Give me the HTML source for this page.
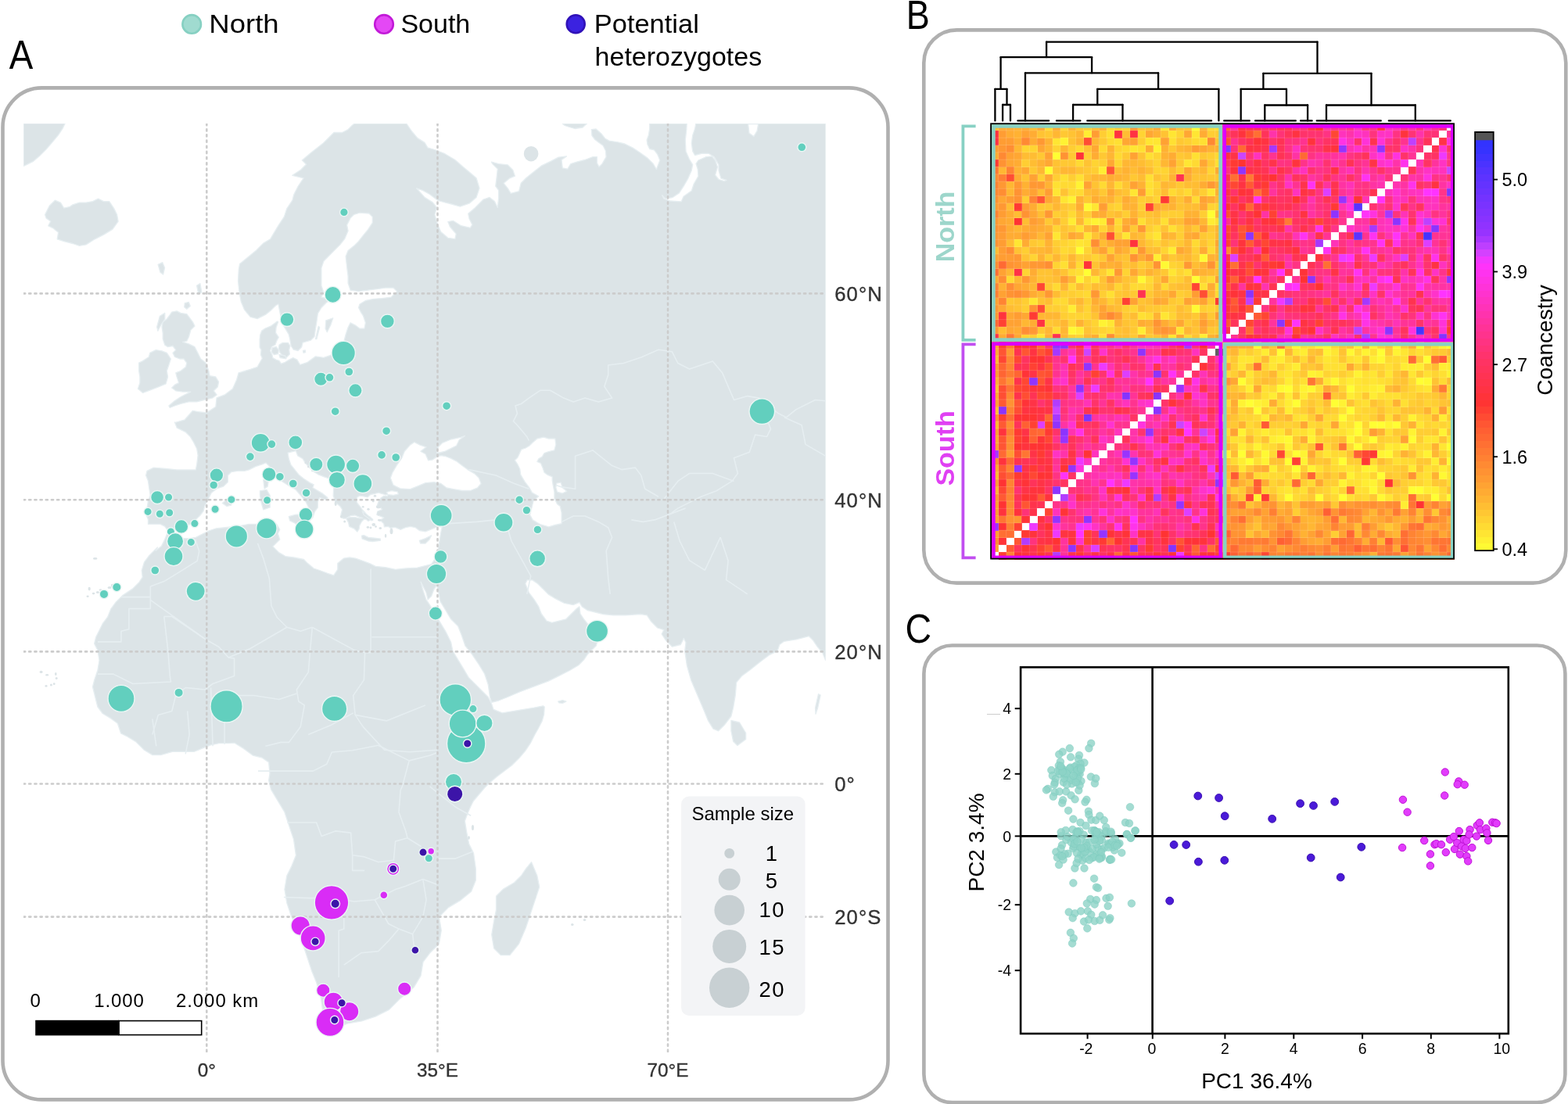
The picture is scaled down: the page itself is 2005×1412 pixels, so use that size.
<!DOCTYPE html>
<html><head><meta charset="utf-8"><title>Figure</title><style>html,body{margin:0;padding:0;background:#fff;}svg{display:block}</style></head><body>
<svg xmlns="http://www.w3.org/2000/svg" width="2005" height="1412" viewBox="0 0 2005 1412" style="display:block">
<rect width="2005" height="1412" fill="#fff"/>
<g fill="none" stroke="#b0b0b0" stroke-width="4.6">
<rect x="3.5" y="112.4" width="1132" height="1294" rx="50" ry="50"/>
<rect x="1181.3" y="38.4" width="821" height="707.2" rx="42" ry="42"/>
<rect x="1181.4" y="825.5" width="820" height="584.6" rx="36" ry="36"/>
</g>
<g font-family="'Liberation Sans', Arial, sans-serif" fill="#000">
<text transform="translate(11.8,88) scale(0.88,1)" font-size="52">A</text>
<text transform="translate(1158.7,36.9) scale(0.867,1)" font-size="52">B</text>
<text transform="translate(1157.4,821.5) scale(0.895,1)" font-size="52">C</text>
</g>
<g>
<circle cx="245.2" cy="30.9" r="11.8" fill="#a0dbd0" stroke="#86d0c2" stroke-width="2.6"/>
<circle cx="491" cy="30.9" r="11.8" fill="#e448f5" stroke="#c21ad8" stroke-width="2.6"/>
<circle cx="736.2" cy="30.7" r="11.5" fill="#3b22e0" stroke="#3012b8" stroke-width="2.6"/>
<g font-family="'Liberation Sans', Arial, sans-serif" font-size="34" fill="#000">
<text transform="translate(267.3,41.7) scale(1.075,1)">North</text>
<text x="512.4" y="41.7">South</text>
<text x="759.8" y="41.6" textLength="134" lengthAdjust="spacingAndGlyphs">Potential</text>
<text x="760.6" y="83.5">heterozygotes</text>
</g></g>
<defs><clipPath id="mapclip"><rect x="30" y="158" width="1025.7" height="1188"/></clipPath></defs>
<g clip-path="url(#mapclip)">
<g fill="#dce4e7" stroke="#e6eef1" stroke-width="1.3" stroke-linejoin="round">
<polygon points="453.5,158.0 519.7,158.0 526.6,168.0 533.9,176.6 543.0,182.4 546.9,188.9 555.9,191.5 568.9,196.7 581.9,204.5 592.2,213.5 600.0,220.0 609.1,227.8 613.0,240.8 609.1,252.4 600.0,260.2 588.4,264.1 579.3,261.5 568.9,258.9 559.8,256.3 549.5,248.5 540.4,243.4 532.6,240.8 543.0,252.4 553.3,258.9 558.5,265.4 555.9,274.5 559.8,287.4 563.7,296.5 572.8,304.3 581.9,305.6 583.2,299.1 575.4,290.0 572.8,283.6 579.3,282.3 589.6,288.7 601.3,291.3 603.9,287.4 600.0,279.7 598.7,273.2 607.8,265.4 618.2,255.0 626.0,252.4 632.4,257.6 636.3,265.4 637.6,253.7 637.6,243.4 633.7,238.2 635.0,227.8 636.3,216.1 629.8,209.6 628.5,207.1 637.6,209.6 649.3,210.9 655.8,217.4 658.4,225.2 651.9,227.8 644.1,234.3 649.3,240.8 653.2,247.3 663.6,244.7 666.2,234.3 672.6,227.8 679.1,222.6 692.1,212.2 705.1,205.8 714.1,201.2 724.5,199.9 718.0,204.5 719.3,214.8 725.8,216.1 729.7,209.6 737.5,207.1 747.8,204.5 758.2,200.6 763.4,200.6 763.4,208.4 766.0,213.5 769.9,209.6 775.1,200.6 774.4,192.8 771.2,186.3 766.0,182.4 760.8,178.5 756.9,173.3 756.3,165.6 762.1,164.9 768.6,170.7 773.8,177.2 779.0,180.1 790.0,181.8 798.9,184.0 809.1,189.1 817.7,194.8 827.9,202.1 835.1,209.3 839.4,216.5 843.8,205.0 840.9,197.7 836.5,191.9 830.7,190.5 827.9,184.7 827.1,178.9 829.3,173.1 830.7,164.5 830.7,158.0 878.2,158.0 877.8,165.9 876.3,178.9 877.0,193.4 881.4,203.5 885.7,210.7 884.3,218.0 879.9,228.1 874.1,238.2 868.4,246.9 859.7,252.7 851.0,254.1 846.7,249.8 848.8,254.1 856.8,257.0 871.2,257.8 874.1,251.2 884.3,244.0 887.2,235.3 892.9,225.2 892.2,216.5 890.0,209.3 892.9,205.0 903.1,200.6 910.3,199.9 914.6,205.0 917.5,213.6 914.6,223.8 919.0,229.5 926.2,231.7 929.1,230.3 921.9,228.1 919.0,218.0 919.0,210.7 913.2,200.6 906.0,196.3 897.3,196.3 888.6,198.5 885.7,193.4 884.3,183.3 885.7,173.1 888.6,164.5 889.8,158.0 1055.7,158.0 1055.7,844.7 1051.9,835.2 1045.2,827.2 1039.8,819.1 1034.4,813.7 1018.3,817.8 1002.2,820.4 996.8,824.5 994.1,832.6 983.3,837.9 972.6,846.0 959.1,856.8 948.3,864.8 941.6,872.9 940.3,889.1 937.6,905.2 934.9,916.0 926.8,926.7 918.7,934.8 912.0,932.1 905.3,921.3 899.9,907.9 891.8,889.1 883.8,870.2 878.4,851.4 875.7,832.6 877.0,821.8 874.3,816.4 870.3,824.5 859.6,827.2 851.5,819.1 846.1,811.0 848.8,805.6 840.7,803.0 832.6,794.9 827.3,786.8 819.2,785.5 800.4,786.8 784.2,786.8 770.8,785.5 769.2,785.0 751.1,780.5 744.3,775.9 740.9,770.3 733.0,773.7 721.6,771.4 710.3,765.7 701.2,760.1 694.4,753.3 687.6,746.5 680.9,741.9 674.1,741.9 671.8,746.5 676.3,757.8 683.1,766.9 688.8,775.9 692.2,785.0 699.0,794.1 705.8,796.3 714.8,794.1 723.9,791.8 730.7,785.0 737.5,778.2 740.9,775.9 742.0,785.0 746.6,791.8 755.6,803.1 764.7,816.7 762.4,825.8 755.6,832.6 751.1,837.1 746.6,843.9 739.8,850.7 728.4,857.5 714.8,864.3 701.2,871.1 683.1,877.9 665.0,884.7 649.1,891.5 637.8,896.0 628.7,898.3 626.5,891.5 624.2,875.6 619.7,862.0 612.9,850.7 603.8,837.1 594.8,825.8 590.2,812.2 585.7,800.9 576.6,791.8 569.8,780.5 563.0,769.1 560.8,757.8 558.5,748.7 555.1,753.3 551.7,762.3 547.2,766.9 544.9,757.8 541.5,751.0 538.1,744.2 540.4,753.3 544.9,766.9 549.5,773.7 556.2,785.0 563.0,796.3 569.8,807.6 576.6,821.2 578.9,832.6 585.7,843.9 592.5,855.2 599.3,866.6 608.4,875.6 617.4,884.7 624.2,891.5 628.7,900.5 631.0,907.3 642.3,911.9 655.9,909.6 669.5,907.3 683.1,905.1 694.4,902.8 696.2,904.1 695.6,913.7 693.2,922.1 688.3,931.8 683.5,940.2 678.7,949.8 671.5,960.7 664.3,969.1 654.6,978.7 645.0,985.9 635.4,993.2 626.9,1000.4 619.7,1007.6 612.5,1016.0 605.3,1024.5 601.7,1031.7 598.1,1040.1 594.4,1050.0 596.8,1064.8 599.7,1079.4 605.5,1091.0 608.4,1111.3 608.4,1125.8 602.6,1140.3 588.1,1151.9 573.5,1160.6 564.8,1169.4 561.4,1172.3 564.3,1189.8 561.4,1207.2 549.8,1218.8 541.0,1230.4 538.1,1247.8 529.4,1262.4 512.0,1276.9 497.5,1291.4 480.1,1300.1 462.6,1305.9 445.2,1308.8 427.8,1314.6 419.1,1308.8 413.3,1297.2 410.4,1276.9 404.6,1256.6 398.7,1242.0 392.9,1224.6 387.1,1207.2 381.3,1189.8 372.6,1172.3 366.8,1154.9 363.9,1137.5 366.8,1120.1 372.6,1108.4 378.4,1093.9 375.5,1073.6 369.7,1056.2 363.9,1038.7 355.2,1024.2 346.5,1009.7 343.6,998.1 345.0,989.4 343.6,974.9 334.9,969.0 323.2,966.1 311.6,957.4 300.0,950.2 292.7,950.7 280.0,950.7 269.4,952.9 258.7,957.1 248.1,961.4 237.5,961.4 220.5,961.4 205.6,965.6 195.0,965.6 184.4,959.2 173.7,948.6 163.1,942.2 154.6,938.0 150.4,925.2 141.9,918.9 131.2,912.5 124.9,904.0 122.7,895.5 120.6,887.0 118.5,878.5 120.6,870.0 124.9,857.2 127.0,844.5 124.9,831.7 120.6,823.2 122.7,814.7 127.0,806.2 131.2,797.7 137.6,789.2 141.9,778.6 148.2,770.1 156.7,761.6 169.5,753.1 178.0,744.6 182.2,738.2 181.2,729.7 184.4,719.1 190.7,710.6 201.4,700.0 199.3,704.3 206.4,698.6 210.6,690.1 213.5,683.0 217.7,681.6 224.8,685.9 233.3,688.7 241.8,688.7 250.3,687.3 258.8,683.0 267.3,678.8 275.8,676.0 289.9,674.5 304.1,673.1 318.3,670.3 329.6,670.3 340.9,667.5 350.0,666.0 354.0,670.9 357.8,677.3 355.3,682.4 357.8,690.0 352.7,695.1 348.9,698.9 356.6,706.6 365.5,711.7 375.7,713.0 388.4,715.5 393.5,720.6 401.2,727.0 408.8,729.5 419.0,733.4 426.7,735.9 431.8,728.3 431.8,720.6 439.4,714.2 447.1,713.0 454.7,714.2 462.4,716.8 472.6,720.6 480.2,724.4 493.0,725.7 505.7,728.3 518.5,727.0 533.6,726.1 542.7,723.8 551.7,721.6 556.2,714.8 559.6,705.7 561.9,692.1 564.2,678.5 565.3,674.0 560.0,673.4 550.3,677.3 544.0,679.8 536.3,678.5 531.2,674.7 524.8,673.4 518.5,674.7 512.1,677.3 505.7,674.7 503.9,674.4 499.3,675.5 496.5,673.3 491.4,673.8 490.8,669.9 488.0,667.0 484.0,665.3 488.0,664.2 490.8,661.9 488.0,660.8 481.8,658.5 482.9,654.0 488.6,651.7 486.9,649.5 481.8,647.8 484.0,641.5 486.9,637.0 490.8,634.2 495.4,634.7 496.5,631.3 493.7,633.0 488.0,631.3 484.0,630.2 479.5,631.3 473.8,632.5 469.9,635.9 464.2,634.7 459.7,634.2 456.8,635.9 456.3,638.7 456.3,642.7 458.5,645.5 460.8,648.3 463.1,651.7 466.5,655.1 468.7,659.7 472.7,660.8 476.7,665.3 473.8,664.8 471.0,666.5 468.2,664.2 465.5,664.0 462.5,667.0 459.7,672.1 459.1,676.7 456.8,680.1 454.0,677.2 452.9,676.1 446.6,673.3 445.5,668.2 442.7,663.1 438.7,663.1 435.9,658.5 437.6,651.7 434.7,647.2 429.1,642.7 426.2,634.2 426.8,620.0 421.6,612.3 413.9,609.7 407.6,607.2 401.2,603.3 396.1,598.2 391.0,593.1 387.2,586.8 380.8,582.9 378.2,576.6 368.0,579.1 369.3,586.8 371.9,594.4 377.0,600.8 382.1,607.2 388.4,612.3 396.1,617.4 401.2,619.9 399.9,623.7 406.3,627.6 412.7,631.4 419.0,636.5 416.5,639.0 408.8,636.5 406.3,641.6 406.3,649.2 402.5,654.3 399.9,662.0 396.1,665.8 393.5,660.7 396.1,651.8 393.5,646.7 391.0,641.6 384.6,633.9 378.2,626.3 369.3,621.2 359.1,614.8 352.7,608.4 347.6,600.8 343.8,595.7 340.0,591.9 335.3,593.8 326.8,596.6 318.3,600.9 312.6,602.3 304.1,602.3 295.6,603.7 291.4,608.0 291.4,616.5 285.7,622.1 277.2,625.0 270.1,630.6 265.9,639.1 261.6,647.6 260.2,653.3 256.0,659.0 250.3,664.6 243.2,670.3 233.3,676.0 222.0,678.8 214.9,678.8 210.6,673.1 205.0,670.3 196.5,670.3 189.4,670.3 189.4,664.6 186.6,657.5 188.0,650.5 189.4,640.6 192.2,633.5 190.8,625.0 189.4,615.1 186.6,608.0 188.0,602.3 196.5,598.1 212.1,599.5 226.2,600.9 240.4,600.9 250.3,600.9 251.7,593.8 253.1,582.5 251.7,574.0 247.5,565.5 243.2,558.4 237.5,552.7 226.2,547.1 223.4,540.0 223.5,540.6 236.3,536.8 246.5,525.3 252.9,526.6 264.3,527.9 275.8,520.2 277.1,508.8 287.3,504.9 297.5,497.3 302.6,485.8 305.1,476.9 314.1,474.3 309.7,475.3 320.2,472.3 329.1,469.3 335.3,458.2 333.4,453.7 334.0,447.4 332.1,444.2 332.1,434.6 332.7,428.2 334.7,423.1 339.1,420.0 346.8,416.8 351.9,412.9 354.4,411.0 355.7,411.7 353.1,418.7 352.5,425.7 356.3,431.4 353.8,435.9 351.9,441.0 347.4,443.5 345.5,448.6 348.0,453.7 348.7,457.6 353.1,460.1 357.0,461.4 359.5,465.2 364.6,463.3 369.7,460.1 374.8,457.6 379.9,460.1 383.7,466.5 393.3,463.3 403.5,455.9 403.5,455.9 413.9,457.4 422.8,454.4 431.7,447.0 439.2,441.1 440.6,433.6 442.1,427.7 445.1,418.7 448.1,412.8 454.0,415.8 460.0,420.2 465.9,420.2 467.4,412.8 464.4,403.9 461.5,399.4 458.5,393.5 460.0,389.0 467.4,384.5 477.8,382.3 488.2,381.6 500.1,380.1 507.6,372.6 503.1,368.2 492.7,368.2 482.3,369.7 470.4,371.1 458.5,372.6 448.1,371.1 445.1,362.2 445.1,353.3 443.6,341.4 442.1,328.0 445.1,320.6 452.5,314.6 458.5,308.7 464.4,301.2 470.4,293.8 476.3,284.9 476.3,277.4 471.9,273.0 460.0,272.2 452.5,274.5 448.1,278.9 443.6,287.8 445.1,295.3 440.6,305.7 434.7,313.1 428.7,319.1 421.3,326.5 413.9,334.0 410.9,342.9 410.9,353.3 410.9,365.2 413.9,374.1 410.9,380.1 422.8,383.0 416.8,387.5 410.9,393.5 406.4,400.9 404.9,411.3 403.5,420.2 402.0,430.6 397.5,435.1 387.1,438.1 385.6,444.0 381.1,448.5 375.2,447.0 372.2,442.5 370.7,433.6 369.2,427.7 364.8,420.2 360.3,412.8 358.8,403.9 357.3,396.4 355.9,389.0 352.9,390.5 346.9,396.4 339.5,402.4 329.1,407.6 320.2,405.4 312.7,396.4 308.3,386.0 306.0,374.1 304.5,359.2 305.3,344.4 306.6,337.6 317.3,328.8 327.9,319.9 336.7,311.1 345.6,305.8 350.9,296.9 356.2,288.1 363.3,277.4 366.8,266.8 373.9,256.2 375.7,249.1 381.0,238.5 388.1,227.9 373.9,224.3 384.5,217.3 391.6,210.2 386.3,204.9 396.9,196.0 405.8,188.9 412.8,183.6 421.7,174.8 427.0,169.5 437.6,169.5 444.7,165.9 450.0,160.6"/>
<polygon points="30.1,157.9 83.1,157.9 80.2,164.2 74.6,172.7 67.5,181.2 59.0,191.1 50.5,199.6 42.0,206.7 33.5,210.9 30.1,212.3"/>
<polygon points="57.6,274.6 63.2,263.3 70.3,256.2 77.4,259.1 81.7,266.1 88.7,264.7 93.0,261.9 101.5,259.1 110.0,259.1 118.5,257.6 125.6,254.2 132.6,257.6 139.7,257.6 145.4,266.1 149.6,274.6 151.1,283.1 144.0,293.1 132.6,300.1 121.3,305.8 110.0,312.9 101.5,314.3 93.0,311.5 81.7,308.6 73.2,305.8 74.6,297.3 67.5,291.6 61.8,288.8 64.7,283.1 59.0,278.9"/>
<polygon points="202.1,338.4 207.7,335.6 210.6,342.6 208.6,351.1 204.9,348.3"/>
<polygon points="177.6,464.1 182.7,461.6 190.4,456.5 191.7,451.4 199.3,447.6 207.0,448.8 213.3,451.4 218.4,459.0 215.9,466.7 213.3,474.3 214.6,482.0 212.1,490.9 203.1,494.7 192.9,498.6 182.7,502.4 176.4,497.3 178.9,489.6 178.9,482.0 177.6,474.3"/>
<polygon points="219.7,399.1 226.1,397.8 231.2,400.4 238.8,401.7 246.5,411.9 249.0,417.0 243.9,422.1 241.4,431.0 238.8,436.1 233.7,437.4 241.4,439.9 249.0,443.7 252.9,451.4 256.7,459.0 263.1,464.1 266.9,474.3 268.2,480.7 275.8,482.0 279.6,488.4 278.4,494.7 273.3,499.8 277.1,504.9 272.0,508.8 261.8,511.3 251.6,513.9 241.4,513.9 231.2,516.4 223.5,519.0 217.2,521.5 215.9,519.0 223.5,512.6 231.2,507.5 238.8,503.7 243.9,501.1 233.7,501.1 224.8,499.8 219.7,496.0 223.5,492.2 228.6,489.6 226.1,482.0 224.8,476.9 231.2,474.3 237.6,469.2 238.8,464.1 235.0,459.0 229.9,459.0 223.5,456.5 221.0,451.4 224.8,447.6 221.0,442.5 214.6,443.7 210.8,441.2 208.2,433.5 208.2,425.9 207.0,418.2 208.2,411.9 213.3,408.0 217.2,402.9"/>
<polygon points="204.4,404.2 210.8,400.4 210.8,408.0 205.7,415.7 201.9,423.3 200.6,418.2"/>
<polygon points="236.3,387.6 241.4,386.4 243.3,391.5 238.8,395.3 235.7,392.7"/>
<polygon points="251.6,365.3 255.9,362.5 257.9,373.8 253.9,376.6"/>
<polygon points="369.3,660.7 378.2,658.2 387.2,658.2 394.8,656.9 396.1,662.0 393.5,668.3 394.8,674.7 391.0,677.3 383.3,673.4 375.7,668.3 370.6,665.8"/>
<polygon points="336.7,613.6 340.9,610.8 343.1,616.5 342.3,622.1 338.1,625.0"/>
<polygon points="332.4,627.8 340.9,626.4 345.2,633.5 345.2,649.0 336.7,651.9 333.9,642.0 332.4,633.5"/>
<polygon points="284.3,643.4 289.9,639.1 297.0,640.6 295.6,646.2 289.9,647.6"/>
<polygon points="462.5,685.2 465.3,684.6 471.0,687.4 476.7,688.0 486.3,689.1 486.3,691.4 476.7,692.5 471.0,692.0 463.1,689.1"/>
<polygon points="536.3,691.3 544.0,688.7 551.6,684.9 549.1,690.0 544.0,695.1 537.6,695.1"/>
<polygon points="357.0,441.0 361.4,438.4 368.4,438.4 371.0,442.3 369.7,447.4 370.4,453.1 365.9,457.6 361.4,455.0 358.2,451.2 356.3,446.1"/>
<polygon points="348.0,444.8 353.1,443.5 356.3,447.4 355.7,452.5 350.6,453.7 347.4,450.5"/>
<polygon points="357.0,453.7 364.6,455.0 365.9,458.8 358.2,457.6"/>
<polygon points="387.5,448.5 390.3,447.9 390.6,450.6 388.0,451.3"/>
<polygon points="416.8,409.8 425.8,406.8 422.8,415.8 418.3,424.7 416.1,420.2"/>
<polygon points="407.2,417.3 408.7,418.7 404.9,433.6 403.5,433.6"/>
<polygon points="679.5,1102.6 686.8,1120.0 689.7,1134.5 683.9,1151.9 678.1,1169.4 672.3,1186.8 663.6,1207.1 651.9,1221.6 640.3,1221.6 631.6,1212.9 628.7,1195.5 631.6,1178.1 634.5,1163.6 634.5,1146.1 643.2,1137.4 657.7,1128.7 666.5,1120.0 672.3,1111.3"/>
<polygon points="934.9,921.3 945.6,924.0 953.7,937.5 953.7,945.6 943.0,953.6 937.6,948.2 934.9,934.8"/>
<polygon points="1046.5,887.7 1049.2,889.1 1045.7,905.2 1043.0,913.3 1042.5,905.2"/>
<polygon points="719.3,158.0 750.4,158.0 745.0,163.0 735.0,164.5 728.0,162.5 722.0,160.5"/>
<polygon points="713.7,897.1 719.4,895.6 723.9,897.1 719.4,899.4 714.8,898.9"/>
<polygon points="463.1,654.0 467.0,656.3 471.0,659.7 476.7,664.2 475.5,665.9 469.9,661.9 465.3,658.5"/>
</g>
<g fill="#dce4e7">
<ellipse cx="679.1" cy="196.7" rx="9.3" ry="9.7"/>
<ellipse cx="114.2" cy="753.1" rx="1.6" ry="2.4"/>
<ellipse cx="119.6" cy="759.1" rx="1.8" ry="1.4"/>
<ellipse cx="124.9" cy="757.4" rx="2.0" ry="1.5"/>
<ellipse cx="112.1" cy="762.7" rx="1.6" ry="1.3"/>
<ellipse cx="128.5" cy="754.5" rx="1.8" ry="1.3"/>
<ellipse cx="140.0" cy="751.5" rx="2.5" ry="1.5"/>
<ellipse cx="143.5" cy="749.0" rx="1.6" ry="2.2"/>
<ellipse cx="121.7" cy="714.4" rx="2.8" ry="1.4"/>
<ellipse cx="52.6" cy="859.4" rx="2.0" ry="1.6"/>
<ellipse cx="60.1" cy="863.2" rx="2.0" ry="1.2"/>
<ellipse cx="71.3" cy="861.9" rx="1.3" ry="2.0"/>
<ellipse cx="72.2" cy="867.4" rx="1.5" ry="1.5"/>
<ellipse cx="59.0" cy="877.4" rx="1.6" ry="1.4"/>
<ellipse cx="65.4" cy="875.9" rx="1.5" ry="1.5"/>
<ellipse cx="69.2" cy="874.7" rx="1.4" ry="1.4"/>
<ellipse cx="683.5" cy="1148.5" rx="1.2" ry="1.2"/>
<ellipse cx="731.8" cy="1182.5" rx="1.8" ry="1.5"/>
<ellipse cx="747.5" cy="1176.5" rx="1.8" ry="1.6"/>
<ellipse cx="604.5" cy="1058.5" rx="1.6" ry="3.5"/>
<ellipse cx="599.5" cy="1071.5" rx="1.4" ry="2.2"/>
<ellipse cx="471.0" cy="651.2" rx="1.7" ry="1.5"/>
<ellipse cx="464.2" cy="648.3" rx="1.4" ry="1.2"/>
<ellipse cx="479.5" cy="634.2" rx="1.7" ry="1.5"/>
<ellipse cx="477.2" cy="641.0" rx="1.6" ry="1.4"/>
<ellipse cx="484.0" cy="648.3" rx="3.0" ry="2.0"/>
<ellipse cx="484.0" cy="656.8" rx="1.8" ry="2.8"/>
<ellipse cx="485.2" cy="665.3" rx="2.4" ry="1.4"/>
<ellipse cx="477.8" cy="671.0" rx="2.4" ry="2.0"/>
<ellipse cx="470.4" cy="674.4" rx="1.8" ry="1.3"/>
<ellipse cx="486.3" cy="675.5" rx="1.8" ry="1.6"/>
<ellipse cx="500.5" cy="679.5" rx="2.0" ry="3.8"/>
<ellipse cx="493.1" cy="685.2" rx="1.2" ry="2.5"/>
<ellipse cx="474.0" cy="675.0" rx="1.4" ry="1.4"/>
<ellipse cx="480.5" cy="673.5" rx="1.5" ry="1.3"/>
<ellipse cx="429.2" cy="644.1" rx="1.5" ry="3.0"/>
<ellipse cx="436.9" cy="660.7" rx="2.0" ry="2.0"/>
<ellipse cx="440.7" cy="667.1" rx="1.5" ry="1.5"/>
<ellipse cx="391.0" cy="591.9" rx="1.5" ry="1.2"/>
<ellipse cx="394.8" cy="597.0" rx="2.0" ry="1.2"/>
<ellipse cx="399.9" cy="602.1" rx="2.0" ry="1.2"/>
</g>
<g fill="#fff" stroke="#e6eef1" stroke-width="1.3" stroke-linejoin="round">
<polygon points="499.3,611.3 502.0,604.1 507.3,595.2 513.6,586.2 517.2,577.2 524.4,569.1 529.8,565.5 537.0,569.1 545.0,571.8 537.9,577.2 544.1,580.8 547.7,588.9 553.1,588.0 558.5,584.4 563.9,582.6 569.3,583.5 576.5,586.2 583.7,589.8 590.8,595.2 598.0,600.6 607.0,605.9 612.4,611.3 615.1,618.5 610.6,623.9 601.6,627.5 590.8,627.5 580.1,625.7 571.1,623.9 563.9,618.5 554.9,616.7 544.1,617.6 533.4,622.1 524.4,625.7 511.8,624.8 502.8,620.3"/>
<polygon points="558.5,579.0 560.3,571.8 565.7,566.4 576.5,562.0 589.0,559.3 594.4,557.5 587.2,562.8 583.7,570.0 576.5,573.6 569.3,577.2 562.1,579.0"/>
<polygon points="695.1,559.2 701.6,561.0 709.8,561.0 710.8,568.4 708.9,575.8 701.6,577.6 696.0,579.5 693.3,584.1 688.7,586.8 686.8,590.5 691.4,592.3 694.2,598.8 696.0,604.3 699.7,607.1 706.2,609.8 706.2,614.4 707.1,620.0 708.9,629.2 708.9,637.5 712.6,644.8 716.3,647.6 718.1,655.9 718.1,669.7 709.8,671.5 701.6,673.8 690.5,670.6 681.3,665.1 677.6,658.6 680.4,647.6 682.2,640.2 688.7,634.7 680.4,630.1 676.7,623.6 671.2,616.3 665.7,607.1 664.7,599.7 662.0,594.2 658.3,588.7 662.0,585.0 666.6,574.9 672.1,573.0 676.7,570.3 681.3,565.7 686.8,561.0"/>
<polygon points="711.7,618.1 717.2,617.2 719.0,623.6 724.6,628.3 719.0,631.0 712.6,629.2 710.8,623.6"/>
<polygon points="443.0,662.5 448.3,659.6 454.0,659.0 459.7,661.4 464.0,662.6 459.7,662.9 454.0,661.6 448.0,661.7"/>
<polygon points="494.2,629.5 500.6,627.6 508.3,628.8 509.5,632.0 503.2,633.3 496.2,632.7"/>
<polygon points="956.6,158.7 969.6,158.7 968.1,167.4 963.8,174.6 958.0,170.2"/>
</g>
<g fill="none" stroke="#e6eef1" stroke-width="1.6" stroke-linejoin="round">
<polyline points="154.9,763.6 192.3,763.6"/>
<polyline points="192.3,749.9 192.3,778.5 164.9,778.5 164.9,804.7 154.9,807.2 154.9,820.9 125.0,820.9"/>
<polyline points="192.3,749.9 209.8,743.6 232.2,729.9 252.2,717.4 254.7,705.0 249.7,690.0"/>
<polyline points="192.3,767.3 262.1,817.2 279.6,827.2 292.1,840.9"/>
<polyline points="209.8,788.5 219.8,788.5 262.1,817.2"/>
<polyline points="209.8,788.5 214.8,832.1 217.3,864.6 218.5,872.0 194.8,873.3 169.9,874.5 144.9,862.1 125.0,862.1"/>
<polyline points="292.1,840.9 319.5,829.7 366.9,802.2 384.3,807.2 399.3,802.2"/>
<polyline points="366.9,802.2 354.4,789.8 346.9,774.8 344.4,739.9 337.0,714.9 329.5,695.0"/>
<polyline points="292.1,840.9 299.6,842.1 299.6,864.6 272.1,874.5 262.1,882.0 237.2,879.5 224.7,889.5 219.8,909.5 202.3,914.4 194.8,939.4"/>
<polyline points="399.3,802.2 454.2,832.1 466.6,834.6 474.1,834.6 474.1,814.7 474.1,727.4"/>
<polyline points="475.4,814.7 558.9,814.7"/>
<polyline points="466.6,834.6 465.4,869.6 451.7,889.5 454.2,914.4 464.1,929.4"/>
<polyline points="399.3,802.2 396.8,829.7 394.3,859.6 379.4,882.0 381.8,897.0 389.3,902.0 384.3,929.4 369.4,949.4 359.4,949.4 339.5,954.3"/>
<polyline points="279.6,889.5 324.5,889.5 356.9,894.5 379.4,887.0"/>
<polyline points="454.2,914.4 494.1,921.9 543.9,902.0"/>
<polyline points="269.6,879.5 272.1,954.3"/>
<polyline points="287.1,921.9 287.1,951.8"/>
<polyline points="239.7,909.5 242.2,939.4 237.2,964.3"/>
<polyline points="194.8,919.4 199.8,954.3"/>
<polyline points="394.3,939.4 424.2,926.9 451.7,911.9"/>
<polyline points="464.1,929.4 491.6,959.3 524.0,961.8 558.9,959.3"/>
<polyline points="676.3,563.5 673.8,558.5 661.4,543.7 656.5,538.7 661.4,528.8 659.0,519.0 666.4,516.5 676.3,509.1 691.1,499.2 703.5,499.2 720.8,509.1 733.2,514.0 748.0,509.1 765.3,514.0 782.6,509.1 772.8,494.2 777.7,479.4 777.7,467.0 797.5,464.5 819.8,457.1 842.0,447.2 859.3,449.7 866.8,464.5 881.6,472.0 911.3,462.1 923.7,476.9 938.5,511.5 955.8,506.6 970.7,509.1 995.4,528.8 1005.3,533.8 1017.7,523.9 1042.4,511.5 1056.0,512.8"/>
<polyline points="980.6,536.3 985.5,548.6 980.6,558.5 965.7,556.1 958.3,578.3 938.5,585.7 943.4,605.5 936.0,615.4 916.2,627.8 896.4,635.2 881.6,642.6 866.8,650.1 856.9,657.5"/>
<polyline points="710.9,620.4 718.3,622.9 735.6,625.3 735.6,583.3 757.9,575.9 782.6,595.6 795.0,600.6 812.3,598.1 819.8,608.0 824.7,625.3 842.0,635.2"/>
<polyline points="849.4,637.7 866.8,615.4 881.6,605.5 911.3,605.5 938.5,615.4"/>
<polyline points="718.3,667.4 733.2,660.0 748.0,660.0 765.3,667.4 777.7,674.8 782.6,687.2 775.2,704.5 777.7,739.1 780.2,759.9"/>
<polyline points="807.4,664.9 822.2,667.4 837.1,664.9 856.9,657.5 876.7,650.1"/>
<polyline points="646.6,667.4 654.0,692.1 666.4,714.4 678.7,736.7 673.8,759.9"/>
<polyline points="569.9,669.9 609.5,667.4 634.2,664.9 646.6,667.4"/>
<polyline points="921.2,687.2 931.1,716.9 928.6,741.6 955.8,759.9"/>
<polyline points="1002.8,533.8 1025.1,543.7 1030.0,568.4 1056.0,583.3"/>
<polyline points="599.6,600.6 634.2,608.0 656.5,617.9 676.3,625.3"/>
<polyline points="861.8,667.4 869.2,692.1 881.6,716.9 901.4,729.2 921.2,687.2"/>
<polyline points="367.3,1052.0 404.6,1052.0 411.2,1069.5 428.8,1062.9 448.6,1065.1 450.7,1093.7 466.1,1095.9 483.7,1102.5 503.4,1100.3 505.6,1076.1 521.0,1071.7 538.6,1082.7"/>
<polyline points="362.9,1147.5 395.9,1148.6 426.6,1148.6 452.9,1153.0 479.3,1150.8"/>
<polyline points="450.7,1093.7 450.7,1113.4 466.1,1113.4"/>
<polyline points="439.8,1155.1 439.8,1188.1 433.2,1190.3 433.2,1250.0"/>
<polyline points="479.3,1150.8 496.8,1181.5 510.0,1188.1 527.6,1194.7 529.8,1214.4"/>
<polyline points="439.8,1234.2 461.7,1218.8 483.7,1216.6 496.8,1203.4 510.0,1188.1"/>
<polyline points="479.3,1150.8 505.6,1137.6 518.8,1133.2 540.8,1124.4 558.3,1131.0"/>
<polyline points="558.3,1098.1 582.5,1098.1 604.4,1089.3"/>
<polyline points="512.2,1010.3 510.0,1038.8 518.8,1062.9 521.0,1071.7"/>
<polyline points="549.5,1005.9 582.5,1032.2 602.2,1043.2"/>
<polyline points="330.0,986.1 358.5,986.1 400.3,986.1 417.8,977.3 424.4,962.0 450.7,959.8 483.7,953.2 523.2,972.9 549.5,966.3 560.5,962.0"/>
<polyline points="540.8,1124.4 545.1,1150.8 540.8,1172.7 527.6,1194.7"/>
<polyline points="523.2,972.9 514.4,1005.9 512.2,1010.3"/>
</g>
<g stroke="#cccccc" stroke-width="2.6" stroke-dasharray="2.2 4.98" stroke-linecap="round" fill="none">
<line x1="30" y1="375.4" x2="1055.7" y2="375.4"/>
<line x1="30" y1="639.3" x2="1055.7" y2="639.3"/>
<line x1="30" y1="833.4" x2="1055.7" y2="833.4"/>
<line x1="30" y1="1002.5" x2="1055.7" y2="1002.5"/>
<line x1="30" y1="1172.6" x2="1055.7" y2="1172.6"/>
<line x1="264.3" y1="158" x2="264.3" y2="1346"/>
<line x1="559.5" y1="158" x2="559.5" y2="1346"/>
<line x1="854.0" y1="158" x2="854.0" y2="1346"/>
</g>
</g>
<g font-family="'Liberation Sans', Arial, sans-serif" font-size="25.7" fill="#333" stroke="#333" stroke-width="0.35">
<text x="1067.2" y="384.9" letter-spacing="1.1">60°N</text>
<text x="1067.2" y="648.9" letter-spacing="1.1">40°N</text>
<text x="1067.2" y="843.1" letter-spacing="1.1">20°N</text>
<text x="1067.2" y="1012.2" letter-spacing="1.1">0°</text>
<text x="1067.2" y="1182.3" letter-spacing="1.1">20°S</text>
</g>
<g font-family="'Liberation Sans', Arial, sans-serif" font-size="24.3" fill="#333" stroke="#333" stroke-width="0.35">
<text x="264.3" y="1377" text-anchor="middle">0°</text>
<text x="559.5" y="1377" text-anchor="middle">35°E</text>
<text x="854.0" y="1377" text-anchor="middle">70°E</text>
</g>
<g fill="#62cfbe" stroke="#eaf6f4" stroke-width="1.4">
<circle cx="1025.3" cy="188.3" r="5.5"/>
<circle cx="439.9" cy="271.4" r="5.3"/>
<circle cx="425.6" cy="376.9" r="10.5"/>
<circle cx="367" cy="408.6" r="8.9"/>
<circle cx="495.4" cy="410.9" r="8.9"/>
<circle cx="439.2" cy="451.5" r="15.2"/>
<circle cx="446.3" cy="475.5" r="5.5"/>
<circle cx="410.3" cy="484.8" r="8.7"/>
<circle cx="421.5" cy="482.8" r="5.5"/>
<circle cx="454.4" cy="499.3" r="8.7"/>
<circle cx="428.7" cy="526.2" r="5.5"/>
<circle cx="571.1" cy="519.2" r="5.5"/>
<circle cx="494.1" cy="551.2" r="5.5"/>
<circle cx="333.2" cy="566.2" r="12"/>
<circle cx="347.4" cy="568.1" r="5.5"/>
<circle cx="377.8" cy="565.9" r="9"/>
<circle cx="319.9" cy="584.1" r="5.5"/>
<circle cx="488.1" cy="581.9" r="5.5"/>
<circle cx="506.2" cy="585" r="5.5"/>
<circle cx="404.3" cy="594" r="8.7"/>
<circle cx="429.6" cy="594" r="12"/>
<circle cx="451.1" cy="595.8" r="8.7"/>
<circle cx="344.1" cy="606.7" r="9"/>
<circle cx="357.9" cy="609.7" r="5.5"/>
<circle cx="430.9" cy="613.8" r="10.6"/>
<circle cx="463.9" cy="618.5" r="12"/>
<circle cx="374.8" cy="618.5" r="5.5"/>
<circle cx="391.6" cy="630.4" r="5.4"/>
<circle cx="276.9" cy="607.7" r="8.8"/>
<circle cx="273.2" cy="620.4" r="5.4"/>
<circle cx="295.9" cy="638.9" r="5.2"/>
<circle cx="341.6" cy="639.8" r="5.2"/>
<circle cx="275.1" cy="651.2" r="5.2"/>
<circle cx="201.1" cy="636" r="8.5"/>
<circle cx="215.6" cy="636" r="5.2"/>
<circle cx="189.1" cy="654.4" r="5.2"/>
<circle cx="204.3" cy="657.3" r="5.2"/>
<circle cx="216.7" cy="655.8" r="5.2"/>
<circle cx="231.9" cy="673.4" r="8.8"/>
<circle cx="248.9" cy="669.6" r="5.2"/>
<circle cx="218.4" cy="679.9" r="5.2"/>
<circle cx="224.1" cy="692.2" r="10.6"/>
<circle cx="244.3" cy="693.4" r="5.2"/>
<circle cx="222" cy="711.6" r="12"/>
<circle cx="198.3" cy="729.5" r="5.5"/>
<circle cx="250.2" cy="756.3" r="12.1"/>
<circle cx="302.4" cy="685.9" r="14.2"/>
<circle cx="340.9" cy="675.7" r="13.2"/>
<circle cx="391" cy="658.2" r="8.9"/>
<circle cx="389.1" cy="677" r="11.9"/>
<circle cx="133" cy="759.9" r="5.7"/>
<circle cx="149.3" cy="751" r="5.7"/>
<circle cx="564.2" cy="659.3" r="14"/>
<circle cx="644" cy="668.3" r="12"/>
<circle cx="664.1" cy="639.2" r="5.4"/>
<circle cx="673.4" cy="652.6" r="5.4"/>
<circle cx="687.4" cy="677.4" r="5.4"/>
<circle cx="563.5" cy="712" r="8.4"/>
<circle cx="558.1" cy="734" r="12.7"/>
<circle cx="556.9" cy="784.5" r="8.6"/>
<circle cx="687.2" cy="714.3" r="10.4"/>
<circle cx="763.5" cy="807.2" r="14"/>
<circle cx="155" cy="893.4" r="17"/>
<circle cx="228.6" cy="885.9" r="5.7"/>
<circle cx="289.6" cy="903.4" r="20.6"/>
<circle cx="427.6" cy="906.4" r="16.1"/>
<circle cx="582.3" cy="895" r="20.3"/>
<circle cx="604.9" cy="906.6" r="5.2"/>
<circle cx="596.2" cy="951" r="24.7"/>
<circle cx="591.6" cy="925.5" r="17.4"/>
<circle cx="619.4" cy="924.9" r="10.7"/>
<circle cx="580" cy="1000.1" r="10.7"/>
<circle cx="548.3" cy="1097.7" r="5.2"/>
<circle cx="974.3" cy="526.2" r="16.3"/>
</g>
<g fill="#d92cf6" stroke="#eaf6f4" stroke-width="1.4">
<circle cx="424" cy="1154.3" r="21.8"/>
<circle cx="384.2" cy="1184" r="12.2"/>
<circle cx="400.2" cy="1199.9" r="16"/>
<circle cx="502.7" cy="1111.3" r="8.1"/>
<circle cx="490.8" cy="1144.7" r="5"/>
<circle cx="551.2" cy="1088.7" r="4.4"/>
<circle cx="517.2" cy="1264.7" r="8.7"/>
<circle cx="413.3" cy="1266.7" r="8.7"/>
<circle cx="426.3" cy="1281.2" r="12.2"/>
<circle cx="446.7" cy="1293.7" r="12.2"/>
<circle cx="422" cy="1307.4" r="18"/>
</g>
<g fill="#3c14a8" stroke="#eaf6f4" stroke-width="1.4">
<circle cx="428.7" cy="1155.8" r="5.8"/>
<circle cx="403.1" cy="1204.3" r="5.2"/>
<circle cx="502.7" cy="1111.3" r="5.2"/>
<circle cx="541" cy="1090.1" r="5.2"/>
<circle cx="530.9" cy="1215.3" r="5"/>
<circle cx="437.1" cy="1282.7" r="5.2"/>
<circle cx="427.8" cy="1304.5" r="5.2"/>
<circle cx="581.7" cy="1015.5" r="10.2"/>
<circle cx="597.7" cy="951" r="5.2"/>
</g>
<rect x="45.2" y="1304.8" width="106.9" height="19.6" fill="#000"/>
<rect x="152.1" y="1305.6" width="105.6" height="18" fill="#fff" stroke="#000" stroke-width="1.6"/>
<g font-family="'Liberation Sans', Arial, sans-serif" font-size="24" fill="#000">
<text x="38.6" y="1287.7">0</text><text x="120.2" y="1287.7" letter-spacing="0.9">1.000</text><text x="224.9" y="1287.7" letter-spacing="0.95">2.000 km</text>
</g>
<rect x="871.1" y="1018.5" width="158.5" height="280.5" rx="10" fill="#f3f4f6"/>
<text x="949.8" y="1048.7" font-family="'Liberation Sans', Arial, sans-serif" font-size="24" text-anchor="middle">Sample size</text>
<g fill="#c8d0d3">
<circle cx="932.7" cy="1091.4" r="6.4"/>
<circle cx="932.7" cy="1124.8" r="14"/>
<circle cx="932.7" cy="1164.1" r="19.3"/>
<circle cx="932.7" cy="1210.4" r="21.5"/>
<circle cx="932.7" cy="1263.3" r="25.7"/>
</g>
<g font-family="'Liberation Sans', Arial, sans-serif" font-size="27.5" text-anchor="middle" letter-spacing="1.6">
<text x="987.3" y="1101.4">1</text>
<text x="987.3" y="1136">5</text>
<text x="987.3" y="1173.2">10</text>
<text x="987.3" y="1221">15</text>
<text x="987.3" y="1274.6">20</text>
</g>
<g shape-rendering="crispEdges">
<path fill="#ffbd33" d="M1266.9 157.6h10.2v9.6h-10.2zM1316.3 157.6h10.2v9.6h-10.2zM1395.4 157.6h10.2v9.6h-10.2zM1464.6 157.6h10.2v9.6h-10.2zM1434.9 166.9h10.2v9.6h-10.2zM1306.4 194.8h10.2v9.6h-10.2zM1316.3 194.8h10.2v9.6h-10.2zM1316.3 204.1h10.2v9.6h-10.2zM1454.7 204.1h10.2v9.6h-10.2zM1425.0 213.4h10.2v9.6h-10.2zM1444.8 213.4h10.2v9.6h-10.2zM1464.6 213.4h10.2v9.6h-10.2zM1494.2 213.4h10.2v9.6h-10.2zM1523.9 213.4h10.2v9.6h-10.2zM1454.7 222.7h10.2v9.6h-10.2zM1494.2 232.0h10.2v9.6h-10.2zM1514.0 232.0h10.2v9.6h-10.2zM1523.9 232.0h10.2v9.6h-10.2zM1326.2 241.3h10.2v9.6h-10.2zM1385.5 241.3h10.2v9.6h-10.2zM1425.0 241.3h10.2v9.6h-10.2zM1484.3 241.3h10.2v9.6h-10.2zM1523.9 241.3h10.2v9.6h-10.2zM1553.5 250.6h10.2v9.6h-10.2zM1286.7 259.9h10.2v9.6h-10.2zM1514.0 259.9h10.2v9.6h-10.2zM1523.9 259.9h10.2v9.6h-10.2zM1296.6 269.2h10.2v9.6h-10.2zM1326.2 269.2h10.2v9.6h-10.2zM1375.6 269.2h10.2v9.6h-10.2zM1425.0 269.2h10.2v9.6h-10.2zM1474.5 269.2h10.2v9.6h-10.2zM1306.4 278.5h10.2v9.6h-10.2zM1504.1 278.5h10.2v9.6h-10.2zM1454.7 297.0h10.2v9.6h-10.2zM1286.7 306.3h10.2v9.6h-10.2zM1405.3 306.3h10.2v9.6h-10.2zM1266.9 315.6h10.2v9.6h-10.2zM1464.6 315.6h10.2v9.6h-10.2zM1474.5 315.6h10.2v9.6h-10.2zM1425.0 324.9h10.2v9.6h-10.2zM1504.1 324.9h10.2v9.6h-10.2zM1444.8 334.2h10.2v9.6h-10.2zM1523.9 334.2h10.2v9.6h-10.2zM1474.5 343.5h10.2v9.6h-10.2zM1553.5 343.5h10.2v9.6h-10.2zM1346.0 352.8h10.2v9.6h-10.2zM1514.0 352.8h10.2v9.6h-10.2zM1375.6 362.1h10.2v9.6h-10.2zM1395.4 362.1h10.2v9.6h-10.2zM1504.1 362.1h10.2v9.6h-10.2zM1514.0 362.1h10.2v9.6h-10.2zM1346.0 371.4h10.2v9.6h-10.2zM1336.1 380.7h10.2v9.6h-10.2zM1425.0 380.7h10.2v9.6h-10.2zM1464.6 380.7h10.2v9.6h-10.2zM1286.7 390.0h10.2v9.6h-10.2zM1425.0 390.0h10.2v9.6h-10.2zM1454.7 390.0h10.2v9.6h-10.2zM1504.1 390.0h10.2v9.6h-10.2zM1444.8 399.3h10.2v9.6h-10.2zM1504.1 399.3h10.2v9.6h-10.2zM1514.0 399.3h10.2v9.6h-10.2zM1494.2 408.6h10.2v9.6h-10.2zM1523.9 408.6h10.2v9.6h-10.2zM1553.5 408.6h10.2v9.6h-10.2zM1276.8 417.9h10.2v9.6h-10.2zM1434.9 417.9h10.2v9.6h-10.2zM1464.6 417.9h10.2v9.6h-10.2zM1425.0 427.2h10.2v9.6h-10.2zM1434.9 427.2h10.2v9.6h-10.2zM1682.0 445.8h10.2v9.6h-10.2zM1850.0 445.8h10.2v9.6h-10.2zM1612.8 455.1h10.2v9.6h-10.2zM1652.4 455.1h10.2v9.6h-10.2zM1682.0 464.4h10.2v9.6h-10.2zM1830.2 464.4h10.2v9.6h-10.2zM1612.8 483.0h10.2v9.6h-10.2zM1850.0 483.0h10.2v9.6h-10.2zM1266.9 492.3h10.2v9.6h-10.2zM1563.4 492.3h10.2v9.6h-10.2zM1771.0 492.3h10.2v9.6h-10.2zM1691.9 510.9h10.2v9.6h-10.2zM1266.9 520.2h10.2v9.6h-10.2zM1632.6 520.2h10.2v9.6h-10.2zM1672.1 520.2h10.2v9.6h-10.2zM1682.0 548.1h10.2v9.6h-10.2zM1711.7 557.4h10.2v9.6h-10.2zM1573.3 575.9h10.2v9.6h-10.2zM1672.1 585.2h10.2v9.6h-10.2zM1761.1 585.2h10.2v9.6h-10.2zM1583.2 603.8h10.2v9.6h-10.2zM1691.9 603.8h10.2v9.6h-10.2zM1672.1 622.4h10.2v9.6h-10.2zM1731.4 668.9h10.2v9.6h-10.2z"/>
<path fill="#ffac33" d="M1276.8 157.6h10.2v9.6h-10.2zM1286.7 157.6h10.2v9.6h-10.2zM1306.4 157.6h10.2v9.6h-10.2zM1346.0 157.6h10.2v9.6h-10.2zM1474.5 157.6h10.2v9.6h-10.2zM1286.7 166.9h10.2v9.6h-10.2zM1316.3 166.9h10.2v9.6h-10.2zM1533.8 166.9h10.2v9.6h-10.2zM1296.6 176.2h10.2v9.6h-10.2zM1316.3 176.2h10.2v9.6h-10.2zM1464.6 185.5h10.2v9.6h-10.2zM1266.9 194.8h10.2v9.6h-10.2zM1395.4 194.8h10.2v9.6h-10.2zM1494.2 194.8h10.2v9.6h-10.2zM1296.6 204.1h10.2v9.6h-10.2zM1553.5 213.4h10.2v9.6h-10.2zM1296.6 222.7h10.2v9.6h-10.2zM1415.2 222.7h10.2v9.6h-10.2zM1514.0 222.7h10.2v9.6h-10.2zM1533.8 232.0h10.2v9.6h-10.2zM1553.5 232.0h10.2v9.6h-10.2zM1306.4 241.3h10.2v9.6h-10.2zM1395.4 250.6h10.2v9.6h-10.2zM1434.9 250.6h10.2v9.6h-10.2zM1514.0 250.6h10.2v9.6h-10.2zM1543.6 250.6h10.2v9.6h-10.2zM1316.3 259.9h10.2v9.6h-10.2zM1375.6 259.9h10.2v9.6h-10.2zM1474.5 259.9h10.2v9.6h-10.2zM1286.7 269.2h10.2v9.6h-10.2zM1395.4 269.2h10.2v9.6h-10.2zM1405.3 269.2h10.2v9.6h-10.2zM1286.7 278.5h10.2v9.6h-10.2zM1434.9 278.5h10.2v9.6h-10.2zM1286.7 287.8h10.2v9.6h-10.2zM1306.4 287.8h10.2v9.6h-10.2zM1326.2 287.8h10.2v9.6h-10.2zM1286.7 297.0h10.2v9.6h-10.2zM1296.6 297.0h10.2v9.6h-10.2zM1405.3 297.0h10.2v9.6h-10.2zM1514.0 297.0h10.2v9.6h-10.2zM1306.4 306.3h10.2v9.6h-10.2zM1415.2 306.3h10.2v9.6h-10.2zM1533.8 315.6h10.2v9.6h-10.2zM1454.7 324.9h10.2v9.6h-10.2zM1405.3 334.2h10.2v9.6h-10.2zM1425.0 334.2h10.2v9.6h-10.2zM1316.3 343.5h10.2v9.6h-10.2zM1523.9 343.5h10.2v9.6h-10.2zM1266.9 352.8h10.2v9.6h-10.2zM1306.4 362.1h10.2v9.6h-10.2zM1543.6 362.1h10.2v9.6h-10.2zM1316.3 371.4h10.2v9.6h-10.2zM1395.4 380.7h10.2v9.6h-10.2zM1484.3 380.7h10.2v9.6h-10.2zM1523.9 380.7h10.2v9.6h-10.2zM1533.8 399.3h10.2v9.6h-10.2zM1316.3 408.6h10.2v9.6h-10.2zM1454.7 408.6h10.2v9.6h-10.2zM1484.3 408.6h10.2v9.6h-10.2zM1296.6 417.9h10.2v9.6h-10.2zM1276.8 427.2h10.2v9.6h-10.2zM1395.4 427.2h10.2v9.6h-10.2zM1573.3 436.5h10.2v9.6h-10.2zM1612.8 436.5h10.2v9.6h-10.2zM1266.9 483.0h10.2v9.6h-10.2zM1682.0 483.0h10.2v9.6h-10.2zM1830.2 492.3h10.2v9.6h-10.2zM1563.4 501.6h10.2v9.6h-10.2zM1573.3 510.9h10.2v9.6h-10.2zM1622.7 510.9h10.2v9.6h-10.2zM1662.2 557.4h10.2v9.6h-10.2zM1612.8 594.5h10.2v9.6h-10.2zM1612.8 613.1h10.2v9.6h-10.2zM1632.6 650.3h10.2v9.6h-10.2zM1642.5 659.6h10.2v9.6h-10.2zM1751.2 659.6h10.2v9.6h-10.2zM1780.8 659.6h10.2v9.6h-10.2zM1850.0 659.6h10.2v9.6h-10.2zM1662.2 668.9h10.2v9.6h-10.2zM1820.4 668.9h10.2v9.6h-10.2zM1751.2 678.2h10.2v9.6h-10.2zM1771.0 678.2h10.2v9.6h-10.2zM1682.0 687.5h10.2v9.6h-10.2zM1741.3 687.5h10.2v9.6h-10.2z"/>
<path fill="#ffb233" d="M1296.6 157.6h10.2v9.6h-10.2zM1365.7 157.6h10.2v9.6h-10.2zM1405.3 157.6h10.2v9.6h-10.2zM1533.8 157.6h10.2v9.6h-10.2zM1296.6 166.9h10.2v9.6h-10.2zM1474.5 166.9h10.2v9.6h-10.2zM1336.1 176.2h10.2v9.6h-10.2zM1375.6 176.2h10.2v9.6h-10.2zM1415.2 185.5h10.2v9.6h-10.2zM1484.3 185.5h10.2v9.6h-10.2zM1514.0 185.5h10.2v9.6h-10.2zM1543.6 185.5h10.2v9.6h-10.2zM1553.5 185.5h10.2v9.6h-10.2zM1484.3 194.8h10.2v9.6h-10.2zM1326.2 204.1h10.2v9.6h-10.2zM1296.6 213.4h10.2v9.6h-10.2zM1434.9 213.4h10.2v9.6h-10.2zM1454.7 213.4h10.2v9.6h-10.2zM1425.0 222.7h10.2v9.6h-10.2zM1494.2 222.7h10.2v9.6h-10.2zM1306.4 232.0h10.2v9.6h-10.2zM1336.1 232.0h10.2v9.6h-10.2zM1454.7 232.0h10.2v9.6h-10.2zM1553.5 241.3h10.2v9.6h-10.2zM1375.6 250.6h10.2v9.6h-10.2zM1415.2 250.6h10.2v9.6h-10.2zM1494.2 250.6h10.2v9.6h-10.2zM1434.9 259.9h10.2v9.6h-10.2zM1444.8 259.9h10.2v9.6h-10.2zM1494.2 259.9h10.2v9.6h-10.2zM1444.8 269.2h10.2v9.6h-10.2zM1514.0 269.2h10.2v9.6h-10.2zM1523.9 269.2h10.2v9.6h-10.2zM1346.0 278.5h10.2v9.6h-10.2zM1336.1 287.8h10.2v9.6h-10.2zM1415.2 287.8h10.2v9.6h-10.2zM1375.6 297.0h10.2v9.6h-10.2zM1484.3 297.0h10.2v9.6h-10.2zM1336.1 306.3h10.2v9.6h-10.2zM1336.1 315.6h10.2v9.6h-10.2zM1395.4 315.6h10.2v9.6h-10.2zM1434.9 315.6h10.2v9.6h-10.2zM1514.0 315.6h10.2v9.6h-10.2zM1553.5 315.6h10.2v9.6h-10.2zM1326.2 324.9h10.2v9.6h-10.2zM1543.6 324.9h10.2v9.6h-10.2zM1553.5 324.9h10.2v9.6h-10.2zM1365.7 334.2h10.2v9.6h-10.2zM1415.2 334.2h10.2v9.6h-10.2zM1533.8 334.2h10.2v9.6h-10.2zM1464.6 343.5h10.2v9.6h-10.2zM1533.8 343.5h10.2v9.6h-10.2zM1316.3 352.8h10.2v9.6h-10.2zM1425.0 352.8h10.2v9.6h-10.2zM1276.8 362.1h10.2v9.6h-10.2zM1543.6 371.4h10.2v9.6h-10.2zM1474.5 399.3h10.2v9.6h-10.2zM1375.6 408.6h10.2v9.6h-10.2zM1425.0 408.6h10.2v9.6h-10.2zM1464.6 408.6h10.2v9.6h-10.2zM1336.1 427.2h10.2v9.6h-10.2zM1484.3 427.2h10.2v9.6h-10.2zM1543.6 427.2h10.2v9.6h-10.2zM1583.2 436.5h10.2v9.6h-10.2zM1593.1 436.5h10.2v9.6h-10.2zM1741.3 436.5h10.2v9.6h-10.2zM1800.6 436.5h10.2v9.6h-10.2zM1741.3 464.4h10.2v9.6h-10.2zM1780.8 492.3h10.2v9.6h-10.2zM1583.2 501.6h10.2v9.6h-10.2zM1780.8 510.9h10.2v9.6h-10.2zM1573.3 520.2h10.2v9.6h-10.2zM1820.4 520.2h10.2v9.6h-10.2zM1830.2 529.5h10.2v9.6h-10.2zM1583.2 538.8h10.2v9.6h-10.2zM1800.6 538.8h10.2v9.6h-10.2zM1761.1 548.1h10.2v9.6h-10.2zM1563.4 566.7h10.2v9.6h-10.2zM1830.2 566.7h10.2v9.6h-10.2zM1790.7 575.9h10.2v9.6h-10.2zM1840.1 585.2h10.2v9.6h-10.2zM1563.4 594.5h10.2v9.6h-10.2zM1602.9 594.5h10.2v9.6h-10.2zM1662.2 603.8h10.2v9.6h-10.2zM1830.2 603.8h10.2v9.6h-10.2zM1583.2 613.1h10.2v9.6h-10.2zM1266.9 622.4h10.2v9.6h-10.2zM1573.3 631.7h10.2v9.6h-10.2zM1602.9 641.0h10.2v9.6h-10.2zM1662.2 659.6h10.2v9.6h-10.2zM1682.0 659.6h10.2v9.6h-10.2zM1790.7 659.6h10.2v9.6h-10.2zM1810.5 659.6h10.2v9.6h-10.2zM1593.1 668.9h10.2v9.6h-10.2zM1662.2 678.2h10.2v9.6h-10.2zM1751.2 706.1h10.2v9.6h-10.2z"/>
<path fill="#ffa733" d="M1326.2 157.6h10.2v9.6h-10.2zM1494.2 157.6h10.2v9.6h-10.2zM1464.6 166.9h10.2v9.6h-10.2zM1514.0 166.9h10.2v9.6h-10.2zM1434.9 176.2h10.2v9.6h-10.2zM1326.2 185.5h10.2v9.6h-10.2zM1395.4 185.5h10.2v9.6h-10.2zM1533.8 185.5h10.2v9.6h-10.2zM1296.6 194.8h10.2v9.6h-10.2zM1286.7 204.1h10.2v9.6h-10.2zM1336.1 204.1h10.2v9.6h-10.2zM1415.2 204.1h10.2v9.6h-10.2zM1533.8 204.1h10.2v9.6h-10.2zM1306.4 213.4h10.2v9.6h-10.2zM1514.0 213.4h10.2v9.6h-10.2zM1336.1 222.7h10.2v9.6h-10.2zM1415.2 241.3h10.2v9.6h-10.2zM1276.8 250.6h10.2v9.6h-10.2zM1336.1 250.6h10.2v9.6h-10.2zM1533.8 259.9h10.2v9.6h-10.2zM1316.3 269.2h10.2v9.6h-10.2zM1276.8 278.5h10.2v9.6h-10.2zM1326.2 278.5h10.2v9.6h-10.2zM1316.3 287.8h10.2v9.6h-10.2zM1395.4 287.8h10.2v9.6h-10.2zM1316.3 297.0h10.2v9.6h-10.2zM1365.7 297.0h10.2v9.6h-10.2zM1523.9 297.0h10.2v9.6h-10.2zM1553.5 306.3h10.2v9.6h-10.2zM1425.0 315.6h10.2v9.6h-10.2zM1504.1 315.6h10.2v9.6h-10.2zM1444.8 343.5h10.2v9.6h-10.2zM1484.3 352.8h10.2v9.6h-10.2zM1296.6 362.1h10.2v9.6h-10.2zM1494.2 371.4h10.2v9.6h-10.2zM1474.5 380.7h10.2v9.6h-10.2zM1276.8 390.0h10.2v9.6h-10.2zM1286.7 399.3h10.2v9.6h-10.2zM1306.4 399.3h10.2v9.6h-10.2zM1504.1 408.6h10.2v9.6h-10.2zM1286.7 417.9h10.2v9.6h-10.2zM1533.8 417.9h10.2v9.6h-10.2zM1296.6 427.2h10.2v9.6h-10.2zM1454.7 427.2h10.2v9.6h-10.2zM1504.1 427.2h10.2v9.6h-10.2zM1553.5 427.2h10.2v9.6h-10.2zM1266.9 445.8h10.2v9.6h-10.2zM1721.5 464.4h10.2v9.6h-10.2zM1573.3 483.0h10.2v9.6h-10.2zM1602.9 492.3h10.2v9.6h-10.2zM1691.9 492.3h10.2v9.6h-10.2zM1266.9 501.6h10.2v9.6h-10.2zM1682.0 529.5h10.2v9.6h-10.2zM1662.2 538.8h10.2v9.6h-10.2zM1701.8 538.8h10.2v9.6h-10.2zM1266.9 557.4h10.2v9.6h-10.2zM1672.1 575.9h10.2v9.6h-10.2zM1266.9 594.5h10.2v9.6h-10.2zM1682.0 613.1h10.2v9.6h-10.2zM1642.5 641.0h10.2v9.6h-10.2zM1682.0 641.0h10.2v9.6h-10.2zM1672.1 650.3h10.2v9.6h-10.2zM1771.0 650.3h10.2v9.6h-10.2zM1761.1 659.6h10.2v9.6h-10.2zM1622.7 668.9h10.2v9.6h-10.2zM1682.0 668.9h10.2v9.6h-10.2zM1830.2 668.9h10.2v9.6h-10.2zM1602.9 678.2h10.2v9.6h-10.2zM1691.9 678.2h10.2v9.6h-10.2zM1840.1 678.2h10.2v9.6h-10.2zM1672.1 687.5h10.2v9.6h-10.2zM1780.8 696.8h10.2v9.6h-10.2z"/>
<path fill="#ffda33" d="M1336.1 157.6h10.2v9.6h-10.2zM1415.2 157.6h10.2v9.6h-10.2zM1543.6 157.6h10.2v9.6h-10.2zM1415.2 176.2h10.2v9.6h-10.2zM1523.9 176.2h10.2v9.6h-10.2zM1375.6 185.5h10.2v9.6h-10.2zM1405.3 185.5h10.2v9.6h-10.2zM1434.9 185.5h10.2v9.6h-10.2zM1425.0 194.8h10.2v9.6h-10.2zM1553.5 194.8h10.2v9.6h-10.2zM1375.6 204.1h10.2v9.6h-10.2zM1523.9 204.1h10.2v9.6h-10.2zM1355.9 232.0h10.2v9.6h-10.2zM1365.7 232.0h10.2v9.6h-10.2zM1405.3 232.0h10.2v9.6h-10.2zM1425.0 232.0h10.2v9.6h-10.2zM1365.7 241.3h10.2v9.6h-10.2zM1375.6 241.3h10.2v9.6h-10.2zM1494.2 241.3h10.2v9.6h-10.2zM1514.0 241.3h10.2v9.6h-10.2zM1523.9 250.6h10.2v9.6h-10.2zM1365.7 269.2h10.2v9.6h-10.2zM1425.0 278.5h10.2v9.6h-10.2zM1474.5 287.8h10.2v9.6h-10.2zM1464.6 297.0h10.2v9.6h-10.2zM1365.7 306.3h10.2v9.6h-10.2zM1523.9 306.3h10.2v9.6h-10.2zM1355.9 315.6h10.2v9.6h-10.2zM1543.6 315.6h10.2v9.6h-10.2zM1375.6 334.2h10.2v9.6h-10.2zM1365.7 343.5h10.2v9.6h-10.2zM1286.7 352.8h10.2v9.6h-10.2zM1464.6 352.8h10.2v9.6h-10.2zM1543.6 352.8h10.2v9.6h-10.2zM1346.0 362.1h10.2v9.6h-10.2zM1365.7 362.1h10.2v9.6h-10.2zM1444.8 362.1h10.2v9.6h-10.2zM1454.7 362.1h10.2v9.6h-10.2zM1484.3 362.1h10.2v9.6h-10.2zM1385.5 371.4h10.2v9.6h-10.2zM1553.5 371.4h10.2v9.6h-10.2zM1346.0 380.7h10.2v9.6h-10.2zM1355.9 380.7h10.2v9.6h-10.2zM1464.6 399.3h10.2v9.6h-10.2zM1346.0 417.9h10.2v9.6h-10.2zM1415.2 417.9h10.2v9.6h-10.2zM1514.0 427.2h10.2v9.6h-10.2zM1701.8 436.5h10.2v9.6h-10.2zM1583.2 445.8h10.2v9.6h-10.2zM1602.9 445.8h10.2v9.6h-10.2zM1731.4 445.8h10.2v9.6h-10.2zM1563.4 455.1h10.2v9.6h-10.2zM1602.9 455.1h10.2v9.6h-10.2zM1662.2 455.1h10.2v9.6h-10.2zM1771.0 455.1h10.2v9.6h-10.2zM1780.8 455.1h10.2v9.6h-10.2zM1563.4 473.7h10.2v9.6h-10.2zM1701.8 473.7h10.2v9.6h-10.2zM1721.5 473.7h10.2v9.6h-10.2zM1771.0 483.0h10.2v9.6h-10.2zM1800.6 483.0h10.2v9.6h-10.2zM1840.1 483.0h10.2v9.6h-10.2zM1622.7 492.3h10.2v9.6h-10.2zM1652.4 492.3h10.2v9.6h-10.2zM1563.4 510.9h10.2v9.6h-10.2zM1632.6 510.9h10.2v9.6h-10.2zM1731.4 510.9h10.2v9.6h-10.2zM1771.0 510.9h10.2v9.6h-10.2zM1622.7 520.2h10.2v9.6h-10.2zM1682.0 520.2h10.2v9.6h-10.2zM1731.4 520.2h10.2v9.6h-10.2zM1830.2 520.2h10.2v9.6h-10.2zM1602.9 529.5h10.2v9.6h-10.2zM1691.9 529.5h10.2v9.6h-10.2zM1701.8 529.5h10.2v9.6h-10.2zM1741.3 529.5h10.2v9.6h-10.2zM1810.5 529.5h10.2v9.6h-10.2zM1593.1 538.8h10.2v9.6h-10.2zM1672.1 538.8h10.2v9.6h-10.2zM1691.9 538.8h10.2v9.6h-10.2zM1830.2 538.8h10.2v9.6h-10.2zM1850.0 538.8h10.2v9.6h-10.2zM1563.4 548.1h10.2v9.6h-10.2zM1741.3 548.1h10.2v9.6h-10.2zM1602.9 557.4h10.2v9.6h-10.2zM1731.4 557.4h10.2v9.6h-10.2zM1593.1 566.7h10.2v9.6h-10.2zM1622.7 566.7h10.2v9.6h-10.2zM1662.2 566.7h10.2v9.6h-10.2zM1691.9 566.7h10.2v9.6h-10.2zM1721.5 566.7h10.2v9.6h-10.2zM1810.5 566.7h10.2v9.6h-10.2zM1820.4 566.7h10.2v9.6h-10.2zM1622.7 575.9h10.2v9.6h-10.2zM1701.8 575.9h10.2v9.6h-10.2zM1711.7 575.9h10.2v9.6h-10.2zM1573.3 585.2h10.2v9.6h-10.2zM1751.2 585.2h10.2v9.6h-10.2zM1790.7 585.2h10.2v9.6h-10.2zM1800.6 585.2h10.2v9.6h-10.2zM1642.5 594.5h10.2v9.6h-10.2zM1701.8 594.5h10.2v9.6h-10.2zM1731.4 594.5h10.2v9.6h-10.2zM1830.2 594.5h10.2v9.6h-10.2zM1602.9 603.8h10.2v9.6h-10.2zM1622.7 603.8h10.2v9.6h-10.2zM1632.6 603.8h10.2v9.6h-10.2zM1810.5 603.8h10.2v9.6h-10.2zM1642.5 613.1h10.2v9.6h-10.2zM1672.1 613.1h10.2v9.6h-10.2zM1761.1 613.1h10.2v9.6h-10.2zM1850.0 613.1h10.2v9.6h-10.2zM1761.1 622.4h10.2v9.6h-10.2zM1840.1 622.4h10.2v9.6h-10.2zM1632.6 631.7h10.2v9.6h-10.2zM1652.4 631.7h10.2v9.6h-10.2zM1701.8 631.7h10.2v9.6h-10.2zM1741.3 631.7h10.2v9.6h-10.2zM1790.7 631.7h10.2v9.6h-10.2zM1840.1 631.7h10.2v9.6h-10.2z"/>
<path fill="#ffd433" d="M1355.9 157.6h10.2v9.6h-10.2zM1434.9 157.6h10.2v9.6h-10.2zM1454.7 166.9h10.2v9.6h-10.2zM1504.1 166.9h10.2v9.6h-10.2zM1306.4 185.5h10.2v9.6h-10.2zM1316.3 185.5h10.2v9.6h-10.2zM1346.0 185.5h10.2v9.6h-10.2zM1425.0 185.5h10.2v9.6h-10.2zM1474.5 194.8h10.2v9.6h-10.2zM1395.4 204.1h10.2v9.6h-10.2zM1425.0 204.1h10.2v9.6h-10.2zM1474.5 204.1h10.2v9.6h-10.2zM1474.5 213.4h10.2v9.6h-10.2zM1484.3 213.4h10.2v9.6h-10.2zM1543.6 213.4h10.2v9.6h-10.2zM1474.5 232.0h10.2v9.6h-10.2zM1474.5 250.6h10.2v9.6h-10.2zM1425.0 259.9h10.2v9.6h-10.2zM1543.6 259.9h10.2v9.6h-10.2zM1553.5 259.9h10.2v9.6h-10.2zM1346.0 287.8h10.2v9.6h-10.2zM1405.3 287.8h10.2v9.6h-10.2zM1425.0 287.8h10.2v9.6h-10.2zM1355.9 306.3h10.2v9.6h-10.2zM1474.5 306.3h10.2v9.6h-10.2zM1543.6 306.3h10.2v9.6h-10.2zM1365.7 315.6h10.2v9.6h-10.2zM1385.5 315.6h10.2v9.6h-10.2zM1444.8 315.6h10.2v9.6h-10.2zM1484.3 315.6h10.2v9.6h-10.2zM1316.3 324.9h10.2v9.6h-10.2zM1395.4 324.9h10.2v9.6h-10.2zM1346.0 334.2h10.2v9.6h-10.2zM1494.2 334.2h10.2v9.6h-10.2zM1306.4 343.5h10.2v9.6h-10.2zM1434.9 343.5h10.2v9.6h-10.2zM1504.1 343.5h10.2v9.6h-10.2zM1385.5 352.8h10.2v9.6h-10.2zM1494.2 352.8h10.2v9.6h-10.2zM1425.0 362.1h10.2v9.6h-10.2zM1464.6 362.1h10.2v9.6h-10.2zM1375.6 371.4h10.2v9.6h-10.2zM1355.9 390.0h10.2v9.6h-10.2zM1385.5 390.0h10.2v9.6h-10.2zM1444.8 390.0h10.2v9.6h-10.2zM1543.6 390.0h10.2v9.6h-10.2zM1365.7 399.3h10.2v9.6h-10.2zM1375.6 399.3h10.2v9.6h-10.2zM1385.5 399.3h10.2v9.6h-10.2zM1494.2 399.3h10.2v9.6h-10.2zM1365.7 408.6h10.2v9.6h-10.2zM1395.4 408.6h10.2v9.6h-10.2zM1405.3 417.9h10.2v9.6h-10.2zM1306.4 427.2h10.2v9.6h-10.2zM1375.6 427.2h10.2v9.6h-10.2zM1761.1 436.5h10.2v9.6h-10.2zM1800.6 445.8h10.2v9.6h-10.2zM1820.4 445.8h10.2v9.6h-10.2zM1642.5 455.1h10.2v9.6h-10.2zM1682.0 455.1h10.2v9.6h-10.2zM1612.8 464.4h10.2v9.6h-10.2zM1751.2 464.4h10.2v9.6h-10.2zM1761.1 464.4h10.2v9.6h-10.2zM1780.8 464.4h10.2v9.6h-10.2zM1652.4 473.7h10.2v9.6h-10.2zM1691.9 473.7h10.2v9.6h-10.2zM1830.2 473.7h10.2v9.6h-10.2zM1632.6 483.0h10.2v9.6h-10.2zM1652.4 483.0h10.2v9.6h-10.2zM1583.2 492.3h10.2v9.6h-10.2zM1711.7 492.3h10.2v9.6h-10.2zM1800.6 492.3h10.2v9.6h-10.2zM1850.0 492.3h10.2v9.6h-10.2zM1790.7 501.6h10.2v9.6h-10.2zM1800.6 501.6h10.2v9.6h-10.2zM1850.0 501.6h10.2v9.6h-10.2zM1662.2 510.9h10.2v9.6h-10.2zM1682.0 510.9h10.2v9.6h-10.2zM1820.4 510.9h10.2v9.6h-10.2zM1583.2 520.2h10.2v9.6h-10.2zM1652.4 520.2h10.2v9.6h-10.2zM1741.3 520.2h10.2v9.6h-10.2zM1751.2 520.2h10.2v9.6h-10.2zM1771.0 520.2h10.2v9.6h-10.2zM1780.8 520.2h10.2v9.6h-10.2zM1583.2 529.5h10.2v9.6h-10.2zM1593.1 529.5h10.2v9.6h-10.2zM1731.4 529.5h10.2v9.6h-10.2zM1820.4 529.5h10.2v9.6h-10.2zM1642.5 538.8h10.2v9.6h-10.2zM1682.0 538.8h10.2v9.6h-10.2zM1741.3 538.8h10.2v9.6h-10.2zM1820.4 538.8h10.2v9.6h-10.2zM1840.1 538.8h10.2v9.6h-10.2zM1593.1 548.1h10.2v9.6h-10.2zM1682.0 557.4h10.2v9.6h-10.2zM1771.0 557.4h10.2v9.6h-10.2zM1780.8 557.4h10.2v9.6h-10.2zM1761.1 566.7h10.2v9.6h-10.2zM1800.6 566.7h10.2v9.6h-10.2zM1602.9 575.9h10.2v9.6h-10.2zM1682.0 575.9h10.2v9.6h-10.2zM1780.8 575.9h10.2v9.6h-10.2zM1761.1 594.5h10.2v9.6h-10.2zM1771.0 594.5h10.2v9.6h-10.2zM1751.2 603.8h10.2v9.6h-10.2zM1622.7 613.1h10.2v9.6h-10.2zM1800.6 613.1h10.2v9.6h-10.2zM1810.5 613.1h10.2v9.6h-10.2zM1573.3 622.4h10.2v9.6h-10.2zM1612.8 622.4h10.2v9.6h-10.2zM1652.4 622.4h10.2v9.6h-10.2zM1691.9 622.4h10.2v9.6h-10.2zM1711.7 622.4h10.2v9.6h-10.2zM1662.2 631.7h10.2v9.6h-10.2zM1731.4 631.7h10.2v9.6h-10.2z"/>
<path fill="#ffc833" d="M1375.6 157.6h10.2v9.6h-10.2zM1336.1 166.9h10.2v9.6h-10.2zM1355.9 166.9h10.2v9.6h-10.2zM1405.3 176.2h10.2v9.6h-10.2zM1504.1 176.2h10.2v9.6h-10.2zM1553.5 176.2h10.2v9.6h-10.2zM1494.2 185.5h10.2v9.6h-10.2zM1326.2 194.8h10.2v9.6h-10.2zM1365.7 194.8h10.2v9.6h-10.2zM1405.3 194.8h10.2v9.6h-10.2zM1434.9 194.8h10.2v9.6h-10.2zM1504.1 194.8h10.2v9.6h-10.2zM1533.8 194.8h10.2v9.6h-10.2zM1355.9 204.1h10.2v9.6h-10.2zM1365.7 204.1h10.2v9.6h-10.2zM1464.6 204.1h10.2v9.6h-10.2zM1504.1 204.1h10.2v9.6h-10.2zM1543.6 204.1h10.2v9.6h-10.2zM1316.3 213.4h10.2v9.6h-10.2zM1385.5 213.4h10.2v9.6h-10.2zM1444.8 222.7h10.2v9.6h-10.2zM1543.6 222.7h10.2v9.6h-10.2zM1553.5 222.7h10.2v9.6h-10.2zM1504.1 232.0h10.2v9.6h-10.2zM1405.3 241.3h10.2v9.6h-10.2zM1385.5 250.6h10.2v9.6h-10.2zM1425.0 250.6h10.2v9.6h-10.2zM1464.6 250.6h10.2v9.6h-10.2zM1326.2 259.9h10.2v9.6h-10.2zM1336.1 259.9h10.2v9.6h-10.2zM1355.9 259.9h10.2v9.6h-10.2zM1355.9 269.2h10.2v9.6h-10.2zM1454.7 269.2h10.2v9.6h-10.2zM1336.1 278.5h10.2v9.6h-10.2zM1464.6 278.5h10.2v9.6h-10.2zM1444.8 287.8h10.2v9.6h-10.2zM1523.9 287.8h10.2v9.6h-10.2zM1543.6 287.8h10.2v9.6h-10.2zM1533.8 297.0h10.2v9.6h-10.2zM1316.3 306.3h10.2v9.6h-10.2zM1464.6 306.3h10.2v9.6h-10.2zM1504.1 306.3h10.2v9.6h-10.2zM1346.0 315.6h10.2v9.6h-10.2zM1385.5 324.9h10.2v9.6h-10.2zM1405.3 324.9h10.2v9.6h-10.2zM1494.2 324.9h10.2v9.6h-10.2zM1523.9 324.9h10.2v9.6h-10.2zM1553.5 334.2h10.2v9.6h-10.2zM1484.3 343.5h10.2v9.6h-10.2zM1444.8 352.8h10.2v9.6h-10.2zM1336.1 362.1h10.2v9.6h-10.2zM1425.0 371.4h10.2v9.6h-10.2zM1444.8 371.4h10.2v9.6h-10.2zM1464.6 371.4h10.2v9.6h-10.2zM1514.0 371.4h10.2v9.6h-10.2zM1286.7 380.7h10.2v9.6h-10.2zM1494.2 380.7h10.2v9.6h-10.2zM1543.6 380.7h10.2v9.6h-10.2zM1464.6 390.0h10.2v9.6h-10.2zM1474.5 390.0h10.2v9.6h-10.2zM1514.0 390.0h10.2v9.6h-10.2zM1553.5 390.0h10.2v9.6h-10.2zM1434.9 399.3h10.2v9.6h-10.2zM1523.9 399.3h10.2v9.6h-10.2zM1543.6 399.3h10.2v9.6h-10.2zM1336.1 408.6h10.2v9.6h-10.2zM1385.5 408.6h10.2v9.6h-10.2zM1444.8 408.6h10.2v9.6h-10.2zM1514.0 408.6h10.2v9.6h-10.2zM1326.2 417.9h10.2v9.6h-10.2zM1444.8 417.9h10.2v9.6h-10.2zM1543.6 417.9h10.2v9.6h-10.2zM1553.5 417.9h10.2v9.6h-10.2zM1444.8 427.2h10.2v9.6h-10.2zM1464.6 427.2h10.2v9.6h-10.2zM1622.7 436.5h10.2v9.6h-10.2zM1711.7 436.5h10.2v9.6h-10.2zM1820.4 436.5h10.2v9.6h-10.2zM1771.0 445.8h10.2v9.6h-10.2zM1830.2 445.8h10.2v9.6h-10.2zM1840.1 445.8h10.2v9.6h-10.2zM1573.3 455.1h10.2v9.6h-10.2zM1711.7 455.1h10.2v9.6h-10.2zM1741.3 455.1h10.2v9.6h-10.2zM1810.5 455.1h10.2v9.6h-10.2zM1672.1 464.4h10.2v9.6h-10.2zM1612.8 473.7h10.2v9.6h-10.2zM1662.2 473.7h10.2v9.6h-10.2zM1780.8 473.7h10.2v9.6h-10.2zM1810.5 473.7h10.2v9.6h-10.2zM1602.9 483.0h10.2v9.6h-10.2zM1780.8 483.0h10.2v9.6h-10.2zM1790.7 492.3h10.2v9.6h-10.2zM1602.9 501.6h10.2v9.6h-10.2zM1632.6 501.6h10.2v9.6h-10.2zM1701.8 501.6h10.2v9.6h-10.2zM1741.3 501.6h10.2v9.6h-10.2zM1810.5 501.6h10.2v9.6h-10.2zM1830.2 501.6h10.2v9.6h-10.2zM1672.1 510.9h10.2v9.6h-10.2zM1810.5 510.9h10.2v9.6h-10.2zM1563.4 520.2h10.2v9.6h-10.2zM1593.1 520.2h10.2v9.6h-10.2zM1612.8 520.2h10.2v9.6h-10.2zM1691.9 520.2h10.2v9.6h-10.2zM1810.5 520.2h10.2v9.6h-10.2zM1573.3 538.8h10.2v9.6h-10.2zM1790.7 538.8h10.2v9.6h-10.2zM1780.8 548.1h10.2v9.6h-10.2zM1790.7 548.1h10.2v9.6h-10.2zM1830.2 548.1h10.2v9.6h-10.2zM1850.0 548.1h10.2v9.6h-10.2zM1563.4 557.4h10.2v9.6h-10.2zM1652.4 557.4h10.2v9.6h-10.2zM1701.8 557.4h10.2v9.6h-10.2zM1573.3 566.7h10.2v9.6h-10.2zM1632.6 566.7h10.2v9.6h-10.2zM1652.4 566.7h10.2v9.6h-10.2zM1751.2 566.7h10.2v9.6h-10.2zM1563.4 585.2h10.2v9.6h-10.2zM1682.0 585.2h10.2v9.6h-10.2zM1810.5 585.2h10.2v9.6h-10.2zM1820.4 585.2h10.2v9.6h-10.2zM1593.1 594.5h10.2v9.6h-10.2zM1790.7 594.5h10.2v9.6h-10.2zM1771.0 603.8h10.2v9.6h-10.2zM1563.4 613.1h10.2v9.6h-10.2zM1632.6 613.1h10.2v9.6h-10.2zM1830.2 613.1h10.2v9.6h-10.2zM1840.1 613.1h10.2v9.6h-10.2zM1583.2 622.4h10.2v9.6h-10.2zM1771.0 622.4h10.2v9.6h-10.2zM1583.2 631.7h10.2v9.6h-10.2zM1672.1 631.7h10.2v9.6h-10.2zM1751.2 631.7h10.2v9.6h-10.2zM1820.4 631.7h10.2v9.6h-10.2zM1701.8 641.0h10.2v9.6h-10.2zM1830.2 650.3h10.2v9.6h-10.2zM1771.0 668.9h10.2v9.6h-10.2z"/>
<path fill="#ffce33" d="M1385.5 157.6h10.2v9.6h-10.2zM1425.0 157.6h10.2v9.6h-10.2zM1405.3 166.9h10.2v9.6h-10.2zM1543.6 166.9h10.2v9.6h-10.2zM1553.5 166.9h10.2v9.6h-10.2zM1454.7 176.2h10.2v9.6h-10.2zM1514.0 176.2h10.2v9.6h-10.2zM1365.7 185.5h10.2v9.6h-10.2zM1385.5 194.8h10.2v9.6h-10.2zM1543.6 194.8h10.2v9.6h-10.2zM1306.4 204.1h10.2v9.6h-10.2zM1405.3 204.1h10.2v9.6h-10.2zM1395.4 213.4h10.2v9.6h-10.2zM1504.1 213.4h10.2v9.6h-10.2zM1326.2 222.7h10.2v9.6h-10.2zM1346.0 222.7h10.2v9.6h-10.2zM1365.7 222.7h10.2v9.6h-10.2zM1484.3 222.7h10.2v9.6h-10.2zM1474.5 241.3h10.2v9.6h-10.2zM1504.1 241.3h10.2v9.6h-10.2zM1533.8 241.3h10.2v9.6h-10.2zM1306.4 250.6h10.2v9.6h-10.2zM1454.7 250.6h10.2v9.6h-10.2zM1365.7 259.9h10.2v9.6h-10.2zM1415.2 259.9h10.2v9.6h-10.2zM1454.7 259.9h10.2v9.6h-10.2zM1346.0 269.2h10.2v9.6h-10.2zM1385.5 269.2h10.2v9.6h-10.2zM1434.9 269.2h10.2v9.6h-10.2zM1484.3 269.2h10.2v9.6h-10.2zM1494.2 269.2h10.2v9.6h-10.2zM1504.1 269.2h10.2v9.6h-10.2zM1533.8 269.2h10.2v9.6h-10.2zM1355.9 278.5h10.2v9.6h-10.2zM1365.7 287.8h10.2v9.6h-10.2zM1464.6 287.8h10.2v9.6h-10.2zM1504.1 287.8h10.2v9.6h-10.2zM1504.1 297.0h10.2v9.6h-10.2zM1543.6 297.0h10.2v9.6h-10.2zM1326.2 306.3h10.2v9.6h-10.2zM1346.0 306.3h10.2v9.6h-10.2zM1494.2 306.3h10.2v9.6h-10.2zM1306.4 315.6h10.2v9.6h-10.2zM1415.2 315.6h10.2v9.6h-10.2zM1523.9 315.6h10.2v9.6h-10.2zM1336.1 324.9h10.2v9.6h-10.2zM1355.9 324.9h10.2v9.6h-10.2zM1375.6 324.9h10.2v9.6h-10.2zM1454.7 334.2h10.2v9.6h-10.2zM1504.1 334.2h10.2v9.6h-10.2zM1405.3 343.5h10.2v9.6h-10.2zM1504.1 352.8h10.2v9.6h-10.2zM1533.8 352.8h10.2v9.6h-10.2zM1385.5 362.1h10.2v9.6h-10.2zM1355.9 371.4h10.2v9.6h-10.2zM1365.7 371.4h10.2v9.6h-10.2zM1405.3 371.4h10.2v9.6h-10.2zM1504.1 371.4h10.2v9.6h-10.2zM1306.4 380.7h10.2v9.6h-10.2zM1385.5 380.7h10.2v9.6h-10.2zM1415.2 380.7h10.2v9.6h-10.2zM1504.1 380.7h10.2v9.6h-10.2zM1306.4 390.0h10.2v9.6h-10.2zM1336.1 390.0h10.2v9.6h-10.2zM1346.0 390.0h10.2v9.6h-10.2zM1434.9 390.0h10.2v9.6h-10.2zM1484.3 390.0h10.2v9.6h-10.2zM1494.2 390.0h10.2v9.6h-10.2zM1533.8 390.0h10.2v9.6h-10.2zM1355.9 399.3h10.2v9.6h-10.2zM1395.4 417.9h10.2v9.6h-10.2zM1316.3 427.2h10.2v9.6h-10.2zM1365.7 427.2h10.2v9.6h-10.2zM1642.5 436.5h10.2v9.6h-10.2zM1790.7 436.5h10.2v9.6h-10.2zM1593.1 445.8h10.2v9.6h-10.2zM1850.0 455.1h10.2v9.6h-10.2zM1573.3 464.4h10.2v9.6h-10.2zM1632.6 464.4h10.2v9.6h-10.2zM1731.4 464.4h10.2v9.6h-10.2zM1820.4 464.4h10.2v9.6h-10.2zM1573.3 473.7h10.2v9.6h-10.2zM1602.9 473.7h10.2v9.6h-10.2zM1711.7 473.7h10.2v9.6h-10.2zM1761.1 473.7h10.2v9.6h-10.2zM1593.1 501.6h10.2v9.6h-10.2zM1672.1 501.6h10.2v9.6h-10.2zM1682.0 501.6h10.2v9.6h-10.2zM1820.4 501.6h10.2v9.6h-10.2zM1761.1 510.9h10.2v9.6h-10.2zM1800.6 510.9h10.2v9.6h-10.2zM1830.2 510.9h10.2v9.6h-10.2zM1662.2 520.2h10.2v9.6h-10.2zM1701.8 520.2h10.2v9.6h-10.2zM1672.1 529.5h10.2v9.6h-10.2zM1751.2 529.5h10.2v9.6h-10.2zM1790.7 529.5h10.2v9.6h-10.2zM1850.0 529.5h10.2v9.6h-10.2zM1602.9 538.8h10.2v9.6h-10.2zM1622.7 538.8h10.2v9.6h-10.2zM1632.6 538.8h10.2v9.6h-10.2zM1652.4 538.8h10.2v9.6h-10.2zM1810.5 548.1h10.2v9.6h-10.2zM1820.4 548.1h10.2v9.6h-10.2zM1691.9 557.4h10.2v9.6h-10.2zM1761.1 557.4h10.2v9.6h-10.2zM1810.5 557.4h10.2v9.6h-10.2zM1741.3 566.7h10.2v9.6h-10.2zM1840.1 575.9h10.2v9.6h-10.2zM1721.5 585.2h10.2v9.6h-10.2zM1731.4 585.2h10.2v9.6h-10.2zM1771.0 585.2h10.2v9.6h-10.2zM1632.6 594.5h10.2v9.6h-10.2zM1662.2 594.5h10.2v9.6h-10.2zM1691.9 594.5h10.2v9.6h-10.2zM1780.8 594.5h10.2v9.6h-10.2zM1642.5 603.8h10.2v9.6h-10.2zM1682.0 603.8h10.2v9.6h-10.2zM1701.8 603.8h10.2v9.6h-10.2zM1780.8 603.8h10.2v9.6h-10.2zM1662.2 613.1h10.2v9.6h-10.2zM1691.9 613.1h10.2v9.6h-10.2zM1701.8 613.1h10.2v9.6h-10.2zM1790.7 613.1h10.2v9.6h-10.2zM1622.7 622.4h10.2v9.6h-10.2zM1682.0 622.4h10.2v9.6h-10.2zM1780.8 622.4h10.2v9.6h-10.2zM1790.7 622.4h10.2v9.6h-10.2zM1691.9 631.7h10.2v9.6h-10.2zM1780.8 631.7h10.2v9.6h-10.2zM1810.5 631.7h10.2v9.6h-10.2zM1652.4 650.3h10.2v9.6h-10.2zM1701.8 678.2h10.2v9.6h-10.2z"/>
<path fill="#ff9833" d="M1444.8 157.6h10.2v9.6h-10.2zM1326.2 176.2h10.2v9.6h-10.2zM1276.8 185.5h10.2v9.6h-10.2zM1276.8 232.0h10.2v9.6h-10.2zM1296.6 232.0h10.2v9.6h-10.2zM1316.3 232.0h10.2v9.6h-10.2zM1326.2 232.0h10.2v9.6h-10.2zM1543.6 232.0h10.2v9.6h-10.2zM1276.8 259.9h10.2v9.6h-10.2zM1336.1 269.2h10.2v9.6h-10.2zM1266.9 278.5h10.2v9.6h-10.2zM1276.8 287.8h10.2v9.6h-10.2zM1454.7 287.8h10.2v9.6h-10.2zM1266.9 297.0h10.2v9.6h-10.2zM1454.7 315.6h10.2v9.6h-10.2zM1296.6 324.9h10.2v9.6h-10.2zM1464.6 324.9h10.2v9.6h-10.2zM1296.6 334.2h10.2v9.6h-10.2zM1316.3 334.2h10.2v9.6h-10.2zM1326.2 334.2h10.2v9.6h-10.2zM1514.0 334.2h10.2v9.6h-10.2zM1425.0 343.5h10.2v9.6h-10.2zM1306.4 352.8h10.2v9.6h-10.2zM1306.4 371.4h10.2v9.6h-10.2zM1336.1 371.4h10.2v9.6h-10.2zM1395.4 371.4h10.2v9.6h-10.2zM1266.9 390.0h10.2v9.6h-10.2zM1266.9 399.3h10.2v9.6h-10.2zM1266.9 417.9h10.2v9.6h-10.2zM1316.3 417.9h10.2v9.6h-10.2zM1286.7 445.8h10.2v9.6h-10.2zM1266.9 464.4h10.2v9.6h-10.2zM1266.9 473.7h10.2v9.6h-10.2zM1266.9 613.1h10.2v9.6h-10.2zM1573.3 613.1h10.2v9.6h-10.2zM1612.8 641.0h10.2v9.6h-10.2zM1761.1 641.0h10.2v9.6h-10.2zM1820.4 641.0h10.2v9.6h-10.2zM1850.0 641.0h10.2v9.6h-10.2zM1266.9 650.3h10.2v9.6h-10.2zM1296.6 659.6h10.2v9.6h-10.2zM1632.6 659.6h10.2v9.6h-10.2zM1771.0 659.6h10.2v9.6h-10.2zM1583.2 668.9h10.2v9.6h-10.2zM1642.5 668.9h10.2v9.6h-10.2zM1790.7 668.9h10.2v9.6h-10.2zM1840.1 668.9h10.2v9.6h-10.2zM1820.4 678.2h10.2v9.6h-10.2zM1850.0 678.2h10.2v9.6h-10.2z"/>
<path fill="#ffc333" d="M1454.7 157.6h10.2v9.6h-10.2zM1504.1 157.6h10.2v9.6h-10.2zM1514.0 157.6h10.2v9.6h-10.2zM1326.2 166.9h10.2v9.6h-10.2zM1365.7 166.9h10.2v9.6h-10.2zM1484.3 166.9h10.2v9.6h-10.2zM1365.7 176.2h10.2v9.6h-10.2zM1385.5 185.5h10.2v9.6h-10.2zM1454.7 194.8h10.2v9.6h-10.2zM1514.0 194.8h10.2v9.6h-10.2zM1346.0 204.1h10.2v9.6h-10.2zM1385.5 204.1h10.2v9.6h-10.2zM1346.0 213.4h10.2v9.6h-10.2zM1375.6 213.4h10.2v9.6h-10.2zM1306.4 222.7h10.2v9.6h-10.2zM1385.5 222.7h10.2v9.6h-10.2zM1474.5 222.7h10.2v9.6h-10.2zM1523.9 222.7h10.2v9.6h-10.2zM1533.8 222.7h10.2v9.6h-10.2zM1395.4 232.0h10.2v9.6h-10.2zM1434.9 232.0h10.2v9.6h-10.2zM1355.9 241.3h10.2v9.6h-10.2zM1434.9 241.3h10.2v9.6h-10.2zM1504.1 250.6h10.2v9.6h-10.2zM1504.1 259.9h10.2v9.6h-10.2zM1415.2 269.2h10.2v9.6h-10.2zM1464.6 269.2h10.2v9.6h-10.2zM1474.5 278.5h10.2v9.6h-10.2zM1355.9 287.8h10.2v9.6h-10.2zM1484.3 287.8h10.2v9.6h-10.2zM1355.9 297.0h10.2v9.6h-10.2zM1395.4 297.0h10.2v9.6h-10.2zM1425.0 297.0h10.2v9.6h-10.2zM1484.3 306.3h10.2v9.6h-10.2zM1533.8 306.3h10.2v9.6h-10.2zM1296.6 315.6h10.2v9.6h-10.2zM1306.4 324.9h10.2v9.6h-10.2zM1434.9 324.9h10.2v9.6h-10.2zM1395.4 334.2h10.2v9.6h-10.2zM1434.9 334.2h10.2v9.6h-10.2zM1464.6 334.2h10.2v9.6h-10.2zM1326.2 343.5h10.2v9.6h-10.2zM1336.1 343.5h10.2v9.6h-10.2zM1355.9 343.5h10.2v9.6h-10.2zM1454.7 343.5h10.2v9.6h-10.2zM1326.2 352.8h10.2v9.6h-10.2zM1336.1 352.8h10.2v9.6h-10.2zM1405.3 352.8h10.2v9.6h-10.2zM1434.9 352.8h10.2v9.6h-10.2zM1474.5 352.8h10.2v9.6h-10.2zM1405.3 362.1h10.2v9.6h-10.2zM1434.9 362.1h10.2v9.6h-10.2zM1494.2 362.1h10.2v9.6h-10.2zM1434.9 371.4h10.2v9.6h-10.2zM1296.6 380.7h10.2v9.6h-10.2zM1326.2 380.7h10.2v9.6h-10.2zM1365.7 380.7h10.2v9.6h-10.2zM1454.7 380.7h10.2v9.6h-10.2zM1296.6 390.0h10.2v9.6h-10.2zM1375.6 390.0h10.2v9.6h-10.2zM1395.4 399.3h10.2v9.6h-10.2zM1346.0 408.6h10.2v9.6h-10.2zM1434.9 408.6h10.2v9.6h-10.2zM1385.5 417.9h10.2v9.6h-10.2zM1425.0 417.9h10.2v9.6h-10.2zM1523.9 417.9h10.2v9.6h-10.2zM1474.5 427.2h10.2v9.6h-10.2zM1523.9 427.2h10.2v9.6h-10.2zM1721.5 436.5h10.2v9.6h-10.2zM1771.0 436.5h10.2v9.6h-10.2zM1563.4 445.8h10.2v9.6h-10.2zM1622.7 445.8h10.2v9.6h-10.2zM1672.1 445.8h10.2v9.6h-10.2zM1711.7 445.8h10.2v9.6h-10.2zM1593.1 464.4h10.2v9.6h-10.2zM1662.2 464.4h10.2v9.6h-10.2zM1622.7 483.0h10.2v9.6h-10.2zM1790.7 483.0h10.2v9.6h-10.2zM1830.2 483.0h10.2v9.6h-10.2zM1573.3 492.3h10.2v9.6h-10.2zM1652.4 501.6h10.2v9.6h-10.2zM1711.7 501.6h10.2v9.6h-10.2zM1721.5 510.9h10.2v9.6h-10.2zM1751.2 510.9h10.2v9.6h-10.2zM1840.1 510.9h10.2v9.6h-10.2zM1850.0 510.9h10.2v9.6h-10.2zM1761.1 520.2h10.2v9.6h-10.2zM1790.7 520.2h10.2v9.6h-10.2zM1800.6 520.2h10.2v9.6h-10.2zM1573.3 529.5h10.2v9.6h-10.2zM1632.6 529.5h10.2v9.6h-10.2zM1563.4 538.8h10.2v9.6h-10.2zM1642.5 548.1h10.2v9.6h-10.2zM1612.8 557.4h10.2v9.6h-10.2zM1840.1 557.4h10.2v9.6h-10.2zM1672.1 566.7h10.2v9.6h-10.2zM1701.8 566.7h10.2v9.6h-10.2zM1721.5 575.9h10.2v9.6h-10.2zM1800.6 575.9h10.2v9.6h-10.2zM1622.7 585.2h10.2v9.6h-10.2zM1632.6 585.2h10.2v9.6h-10.2zM1691.9 585.2h10.2v9.6h-10.2zM1810.5 594.5h10.2v9.6h-10.2zM1790.7 603.8h10.2v9.6h-10.2zM1593.1 613.1h10.2v9.6h-10.2zM1850.0 622.4h10.2v9.6h-10.2zM1593.1 641.0h10.2v9.6h-10.2zM1652.4 641.0h10.2v9.6h-10.2zM1602.9 668.9h10.2v9.6h-10.2zM1593.1 678.2h10.2v9.6h-10.2z"/>
<path fill="#ffe633" d="M1484.3 157.6h10.2v9.6h-10.2zM1494.2 166.9h10.2v9.6h-10.2zM1523.9 166.9h10.2v9.6h-10.2zM1346.0 176.2h10.2v9.6h-10.2zM1464.6 176.2h10.2v9.6h-10.2zM1474.5 176.2h10.2v9.6h-10.2zM1444.8 185.5h10.2v9.6h-10.2zM1514.0 204.1h10.2v9.6h-10.2zM1346.0 241.3h10.2v9.6h-10.2zM1444.8 241.3h10.2v9.6h-10.2zM1543.6 241.3h10.2v9.6h-10.2zM1355.9 250.6h10.2v9.6h-10.2zM1395.4 259.9h10.2v9.6h-10.2zM1385.5 278.5h10.2v9.6h-10.2zM1346.0 297.0h10.2v9.6h-10.2zM1385.5 297.0h10.2v9.6h-10.2zM1434.9 297.0h10.2v9.6h-10.2zM1474.5 297.0h10.2v9.6h-10.2zM1296.6 306.3h10.2v9.6h-10.2zM1375.6 306.3h10.2v9.6h-10.2zM1415.2 343.5h10.2v9.6h-10.2zM1494.2 343.5h10.2v9.6h-10.2zM1395.4 352.8h10.2v9.6h-10.2zM1316.3 380.7h10.2v9.6h-10.2zM1484.3 399.3h10.2v9.6h-10.2zM1415.2 408.6h10.2v9.6h-10.2zM1504.1 417.9h10.2v9.6h-10.2zM1326.2 427.2h10.2v9.6h-10.2zM1494.2 427.2h10.2v9.6h-10.2zM1652.4 445.8h10.2v9.6h-10.2zM1701.8 445.8h10.2v9.6h-10.2zM1790.7 445.8h10.2v9.6h-10.2zM1583.2 455.1h10.2v9.6h-10.2zM1593.1 455.1h10.2v9.6h-10.2zM1622.7 455.1h10.2v9.6h-10.2zM1691.9 455.1h10.2v9.6h-10.2zM1731.4 455.1h10.2v9.6h-10.2zM1583.2 464.4h10.2v9.6h-10.2zM1622.7 464.4h10.2v9.6h-10.2zM1593.1 473.7h10.2v9.6h-10.2zM1642.5 473.7h10.2v9.6h-10.2zM1751.2 473.7h10.2v9.6h-10.2zM1771.0 473.7h10.2v9.6h-10.2zM1800.6 473.7h10.2v9.6h-10.2zM1691.9 483.0h10.2v9.6h-10.2zM1731.4 483.0h10.2v9.6h-10.2zM1751.2 483.0h10.2v9.6h-10.2zM1731.4 492.3h10.2v9.6h-10.2zM1741.3 492.3h10.2v9.6h-10.2zM1820.4 492.3h10.2v9.6h-10.2zM1662.2 529.5h10.2v9.6h-10.2zM1711.7 538.8h10.2v9.6h-10.2zM1810.5 538.8h10.2v9.6h-10.2zM1632.6 548.1h10.2v9.6h-10.2zM1741.3 557.4h10.2v9.6h-10.2zM1820.4 557.4h10.2v9.6h-10.2zM1830.2 557.4h10.2v9.6h-10.2zM1850.0 557.4h10.2v9.6h-10.2zM1780.8 566.7h10.2v9.6h-10.2zM1840.1 566.7h10.2v9.6h-10.2zM1691.9 575.9h10.2v9.6h-10.2zM1850.0 575.9h10.2v9.6h-10.2zM1583.2 594.5h10.2v9.6h-10.2zM1721.5 594.5h10.2v9.6h-10.2zM1652.4 603.8h10.2v9.6h-10.2zM1741.3 603.8h10.2v9.6h-10.2zM1850.0 603.8h10.2v9.6h-10.2zM1642.5 622.4h10.2v9.6h-10.2zM1701.8 622.4h10.2v9.6h-10.2zM1771.0 631.7h10.2v9.6h-10.2z"/>
<path fill="#ffff33" d="M1523.9 157.6h10.2v9.6h-10.2zM1346.0 194.8h10.2v9.6h-10.2zM1336.1 213.4h10.2v9.6h-10.2zM1543.6 269.2h10.2v9.6h-10.2zM1375.6 315.6h10.2v9.6h-10.2zM1385.5 343.5h10.2v9.6h-10.2zM1523.9 352.8h10.2v9.6h-10.2zM1602.9 436.5h10.2v9.6h-10.2zM1780.8 436.5h10.2v9.6h-10.2zM1810.5 436.5h10.2v9.6h-10.2zM1850.0 436.5h10.2v9.6h-10.2zM1632.6 445.8h10.2v9.6h-10.2zM1761.1 445.8h10.2v9.6h-10.2zM1820.4 455.1h10.2v9.6h-10.2zM1583.2 483.0h10.2v9.6h-10.2zM1810.5 483.0h10.2v9.6h-10.2zM1642.5 492.3h10.2v9.6h-10.2zM1721.5 492.3h10.2v9.6h-10.2zM1593.1 510.9h10.2v9.6h-10.2zM1652.4 510.9h10.2v9.6h-10.2zM1701.8 510.9h10.2v9.6h-10.2zM1602.9 520.2h10.2v9.6h-10.2zM1721.5 520.2h10.2v9.6h-10.2zM1711.7 529.5h10.2v9.6h-10.2zM1731.4 538.8h10.2v9.6h-10.2zM1751.2 538.8h10.2v9.6h-10.2zM1761.1 538.8h10.2v9.6h-10.2zM1780.8 538.8h10.2v9.6h-10.2zM1731.4 548.1h10.2v9.6h-10.2zM1751.2 557.4h10.2v9.6h-10.2zM1800.6 557.4h10.2v9.6h-10.2zM1731.4 566.7h10.2v9.6h-10.2zM1850.0 566.7h10.2v9.6h-10.2zM1583.2 575.9h10.2v9.6h-10.2zM1652.4 575.9h10.2v9.6h-10.2zM1593.1 585.2h10.2v9.6h-10.2zM1642.5 585.2h10.2v9.6h-10.2zM1711.7 585.2h10.2v9.6h-10.2zM1652.4 594.5h10.2v9.6h-10.2zM1761.1 603.8h10.2v9.6h-10.2zM1800.6 622.4h10.2v9.6h-10.2zM1810.5 622.4h10.2v9.6h-10.2zM1642.5 631.7h10.2v9.6h-10.2zM1682.0 631.7h10.2v9.6h-10.2zM1711.7 631.7h10.2v9.6h-10.2zM1830.2 631.7h10.2v9.6h-10.2z"/>
<path fill="#ffe033" d="M1553.5 157.6h10.2v9.6h-10.2zM1415.2 166.9h10.2v9.6h-10.2zM1425.0 176.2h10.2v9.6h-10.2zM1494.2 176.2h10.2v9.6h-10.2zM1533.8 176.2h10.2v9.6h-10.2zM1454.7 185.5h10.2v9.6h-10.2zM1464.6 194.8h10.2v9.6h-10.2zM1523.9 194.8h10.2v9.6h-10.2zM1553.5 204.1h10.2v9.6h-10.2zM1355.9 222.7h10.2v9.6h-10.2zM1375.6 222.7h10.2v9.6h-10.2zM1464.6 222.7h10.2v9.6h-10.2zM1346.0 232.0h10.2v9.6h-10.2zM1464.6 232.0h10.2v9.6h-10.2zM1464.6 241.3h10.2v9.6h-10.2zM1454.7 278.5h10.2v9.6h-10.2zM1484.3 278.5h10.2v9.6h-10.2zM1553.5 278.5h10.2v9.6h-10.2zM1375.6 287.8h10.2v9.6h-10.2zM1494.2 287.8h10.2v9.6h-10.2zM1385.5 306.3h10.2v9.6h-10.2zM1355.9 334.2h10.2v9.6h-10.2zM1375.6 343.5h10.2v9.6h-10.2zM1514.0 343.5h10.2v9.6h-10.2zM1533.8 362.1h10.2v9.6h-10.2zM1553.5 362.1h10.2v9.6h-10.2zM1415.2 371.4h10.2v9.6h-10.2zM1454.7 399.3h10.2v9.6h-10.2zM1405.3 427.2h10.2v9.6h-10.2zM1662.2 436.5h10.2v9.6h-10.2zM1672.1 436.5h10.2v9.6h-10.2zM1830.2 436.5h10.2v9.6h-10.2zM1751.2 445.8h10.2v9.6h-10.2zM1810.5 445.8h10.2v9.6h-10.2zM1701.8 455.1h10.2v9.6h-10.2zM1721.5 455.1h10.2v9.6h-10.2zM1790.7 455.1h10.2v9.6h-10.2zM1642.5 464.4h10.2v9.6h-10.2zM1691.9 464.4h10.2v9.6h-10.2zM1701.8 464.4h10.2v9.6h-10.2zM1711.7 464.4h10.2v9.6h-10.2zM1771.0 464.4h10.2v9.6h-10.2zM1632.6 473.7h10.2v9.6h-10.2zM1741.3 473.7h10.2v9.6h-10.2zM1820.4 473.7h10.2v9.6h-10.2zM1840.1 473.7h10.2v9.6h-10.2zM1593.1 483.0h10.2v9.6h-10.2zM1662.2 483.0h10.2v9.6h-10.2zM1711.7 483.0h10.2v9.6h-10.2zM1741.3 483.0h10.2v9.6h-10.2zM1761.1 483.0h10.2v9.6h-10.2zM1612.8 492.3h10.2v9.6h-10.2zM1682.0 492.3h10.2v9.6h-10.2zM1810.5 492.3h10.2v9.6h-10.2zM1612.8 501.6h10.2v9.6h-10.2zM1731.4 501.6h10.2v9.6h-10.2zM1761.1 501.6h10.2v9.6h-10.2zM1771.0 501.6h10.2v9.6h-10.2zM1780.8 501.6h10.2v9.6h-10.2zM1741.3 510.9h10.2v9.6h-10.2zM1790.7 510.9h10.2v9.6h-10.2zM1711.7 520.2h10.2v9.6h-10.2zM1850.0 520.2h10.2v9.6h-10.2zM1652.4 529.5h10.2v9.6h-10.2zM1721.5 529.5h10.2v9.6h-10.2zM1771.0 529.5h10.2v9.6h-10.2zM1721.5 538.8h10.2v9.6h-10.2zM1602.9 548.1h10.2v9.6h-10.2zM1622.7 548.1h10.2v9.6h-10.2zM1652.4 548.1h10.2v9.6h-10.2zM1662.2 548.1h10.2v9.6h-10.2zM1691.9 548.1h10.2v9.6h-10.2zM1701.8 548.1h10.2v9.6h-10.2zM1711.7 548.1h10.2v9.6h-10.2zM1771.0 548.1h10.2v9.6h-10.2zM1573.3 557.4h10.2v9.6h-10.2zM1583.2 557.4h10.2v9.6h-10.2zM1612.8 566.7h10.2v9.6h-10.2zM1642.5 575.9h10.2v9.6h-10.2zM1810.5 575.9h10.2v9.6h-10.2zM1602.9 585.2h10.2v9.6h-10.2zM1701.8 585.2h10.2v9.6h-10.2zM1780.8 585.2h10.2v9.6h-10.2zM1682.0 594.5h10.2v9.6h-10.2zM1711.7 594.5h10.2v9.6h-10.2zM1820.4 594.5h10.2v9.6h-10.2zM1850.0 594.5h10.2v9.6h-10.2zM1612.8 603.8h10.2v9.6h-10.2zM1731.4 603.8h10.2v9.6h-10.2zM1820.4 603.8h10.2v9.6h-10.2zM1721.5 613.1h10.2v9.6h-10.2zM1731.4 613.1h10.2v9.6h-10.2zM1820.4 613.1h10.2v9.6h-10.2zM1632.6 622.4h10.2v9.6h-10.2zM1662.2 622.4h10.2v9.6h-10.2zM1731.4 622.4h10.2v9.6h-10.2zM1741.3 622.4h10.2v9.6h-10.2zM1721.5 631.7h10.2v9.6h-10.2z"/>
<path fill="#ff5a33" d="M1563.4 157.6h10.2v9.6h-10.2zM1593.1 232.0h10.2v9.6h-10.2zM1602.9 297.0h10.2v9.6h-10.2zM1593.1 306.3h10.2v9.6h-10.2zM1612.8 324.9h10.2v9.6h-10.2zM1573.3 380.7h10.2v9.6h-10.2zM1602.9 399.3h10.2v9.6h-10.2zM1840.1 455.1h10.2v9.6h-10.2zM1691.9 501.6h10.2v9.6h-10.2zM1276.8 510.9h10.2v9.6h-10.2zM1276.8 538.8h10.2v9.6h-10.2zM1612.8 538.8h10.2v9.6h-10.2zM1276.8 594.5h10.2v9.6h-10.2zM1573.3 603.8h10.2v9.6h-10.2zM1602.9 613.1h10.2v9.6h-10.2zM1276.8 631.7h10.2v9.6h-10.2zM1326.2 631.7h10.2v9.6h-10.2zM1553.5 687.5h10.2v9.6h-10.2zM1771.0 687.5h10.2v9.6h-10.2zM1286.7 696.8h10.2v9.6h-10.2zM1336.1 696.8h10.2v9.6h-10.2zM1523.9 706.1h10.2v9.6h-10.2z"/>
<path fill="#ff339d" d="M1573.3 157.6h10.2v9.6h-10.2zM1711.7 157.6h10.2v9.6h-10.2zM1682.0 194.8h10.2v9.6h-10.2zM1701.8 194.8h10.2v9.6h-10.2zM1830.2 204.1h10.2v9.6h-10.2zM1691.9 232.0h10.2v9.6h-10.2zM1622.7 241.3h10.2v9.6h-10.2zM1672.1 259.9h10.2v9.6h-10.2zM1840.1 259.9h10.2v9.6h-10.2zM1761.1 269.2h10.2v9.6h-10.2zM1840.1 269.2h10.2v9.6h-10.2zM1731.4 278.5h10.2v9.6h-10.2zM1800.6 287.8h10.2v9.6h-10.2zM1721.5 315.6h10.2v9.6h-10.2zM1731.4 315.6h10.2v9.6h-10.2zM1642.5 324.9h10.2v9.6h-10.2zM1741.3 324.9h10.2v9.6h-10.2zM1771.0 324.9h10.2v9.6h-10.2zM1622.7 343.5h10.2v9.6h-10.2zM1711.7 343.5h10.2v9.6h-10.2zM1751.2 352.8h10.2v9.6h-10.2zM1583.2 362.1h10.2v9.6h-10.2zM1691.9 371.4h10.2v9.6h-10.2zM1711.7 371.4h10.2v9.6h-10.2zM1800.6 371.4h10.2v9.6h-10.2zM1622.7 380.7h10.2v9.6h-10.2zM1810.5 380.7h10.2v9.6h-10.2zM1850.0 380.7h10.2v9.6h-10.2zM1820.4 390.0h10.2v9.6h-10.2zM1632.6 399.3h10.2v9.6h-10.2zM1622.7 408.6h10.2v9.6h-10.2zM1800.6 408.6h10.2v9.6h-10.2zM1662.2 427.2h10.2v9.6h-10.2zM1711.7 427.2h10.2v9.6h-10.2zM1405.3 436.5h10.2v9.6h-10.2zM1444.8 436.5h10.2v9.6h-10.2zM1484.3 436.5h10.2v9.6h-10.2zM1385.5 455.1h10.2v9.6h-10.2zM1494.2 464.4h10.2v9.6h-10.2zM1375.6 473.7h10.2v9.6h-10.2zM1504.1 473.7h10.2v9.6h-10.2zM1375.6 483.0h10.2v9.6h-10.2zM1425.0 483.0h10.2v9.6h-10.2zM1444.8 483.0h10.2v9.6h-10.2zM1494.2 483.0h10.2v9.6h-10.2zM1533.8 483.0h10.2v9.6h-10.2zM1365.7 501.6h10.2v9.6h-10.2zM1395.4 529.5h10.2v9.6h-10.2zM1415.2 529.5h10.2v9.6h-10.2zM1415.2 575.9h10.2v9.6h-10.2zM1484.3 575.9h10.2v9.6h-10.2zM1346.0 594.5h10.2v9.6h-10.2zM1523.9 631.7h10.2v9.6h-10.2zM1553.5 641.0h10.2v9.6h-10.2zM1375.6 650.3h10.2v9.6h-10.2zM1415.2 650.3h10.2v9.6h-10.2zM1454.7 650.3h10.2v9.6h-10.2zM1464.6 650.3h10.2v9.6h-10.2zM1355.9 668.9h10.2v9.6h-10.2zM1405.3 668.9h10.2v9.6h-10.2zM1464.6 668.9h10.2v9.6h-10.2zM1355.9 687.5h10.2v9.6h-10.2z"/>
<path fill="#ff3342" d="M1583.2 157.6h10.2v9.6h-10.2zM1444.8 166.9h10.2v9.6h-10.2zM1652.4 166.9h10.2v9.6h-10.2zM1266.9 176.2h10.2v9.6h-10.2zM1612.8 176.2h10.2v9.6h-10.2zM1593.1 185.5h10.2v9.6h-10.2zM1563.4 194.8h10.2v9.6h-10.2zM1602.9 204.1h10.2v9.6h-10.2zM1701.8 213.4h10.2v9.6h-10.2zM1612.8 222.7h10.2v9.6h-10.2zM1583.2 232.0h10.2v9.6h-10.2zM1830.2 232.0h10.2v9.6h-10.2zM1593.1 241.3h10.2v9.6h-10.2zM1662.2 241.3h10.2v9.6h-10.2zM1662.2 269.2h10.2v9.6h-10.2zM1593.1 278.5h10.2v9.6h-10.2zM1642.5 306.3h10.2v9.6h-10.2zM1830.2 334.2h10.2v9.6h-10.2zM1583.2 343.5h10.2v9.6h-10.2zM1602.9 362.1h10.2v9.6h-10.2zM1563.4 371.4h10.2v9.6h-10.2zM1563.4 390.0h10.2v9.6h-10.2zM1672.1 390.0h10.2v9.6h-10.2zM1563.4 399.3h10.2v9.6h-10.2zM1573.3 399.3h10.2v9.6h-10.2zM1326.2 408.6h10.2v9.6h-10.2zM1642.5 408.6h10.2v9.6h-10.2zM1662.2 408.6h10.2v9.6h-10.2zM1602.9 427.2h10.2v9.6h-10.2zM1316.3 445.8h10.2v9.6h-10.2zM1326.2 464.4h10.2v9.6h-10.2zM1316.3 492.3h10.2v9.6h-10.2zM1306.4 520.2h10.2v9.6h-10.2zM1326.2 520.2h10.2v9.6h-10.2zM1395.4 520.2h10.2v9.6h-10.2zM1484.3 557.4h10.2v9.6h-10.2zM1484.3 585.2h10.2v9.6h-10.2zM1326.2 659.6h10.2v9.6h-10.2zM1355.9 678.2h10.2v9.6h-10.2zM1365.7 678.2h10.2v9.6h-10.2zM1336.1 687.5h10.2v9.6h-10.2z"/>
<path fill="#ff3350" d="M1593.1 157.6h10.2v9.6h-10.2zM1751.2 176.2h10.2v9.6h-10.2zM1612.8 185.5h10.2v9.6h-10.2zM1830.2 185.5h10.2v9.6h-10.2zM1504.1 222.7h10.2v9.6h-10.2zM1563.4 222.7h10.2v9.6h-10.2zM1701.8 232.0h10.2v9.6h-10.2zM1751.2 241.3h10.2v9.6h-10.2zM1642.5 259.9h10.2v9.6h-10.2zM1593.1 269.2h10.2v9.6h-10.2zM1672.1 278.5h10.2v9.6h-10.2zM1573.3 287.8h10.2v9.6h-10.2zM1602.9 306.3h10.2v9.6h-10.2zM1563.4 324.9h10.2v9.6h-10.2zM1662.2 324.9h10.2v9.6h-10.2zM1622.7 362.1h10.2v9.6h-10.2zM1454.7 371.4h10.2v9.6h-10.2zM1810.5 371.4h10.2v9.6h-10.2zM1583.2 380.7h10.2v9.6h-10.2zM1800.6 380.7h10.2v9.6h-10.2zM1622.7 390.0h10.2v9.6h-10.2zM1563.4 417.9h10.2v9.6h-10.2zM1701.8 417.9h10.2v9.6h-10.2zM1346.0 427.2h10.2v9.6h-10.2zM1622.7 427.2h10.2v9.6h-10.2zM1296.6 445.8h10.2v9.6h-10.2zM1474.5 464.4h10.2v9.6h-10.2zM1385.5 520.2h10.2v9.6h-10.2zM1444.8 566.7h10.2v9.6h-10.2zM1336.1 575.9h10.2v9.6h-10.2zM1296.6 585.2h10.2v9.6h-10.2zM1365.7 585.2h10.2v9.6h-10.2zM1326.2 594.5h10.2v9.6h-10.2zM1464.6 622.4h10.2v9.6h-10.2zM1375.6 631.7h10.2v9.6h-10.2zM1464.6 631.7h10.2v9.6h-10.2zM1326.2 668.9h10.2v9.6h-10.2zM1523.9 668.9h10.2v9.6h-10.2zM1425.0 678.2h10.2v9.6h-10.2zM1316.3 696.8h10.2v9.6h-10.2zM1375.6 696.8h10.2v9.6h-10.2zM1434.9 696.8h10.2v9.6h-10.2zM1336.1 706.1h10.2v9.6h-10.2zM1464.6 706.1h10.2v9.6h-10.2zM1484.3 706.1h10.2v9.6h-10.2z"/>
<path fill="#ff3355" d="M1602.9 157.6h10.2v9.6h-10.2zM1632.6 157.6h10.2v9.6h-10.2zM1642.5 157.6h10.2v9.6h-10.2zM1593.1 176.2h10.2v9.6h-10.2zM1632.6 176.2h10.2v9.6h-10.2zM1632.6 194.8h10.2v9.6h-10.2zM1721.5 204.1h10.2v9.6h-10.2zM1612.8 213.4h10.2v9.6h-10.2zM1672.1 241.3h10.2v9.6h-10.2zM1622.7 250.6h10.2v9.6h-10.2zM1691.9 250.6h10.2v9.6h-10.2zM1612.8 287.8h10.2v9.6h-10.2zM1691.9 287.8h10.2v9.6h-10.2zM1721.5 297.0h10.2v9.6h-10.2zM1810.5 297.0h10.2v9.6h-10.2zM1642.5 315.6h10.2v9.6h-10.2zM1652.4 324.9h10.2v9.6h-10.2zM1672.1 334.2h10.2v9.6h-10.2zM1721.5 352.8h10.2v9.6h-10.2zM1780.8 352.8h10.2v9.6h-10.2zM1810.5 390.0h10.2v9.6h-10.2zM1504.1 436.5h10.2v9.6h-10.2zM1494.2 445.8h10.2v9.6h-10.2zM1336.1 455.1h10.2v9.6h-10.2zM1405.3 455.1h10.2v9.6h-10.2zM1434.9 455.1h10.2v9.6h-10.2zM1523.9 455.1h10.2v9.6h-10.2zM1296.6 464.4h10.2v9.6h-10.2zM1306.4 464.4h10.2v9.6h-10.2zM1365.7 464.4h10.2v9.6h-10.2zM1385.5 483.0h10.2v9.6h-10.2zM1474.5 492.3h10.2v9.6h-10.2zM1316.3 501.6h10.2v9.6h-10.2zM1346.0 501.6h10.2v9.6h-10.2zM1464.6 501.6h10.2v9.6h-10.2zM1336.1 510.9h10.2v9.6h-10.2zM1434.9 520.2h10.2v9.6h-10.2zM1543.6 520.2h10.2v9.6h-10.2zM1375.6 538.8h10.2v9.6h-10.2zM1494.2 538.8h10.2v9.6h-10.2zM1523.9 557.4h10.2v9.6h-10.2zM1306.4 585.2h10.2v9.6h-10.2zM1316.3 585.2h10.2v9.6h-10.2zM1336.1 613.1h10.2v9.6h-10.2zM1514.0 622.4h10.2v9.6h-10.2zM1296.6 631.7h10.2v9.6h-10.2zM1543.6 631.7h10.2v9.6h-10.2zM1326.2 641.0h10.2v9.6h-10.2zM1543.6 641.0h10.2v9.6h-10.2zM1543.6 650.3h10.2v9.6h-10.2zM1543.6 668.9h10.2v9.6h-10.2zM1434.9 687.5h10.2v9.6h-10.2zM1444.8 687.5h10.2v9.6h-10.2zM1405.3 696.8h10.2v9.6h-10.2zM1514.0 696.8h10.2v9.6h-10.2zM1454.7 706.1h10.2v9.6h-10.2z"/>
<path fill="#ff336a" d="M1612.8 157.6h10.2v9.6h-10.2zM1622.7 157.6h10.2v9.6h-10.2zM1662.2 166.9h10.2v9.6h-10.2zM1731.4 176.2h10.2v9.6h-10.2zM1780.8 176.2h10.2v9.6h-10.2zM1771.0 185.5h10.2v9.6h-10.2zM1780.8 185.5h10.2v9.6h-10.2zM1850.0 185.5h10.2v9.6h-10.2zM1642.5 194.8h10.2v9.6h-10.2zM1790.7 194.8h10.2v9.6h-10.2zM1820.4 194.8h10.2v9.6h-10.2zM1672.1 213.4h10.2v9.6h-10.2zM1761.1 213.4h10.2v9.6h-10.2zM1662.2 222.7h10.2v9.6h-10.2zM1632.6 232.0h10.2v9.6h-10.2zM1573.3 241.3h10.2v9.6h-10.2zM1612.8 250.6h10.2v9.6h-10.2zM1701.8 250.6h10.2v9.6h-10.2zM1691.9 269.2h10.2v9.6h-10.2zM1602.9 278.5h10.2v9.6h-10.2zM1850.0 278.5h10.2v9.6h-10.2zM1711.7 315.6h10.2v9.6h-10.2zM1780.8 315.6h10.2v9.6h-10.2zM1622.7 324.9h10.2v9.6h-10.2zM1840.1 324.9h10.2v9.6h-10.2zM1701.8 334.2h10.2v9.6h-10.2zM1780.8 343.5h10.2v9.6h-10.2zM1761.1 371.4h10.2v9.6h-10.2zM1711.7 380.7h10.2v9.6h-10.2zM1721.5 390.0h10.2v9.6h-10.2zM1662.2 399.3h10.2v9.6h-10.2zM1672.1 399.3h10.2v9.6h-10.2zM1790.7 399.3h10.2v9.6h-10.2zM1691.9 408.6h10.2v9.6h-10.2zM1721.5 408.6h10.2v9.6h-10.2zM1810.5 408.6h10.2v9.6h-10.2zM1583.2 417.9h10.2v9.6h-10.2zM1731.4 427.2h10.2v9.6h-10.2zM1375.6 464.4h10.2v9.6h-10.2zM1444.8 464.4h10.2v9.6h-10.2zM1523.9 473.7h10.2v9.6h-10.2zM1415.2 492.3h10.2v9.6h-10.2zM1395.4 501.6h10.2v9.6h-10.2zM1543.6 501.6h10.2v9.6h-10.2zM1395.4 510.9h10.2v9.6h-10.2zM1484.3 510.9h10.2v9.6h-10.2zM1375.6 529.5h10.2v9.6h-10.2zM1385.5 538.8h10.2v9.6h-10.2zM1533.8 538.8h10.2v9.6h-10.2zM1346.0 548.1h10.2v9.6h-10.2zM1484.3 548.1h10.2v9.6h-10.2zM1514.0 557.4h10.2v9.6h-10.2zM1504.1 622.4h10.2v9.6h-10.2zM1553.5 650.3h10.2v9.6h-10.2zM1336.1 659.6h10.2v9.6h-10.2zM1543.6 659.6h10.2v9.6h-10.2zM1494.2 678.2h10.2v9.6h-10.2zM1425.0 696.8h10.2v9.6h-10.2zM1474.5 696.8h10.2v9.6h-10.2z"/>
<path fill="#ff3377" d="M1652.4 157.6h10.2v9.6h-10.2zM1662.2 157.6h10.2v9.6h-10.2zM1840.1 157.6h10.2v9.6h-10.2zM1632.6 166.9h10.2v9.6h-10.2zM1800.6 166.9h10.2v9.6h-10.2zM1820.4 166.9h10.2v9.6h-10.2zM1830.2 166.9h10.2v9.6h-10.2zM1573.3 185.5h10.2v9.6h-10.2zM1662.2 185.5h10.2v9.6h-10.2zM1593.1 194.8h10.2v9.6h-10.2zM1790.7 222.7h10.2v9.6h-10.2zM1820.4 232.0h10.2v9.6h-10.2zM1771.0 259.9h10.2v9.6h-10.2zM1711.7 297.0h10.2v9.6h-10.2zM1573.3 306.3h10.2v9.6h-10.2zM1652.4 306.3h10.2v9.6h-10.2zM1810.5 306.3h10.2v9.6h-10.2zM1840.1 306.3h10.2v9.6h-10.2zM1691.9 324.9h10.2v9.6h-10.2zM1800.6 324.9h10.2v9.6h-10.2zM1751.2 334.2h10.2v9.6h-10.2zM1662.2 371.4h10.2v9.6h-10.2zM1652.4 380.7h10.2v9.6h-10.2zM1751.2 390.0h10.2v9.6h-10.2zM1622.7 399.3h10.2v9.6h-10.2zM1652.4 399.3h10.2v9.6h-10.2zM1602.9 417.9h10.2v9.6h-10.2zM1622.7 417.9h10.2v9.6h-10.2zM1523.9 436.5h10.2v9.6h-10.2zM1514.0 445.8h10.2v9.6h-10.2zM1444.8 455.1h10.2v9.6h-10.2zM1425.0 464.4h10.2v9.6h-10.2zM1355.9 492.3h10.2v9.6h-10.2zM1385.5 501.6h10.2v9.6h-10.2zM1355.9 520.2h10.2v9.6h-10.2zM1514.0 520.2h10.2v9.6h-10.2zM1543.6 538.8h10.2v9.6h-10.2zM1494.2 548.1h10.2v9.6h-10.2zM1543.6 566.7h10.2v9.6h-10.2zM1454.7 575.9h10.2v9.6h-10.2zM1514.0 585.2h10.2v9.6h-10.2zM1454.7 594.5h10.2v9.6h-10.2zM1474.5 594.5h10.2v9.6h-10.2zM1514.0 594.5h10.2v9.6h-10.2zM1533.8 603.8h10.2v9.6h-10.2zM1365.7 622.4h10.2v9.6h-10.2zM1375.6 622.4h10.2v9.6h-10.2zM1454.7 622.4h10.2v9.6h-10.2zM1444.8 631.7h10.2v9.6h-10.2zM1474.5 641.0h10.2v9.6h-10.2zM1306.4 650.3h10.2v9.6h-10.2zM1405.3 659.6h10.2v9.6h-10.2zM1415.2 668.9h10.2v9.6h-10.2zM1474.5 668.9h10.2v9.6h-10.2zM1474.5 678.2h10.2v9.6h-10.2zM1514.0 678.2h10.2v9.6h-10.2z"/>
<path fill="#ff334c" d="M1672.1 157.6h10.2v9.6h-10.2zM1691.9 185.5h10.2v9.6h-10.2zM1622.7 204.1h10.2v9.6h-10.2zM1602.9 213.4h10.2v9.6h-10.2zM1632.6 213.4h10.2v9.6h-10.2zM1583.2 222.7h10.2v9.6h-10.2zM1662.2 232.0h10.2v9.6h-10.2zM1701.8 241.3h10.2v9.6h-10.2zM1593.1 250.6h10.2v9.6h-10.2zM1602.9 259.9h10.2v9.6h-10.2zM1622.7 259.9h10.2v9.6h-10.2zM1632.6 287.8h10.2v9.6h-10.2zM1662.2 287.8h10.2v9.6h-10.2zM1682.0 297.0h10.2v9.6h-10.2zM1632.6 306.3h10.2v9.6h-10.2zM1583.2 334.2h10.2v9.6h-10.2zM1731.4 334.2h10.2v9.6h-10.2zM1573.3 362.1h10.2v9.6h-10.2zM1602.9 371.4h10.2v9.6h-10.2zM1672.1 380.7h10.2v9.6h-10.2zM1701.8 390.0h10.2v9.6h-10.2zM1583.2 399.3h10.2v9.6h-10.2zM1612.8 408.6h10.2v9.6h-10.2zM1662.2 417.9h10.2v9.6h-10.2zM1484.3 445.8h10.2v9.6h-10.2zM1296.6 483.0h10.2v9.6h-10.2zM1533.8 492.3h10.2v9.6h-10.2zM1296.6 501.6h10.2v9.6h-10.2zM1425.0 520.2h10.2v9.6h-10.2zM1553.5 548.1h10.2v9.6h-10.2zM1355.9 585.2h10.2v9.6h-10.2zM1553.5 594.5h10.2v9.6h-10.2zM1296.6 613.1h10.2v9.6h-10.2zM1425.0 622.4h10.2v9.6h-10.2zM1484.3 622.4h10.2v9.6h-10.2zM1316.3 641.0h10.2v9.6h-10.2zM1316.3 650.3h10.2v9.6h-10.2zM1316.3 706.1h10.2v9.6h-10.2zM1365.7 706.1h10.2v9.6h-10.2z"/>
<path fill="#ff3333" d="M1682.0 157.6h10.2v9.6h-10.2zM1583.2 204.1h10.2v9.6h-10.2zM1622.7 222.7h10.2v9.6h-10.2zM1652.4 250.6h10.2v9.6h-10.2zM1563.4 259.9h10.2v9.6h-10.2zM1602.9 269.2h10.2v9.6h-10.2zM1296.6 278.5h10.2v9.6h-10.2zM1612.8 315.6h10.2v9.6h-10.2zM1563.4 334.2h10.2v9.6h-10.2zM1563.4 343.5h10.2v9.6h-10.2zM1662.2 352.8h10.2v9.6h-10.2zM1682.0 362.1h10.2v9.6h-10.2zM1296.6 436.5h10.2v9.6h-10.2zM1533.8 436.5h10.2v9.6h-10.2zM1316.3 455.1h10.2v9.6h-10.2zM1326.2 455.1h10.2v9.6h-10.2zM1514.0 501.6h10.2v9.6h-10.2zM1306.4 529.5h10.2v9.6h-10.2zM1316.3 529.5h10.2v9.6h-10.2zM1296.6 566.7h10.2v9.6h-10.2zM1316.3 566.7h10.2v9.6h-10.2zM1326.2 566.7h10.2v9.6h-10.2zM1355.9 594.5h10.2v9.6h-10.2zM1326.2 603.8h10.2v9.6h-10.2zM1276.8 613.1h10.2v9.6h-10.2zM1771.0 613.1h10.2v9.6h-10.2zM1306.4 631.7h10.2v9.6h-10.2zM1276.8 641.0h10.2v9.6h-10.2zM1810.5 641.0h10.2v9.6h-10.2zM1276.8 668.9h10.2v9.6h-10.2zM1336.1 668.9h10.2v9.6h-10.2zM1484.3 678.2h10.2v9.6h-10.2zM1543.6 678.2h10.2v9.6h-10.2zM1346.0 687.5h10.2v9.6h-10.2zM1425.0 687.5h10.2v9.6h-10.2z"/>
<path fill="#ff33a3" d="M1691.9 157.6h10.2v9.6h-10.2zM1741.3 185.5h10.2v9.6h-10.2zM1652.4 194.8h10.2v9.6h-10.2zM1682.0 204.1h10.2v9.6h-10.2zM1652.4 213.4h10.2v9.6h-10.2zM1711.7 213.4h10.2v9.6h-10.2zM1672.1 222.7h10.2v9.6h-10.2zM1810.5 222.7h10.2v9.6h-10.2zM1711.7 232.0h10.2v9.6h-10.2zM1751.2 232.0h10.2v9.6h-10.2zM1790.7 232.0h10.2v9.6h-10.2zM1840.1 232.0h10.2v9.6h-10.2zM1850.0 259.9h10.2v9.6h-10.2zM1612.8 269.2h10.2v9.6h-10.2zM1672.1 269.2h10.2v9.6h-10.2zM1741.3 278.5h10.2v9.6h-10.2zM1840.1 287.8h10.2v9.6h-10.2zM1721.5 306.3h10.2v9.6h-10.2zM1850.0 306.3h10.2v9.6h-10.2zM1602.9 315.6h10.2v9.6h-10.2zM1771.0 315.6h10.2v9.6h-10.2zM1810.5 315.6h10.2v9.6h-10.2zM1771.0 334.2h10.2v9.6h-10.2zM1761.1 362.1h10.2v9.6h-10.2zM1830.2 362.1h10.2v9.6h-10.2zM1840.1 362.1h10.2v9.6h-10.2zM1731.4 371.4h10.2v9.6h-10.2zM1751.2 380.7h10.2v9.6h-10.2zM1771.0 380.7h10.2v9.6h-10.2zM1830.2 380.7h10.2v9.6h-10.2zM1850.0 390.0h10.2v9.6h-10.2zM1721.5 399.3h10.2v9.6h-10.2zM1780.8 399.3h10.2v9.6h-10.2zM1820.4 408.6h10.2v9.6h-10.2zM1711.7 417.9h10.2v9.6h-10.2zM1741.3 417.9h10.2v9.6h-10.2zM1780.8 427.2h10.2v9.6h-10.2zM1820.4 427.2h10.2v9.6h-10.2zM1543.6 436.5h10.2v9.6h-10.2zM1484.3 464.4h10.2v9.6h-10.2zM1484.3 483.0h10.2v9.6h-10.2zM1365.7 492.3h10.2v9.6h-10.2zM1434.9 492.3h10.2v9.6h-10.2zM1464.6 492.3h10.2v9.6h-10.2zM1425.0 510.9h10.2v9.6h-10.2zM1523.9 510.9h10.2v9.6h-10.2zM1375.6 520.2h10.2v9.6h-10.2zM1504.1 529.5h10.2v9.6h-10.2zM1355.9 538.8h10.2v9.6h-10.2zM1464.6 538.8h10.2v9.6h-10.2zM1405.3 548.1h10.2v9.6h-10.2zM1385.5 566.7h10.2v9.6h-10.2zM1405.3 566.7h10.2v9.6h-10.2zM1405.3 585.2h10.2v9.6h-10.2zM1543.6 585.2h10.2v9.6h-10.2zM1385.5 603.8h10.2v9.6h-10.2zM1454.7 603.8h10.2v9.6h-10.2zM1504.1 603.8h10.2v9.6h-10.2zM1514.0 603.8h10.2v9.6h-10.2zM1454.7 613.1h10.2v9.6h-10.2zM1553.5 622.4h10.2v9.6h-10.2zM1444.8 641.0h10.2v9.6h-10.2zM1454.7 687.5h10.2v9.6h-10.2z"/>
<path fill="#ff338a" d="M1701.8 157.6h10.2v9.6h-10.2zM1721.5 157.6h10.2v9.6h-10.2zM1751.2 157.6h10.2v9.6h-10.2zM1790.7 157.6h10.2v9.6h-10.2zM1771.0 194.8h10.2v9.6h-10.2zM1662.2 204.1h10.2v9.6h-10.2zM1682.0 213.4h10.2v9.6h-10.2zM1731.4 222.7h10.2v9.6h-10.2zM1622.7 232.0h10.2v9.6h-10.2zM1731.4 232.0h10.2v9.6h-10.2zM1840.1 241.3h10.2v9.6h-10.2zM1840.1 250.6h10.2v9.6h-10.2zM1800.6 259.9h10.2v9.6h-10.2zM1632.6 269.2h10.2v9.6h-10.2zM1682.0 269.2h10.2v9.6h-10.2zM1701.8 287.8h10.2v9.6h-10.2zM1662.2 306.3h10.2v9.6h-10.2zM1741.3 306.3h10.2v9.6h-10.2zM1790.7 306.3h10.2v9.6h-10.2zM1672.1 315.6h10.2v9.6h-10.2zM1840.1 315.6h10.2v9.6h-10.2zM1850.0 334.2h10.2v9.6h-10.2zM1840.1 343.5h10.2v9.6h-10.2zM1622.7 352.8h10.2v9.6h-10.2zM1711.7 352.8h10.2v9.6h-10.2zM1691.9 362.1h10.2v9.6h-10.2zM1632.6 390.0h10.2v9.6h-10.2zM1701.8 399.3h10.2v9.6h-10.2zM1761.1 399.3h10.2v9.6h-10.2zM1721.5 417.9h10.2v9.6h-10.2zM1672.1 427.2h10.2v9.6h-10.2zM1850.0 427.2h10.2v9.6h-10.2zM1415.2 436.5h10.2v9.6h-10.2zM1346.0 455.1h10.2v9.6h-10.2zM1514.0 455.1h10.2v9.6h-10.2zM1454.7 473.7h10.2v9.6h-10.2zM1405.3 483.0h10.2v9.6h-10.2zM1425.0 492.3h10.2v9.6h-10.2zM1553.5 492.3h10.2v9.6h-10.2zM1484.3 520.2h10.2v9.6h-10.2zM1504.1 520.2h10.2v9.6h-10.2zM1533.8 520.2h10.2v9.6h-10.2zM1484.3 538.8h10.2v9.6h-10.2zM1415.2 548.1h10.2v9.6h-10.2zM1474.5 548.1h10.2v9.6h-10.2zM1346.0 557.4h10.2v9.6h-10.2zM1355.9 566.7h10.2v9.6h-10.2zM1375.6 566.7h10.2v9.6h-10.2zM1395.4 566.7h10.2v9.6h-10.2zM1504.1 575.9h10.2v9.6h-10.2zM1523.9 575.9h10.2v9.6h-10.2zM1425.0 594.5h10.2v9.6h-10.2zM1434.9 603.8h10.2v9.6h-10.2zM1375.6 613.1h10.2v9.6h-10.2zM1385.5 613.1h10.2v9.6h-10.2zM1494.2 613.1h10.2v9.6h-10.2zM1523.9 613.1h10.2v9.6h-10.2zM1346.0 641.0h10.2v9.6h-10.2zM1355.9 641.0h10.2v9.6h-10.2zM1375.6 641.0h10.2v9.6h-10.2zM1385.5 641.0h10.2v9.6h-10.2zM1523.9 641.0h10.2v9.6h-10.2zM1523.9 650.3h10.2v9.6h-10.2zM1355.9 659.6h10.2v9.6h-10.2zM1425.0 659.6h10.2v9.6h-10.2zM1533.8 659.6h10.2v9.6h-10.2zM1533.8 668.9h10.2v9.6h-10.2zM1553.5 678.2h10.2v9.6h-10.2z"/>
<path fill="#ff33bd" d="M1731.4 157.6h10.2v9.6h-10.2zM1771.0 157.6h10.2v9.6h-10.2zM1711.7 166.9h10.2v9.6h-10.2zM1741.3 166.9h10.2v9.6h-10.2zM1721.5 176.2h10.2v9.6h-10.2zM1652.4 185.5h10.2v9.6h-10.2zM1602.9 194.8h10.2v9.6h-10.2zM1662.2 213.4h10.2v9.6h-10.2zM1840.1 213.4h10.2v9.6h-10.2zM1652.4 241.3h10.2v9.6h-10.2zM1800.6 241.3h10.2v9.6h-10.2zM1820.4 259.9h10.2v9.6h-10.2zM1830.2 259.9h10.2v9.6h-10.2zM1820.4 269.2h10.2v9.6h-10.2zM1780.8 287.8h10.2v9.6h-10.2zM1800.6 297.0h10.2v9.6h-10.2zM1850.0 315.6h10.2v9.6h-10.2zM1810.5 334.2h10.2v9.6h-10.2zM1840.1 334.2h10.2v9.6h-10.2zM1731.4 352.8h10.2v9.6h-10.2zM1741.3 352.8h10.2v9.6h-10.2zM1751.2 417.9h10.2v9.6h-10.2zM1701.8 427.2h10.2v9.6h-10.2zM1454.7 436.5h10.2v9.6h-10.2zM1464.6 436.5h10.2v9.6h-10.2zM1523.9 445.8h10.2v9.6h-10.2zM1464.6 464.4h10.2v9.6h-10.2zM1514.0 492.3h10.2v9.6h-10.2zM1523.9 492.3h10.2v9.6h-10.2zM1533.8 501.6h10.2v9.6h-10.2zM1434.9 510.9h10.2v9.6h-10.2zM1425.0 548.1h10.2v9.6h-10.2zM1454.7 557.4h10.2v9.6h-10.2zM1514.0 566.7h10.2v9.6h-10.2zM1395.4 575.9h10.2v9.6h-10.2zM1504.1 585.2h10.2v9.6h-10.2zM1464.6 594.5h10.2v9.6h-10.2zM1405.3 603.8h10.2v9.6h-10.2zM1464.6 603.8h10.2v9.6h-10.2zM1346.0 650.3h10.2v9.6h-10.2zM1434.9 650.3h10.2v9.6h-10.2zM1454.7 668.9h10.2v9.6h-10.2zM1553.5 668.9h10.2v9.6h-10.2z"/>
<path fill="#ff337d" d="M1741.3 157.6h10.2v9.6h-10.2zM1810.5 157.6h10.2v9.6h-10.2zM1751.2 166.9h10.2v9.6h-10.2zM1642.5 176.2h10.2v9.6h-10.2zM1652.4 176.2h10.2v9.6h-10.2zM1682.0 176.2h10.2v9.6h-10.2zM1810.5 185.5h10.2v9.6h-10.2zM1642.5 204.1h10.2v9.6h-10.2zM1563.4 213.4h10.2v9.6h-10.2zM1691.9 213.4h10.2v9.6h-10.2zM1731.4 213.4h10.2v9.6h-10.2zM1771.0 222.7h10.2v9.6h-10.2zM1741.3 241.3h10.2v9.6h-10.2zM1682.0 250.6h10.2v9.6h-10.2zM1800.6 250.6h10.2v9.6h-10.2zM1850.0 250.6h10.2v9.6h-10.2zM1682.0 259.9h10.2v9.6h-10.2zM1780.8 269.2h10.2v9.6h-10.2zM1850.0 269.2h10.2v9.6h-10.2zM1761.1 297.0h10.2v9.6h-10.2zM1731.4 306.3h10.2v9.6h-10.2zM1790.7 315.6h10.2v9.6h-10.2zM1800.6 315.6h10.2v9.6h-10.2zM1632.6 324.9h10.2v9.6h-10.2zM1741.3 334.2h10.2v9.6h-10.2zM1741.3 343.5h10.2v9.6h-10.2zM1761.1 343.5h10.2v9.6h-10.2zM1771.0 343.5h10.2v9.6h-10.2zM1682.0 352.8h10.2v9.6h-10.2zM1652.4 371.4h10.2v9.6h-10.2zM1662.2 380.7h10.2v9.6h-10.2zM1830.2 390.0h10.2v9.6h-10.2zM1840.1 390.0h10.2v9.6h-10.2zM1642.5 399.3h10.2v9.6h-10.2zM1691.9 399.3h10.2v9.6h-10.2zM1800.6 399.3h10.2v9.6h-10.2zM1820.4 417.9h10.2v9.6h-10.2zM1415.2 445.8h10.2v9.6h-10.2zM1434.9 445.8h10.2v9.6h-10.2zM1415.2 455.1h10.2v9.6h-10.2zM1385.5 473.7h10.2v9.6h-10.2zM1553.5 473.7h10.2v9.6h-10.2zM1346.0 492.3h10.2v9.6h-10.2zM1444.8 492.3h10.2v9.6h-10.2zM1405.3 501.6h10.2v9.6h-10.2zM1494.2 501.6h10.2v9.6h-10.2zM1514.0 510.9h10.2v9.6h-10.2zM1444.8 520.2h10.2v9.6h-10.2zM1523.9 520.2h10.2v9.6h-10.2zM1553.5 520.2h10.2v9.6h-10.2zM1514.0 529.5h10.2v9.6h-10.2zM1385.5 548.1h10.2v9.6h-10.2zM1395.4 548.1h10.2v9.6h-10.2zM1425.0 566.7h10.2v9.6h-10.2zM1454.7 566.7h10.2v9.6h-10.2zM1494.2 566.7h10.2v9.6h-10.2zM1464.6 575.9h10.2v9.6h-10.2zM1484.3 613.1h10.2v9.6h-10.2zM1543.6 613.1h10.2v9.6h-10.2zM1415.2 631.7h10.2v9.6h-10.2zM1405.3 641.0h10.2v9.6h-10.2zM1365.7 659.6h10.2v9.6h-10.2zM1375.6 659.6h10.2v9.6h-10.2zM1514.0 659.6h10.2v9.6h-10.2zM1316.3 687.5h10.2v9.6h-10.2z"/>
<path fill="#ff333d" d="M1761.1 157.6h10.2v9.6h-10.2zM1266.9 166.9h10.2v9.6h-10.2zM1425.0 166.9h10.2v9.6h-10.2zM1583.2 166.9h10.2v9.6h-10.2zM1790.7 166.9h10.2v9.6h-10.2zM1672.1 176.2h10.2v9.6h-10.2zM1701.8 185.5h10.2v9.6h-10.2zM1652.4 204.1h10.2v9.6h-10.2zM1573.3 213.4h10.2v9.6h-10.2zM1573.3 278.5h10.2v9.6h-10.2zM1612.8 278.5h10.2v9.6h-10.2zM1444.8 306.3h10.2v9.6h-10.2zM1583.2 306.3h10.2v9.6h-10.2zM1652.4 315.6h10.2v9.6h-10.2zM1682.0 324.9h10.2v9.6h-10.2zM1612.8 343.5h10.2v9.6h-10.2zM1850.0 343.5h10.2v9.6h-10.2zM1583.2 352.8h10.2v9.6h-10.2zM1593.1 362.1h10.2v9.6h-10.2zM1563.4 380.7h10.2v9.6h-10.2zM1583.2 390.0h10.2v9.6h-10.2zM1662.2 390.0h10.2v9.6h-10.2zM1276.8 399.3h10.2v9.6h-10.2zM1593.1 427.2h10.2v9.6h-10.2zM1306.4 436.5h10.2v9.6h-10.2zM1316.3 436.5h10.2v9.6h-10.2zM1494.2 510.9h10.2v9.6h-10.2zM1316.3 520.2h10.2v9.6h-10.2zM1276.8 548.1h10.2v9.6h-10.2zM1306.4 566.7h10.2v9.6h-10.2zM1336.1 566.7h10.2v9.6h-10.2zM1276.8 585.2h10.2v9.6h-10.2zM1326.2 585.2h10.2v9.6h-10.2zM1336.1 594.5h10.2v9.6h-10.2zM1306.4 603.8h10.2v9.6h-10.2zM1316.3 622.4h10.2v9.6h-10.2zM1326.2 622.4h10.2v9.6h-10.2zM1336.1 631.7h10.2v9.6h-10.2zM1276.8 650.3h10.2v9.6h-10.2zM1296.6 650.3h10.2v9.6h-10.2zM1316.3 678.2h10.2v9.6h-10.2zM1365.7 687.5h10.2v9.6h-10.2zM1484.3 687.5h10.2v9.6h-10.2zM1533.8 687.5h10.2v9.6h-10.2zM1306.4 706.1h10.2v9.6h-10.2zM1533.8 706.1h10.2v9.6h-10.2z"/>
<path fill="#ff33b0" d="M1780.8 157.6h10.2v9.6h-10.2zM1721.5 185.5h10.2v9.6h-10.2zM1711.7 194.8h10.2v9.6h-10.2zM1672.1 204.1h10.2v9.6h-10.2zM1741.3 213.4h10.2v9.6h-10.2zM1761.1 222.7h10.2v9.6h-10.2zM1761.1 232.0h10.2v9.6h-10.2zM1780.8 232.0h10.2v9.6h-10.2zM1672.1 250.6h10.2v9.6h-10.2zM1731.4 287.8h10.2v9.6h-10.2zM1771.0 297.0h10.2v9.6h-10.2zM1820.4 315.6h10.2v9.6h-10.2zM1721.5 334.2h10.2v9.6h-10.2zM1691.9 352.8h10.2v9.6h-10.2zM1800.6 352.8h10.2v9.6h-10.2zM1612.8 362.1h10.2v9.6h-10.2zM1771.0 362.1h10.2v9.6h-10.2zM1820.4 371.4h10.2v9.6h-10.2zM1771.0 390.0h10.2v9.6h-10.2zM1425.0 436.5h10.2v9.6h-10.2zM1474.5 436.5h10.2v9.6h-10.2zM1355.9 464.4h10.2v9.6h-10.2zM1415.2 464.4h10.2v9.6h-10.2zM1454.7 483.0h10.2v9.6h-10.2zM1553.5 483.0h10.2v9.6h-10.2zM1415.2 501.6h10.2v9.6h-10.2zM1365.7 520.2h10.2v9.6h-10.2zM1405.3 529.5h10.2v9.6h-10.2zM1365.7 548.1h10.2v9.6h-10.2zM1533.8 557.4h10.2v9.6h-10.2zM1474.5 566.7h10.2v9.6h-10.2zM1444.8 575.9h10.2v9.6h-10.2zM1415.2 594.5h10.2v9.6h-10.2zM1395.4 603.8h10.2v9.6h-10.2zM1494.2 603.8h10.2v9.6h-10.2zM1395.4 613.1h10.2v9.6h-10.2zM1365.7 631.7h10.2v9.6h-10.2zM1533.8 631.7h10.2v9.6h-10.2zM1385.5 650.3h10.2v9.6h-10.2z"/>
<path fill="#ff33aa" d="M1800.6 157.6h10.2v9.6h-10.2zM1622.7 166.9h10.2v9.6h-10.2zM1721.5 166.9h10.2v9.6h-10.2zM1810.5 166.9h10.2v9.6h-10.2zM1800.6 185.5h10.2v9.6h-10.2zM1701.8 204.1h10.2v9.6h-10.2zM1780.8 204.1h10.2v9.6h-10.2zM1810.5 213.4h10.2v9.6h-10.2zM1642.5 222.7h10.2v9.6h-10.2zM1800.6 222.7h10.2v9.6h-10.2zM1721.5 241.3h10.2v9.6h-10.2zM1790.7 241.3h10.2v9.6h-10.2zM1642.5 287.8h10.2v9.6h-10.2zM1672.1 297.0h10.2v9.6h-10.2zM1642.5 334.2h10.2v9.6h-10.2zM1790.7 343.5h10.2v9.6h-10.2zM1840.1 352.8h10.2v9.6h-10.2zM1721.5 362.1h10.2v9.6h-10.2zM1820.4 362.1h10.2v9.6h-10.2zM1850.0 362.1h10.2v9.6h-10.2zM1780.8 371.4h10.2v9.6h-10.2zM1721.5 380.7h10.2v9.6h-10.2zM1840.1 380.7h10.2v9.6h-10.2zM1761.1 408.6h10.2v9.6h-10.2zM1632.6 427.2h10.2v9.6h-10.2zM1484.3 455.1h10.2v9.6h-10.2zM1444.8 473.7h10.2v9.6h-10.2zM1425.0 501.6h10.2v9.6h-10.2zM1504.1 501.6h10.2v9.6h-10.2zM1365.7 529.5h10.2v9.6h-10.2zM1434.9 529.5h10.2v9.6h-10.2zM1553.5 529.5h10.2v9.6h-10.2zM1553.5 538.8h10.2v9.6h-10.2zM1444.8 548.1h10.2v9.6h-10.2zM1415.2 557.4h10.2v9.6h-10.2zM1444.8 557.4h10.2v9.6h-10.2zM1355.9 575.9h10.2v9.6h-10.2zM1395.4 594.5h10.2v9.6h-10.2zM1444.8 613.1h10.2v9.6h-10.2zM1464.6 613.1h10.2v9.6h-10.2zM1533.8 613.1h10.2v9.6h-10.2zM1444.8 622.4h10.2v9.6h-10.2zM1523.9 622.4h10.2v9.6h-10.2zM1464.6 659.6h10.2v9.6h-10.2zM1504.1 668.9h10.2v9.6h-10.2z"/>
<path fill="#ff33b7" d="M1820.4 157.6h10.2v9.6h-10.2zM1751.2 185.5h10.2v9.6h-10.2zM1810.5 204.1h10.2v9.6h-10.2zM1721.5 213.4h10.2v9.6h-10.2zM1830.2 213.4h10.2v9.6h-10.2zM1721.5 232.0h10.2v9.6h-10.2zM1771.0 241.3h10.2v9.6h-10.2zM1741.3 250.6h10.2v9.6h-10.2zM1790.7 250.6h10.2v9.6h-10.2zM1810.5 250.6h10.2v9.6h-10.2zM1820.4 250.6h10.2v9.6h-10.2zM1711.7 259.9h10.2v9.6h-10.2zM1721.5 269.2h10.2v9.6h-10.2zM1790.7 269.2h10.2v9.6h-10.2zM1761.1 278.5h10.2v9.6h-10.2zM1741.3 287.8h10.2v9.6h-10.2zM1761.1 287.8h10.2v9.6h-10.2zM1652.4 297.0h10.2v9.6h-10.2zM1701.8 306.3h10.2v9.6h-10.2zM1830.2 315.6h10.2v9.6h-10.2zM1761.1 334.2h10.2v9.6h-10.2zM1761.1 380.7h10.2v9.6h-10.2zM1711.7 390.0h10.2v9.6h-10.2zM1741.3 390.0h10.2v9.6h-10.2zM1731.4 399.3h10.2v9.6h-10.2zM1771.0 399.3h10.2v9.6h-10.2zM1850.0 399.3h10.2v9.6h-10.2zM1751.2 408.6h10.2v9.6h-10.2zM1780.8 408.6h10.2v9.6h-10.2zM1642.5 427.2h10.2v9.6h-10.2zM1721.5 427.2h10.2v9.6h-10.2zM1365.7 445.8h10.2v9.6h-10.2zM1553.5 455.1h10.2v9.6h-10.2zM1355.9 473.7h10.2v9.6h-10.2zM1533.8 473.7h10.2v9.6h-10.2zM1346.0 483.0h10.2v9.6h-10.2zM1543.6 483.0h10.2v9.6h-10.2zM1385.5 510.9h10.2v9.6h-10.2zM1425.0 529.5h10.2v9.6h-10.2zM1464.6 529.5h10.2v9.6h-10.2zM1474.5 538.8h10.2v9.6h-10.2zM1464.6 566.7h10.2v9.6h-10.2zM1425.0 575.9h10.2v9.6h-10.2zM1484.3 594.5h10.2v9.6h-10.2zM1415.2 603.8h10.2v9.6h-10.2zM1543.6 603.8h10.2v9.6h-10.2zM1425.0 613.1h10.2v9.6h-10.2zM1474.5 613.1h10.2v9.6h-10.2zM1405.3 631.7h10.2v9.6h-10.2zM1474.5 650.3h10.2v9.6h-10.2z"/>
<path fill="#ff3390" d="M1830.2 157.6h10.2v9.6h-10.2zM1573.3 176.2h10.2v9.6h-10.2zM1662.2 176.2h10.2v9.6h-10.2zM1771.0 176.2h10.2v9.6h-10.2zM1790.7 176.2h10.2v9.6h-10.2zM1810.5 176.2h10.2v9.6h-10.2zM1622.7 194.8h10.2v9.6h-10.2zM1850.0 194.8h10.2v9.6h-10.2zM1711.7 204.1h10.2v9.6h-10.2zM1622.7 213.4h10.2v9.6h-10.2zM1751.2 213.4h10.2v9.6h-10.2zM1771.0 213.4h10.2v9.6h-10.2zM1780.8 213.4h10.2v9.6h-10.2zM1682.0 222.7h10.2v9.6h-10.2zM1652.4 232.0h10.2v9.6h-10.2zM1711.7 269.2h10.2v9.6h-10.2zM1711.7 278.5h10.2v9.6h-10.2zM1622.7 297.0h10.2v9.6h-10.2zM1741.3 297.0h10.2v9.6h-10.2zM1830.2 297.0h10.2v9.6h-10.2zM1751.2 306.3h10.2v9.6h-10.2zM1751.2 315.6h10.2v9.6h-10.2zM1701.8 324.9h10.2v9.6h-10.2zM1850.0 324.9h10.2v9.6h-10.2zM1711.7 334.2h10.2v9.6h-10.2zM1800.6 334.2h10.2v9.6h-10.2zM1790.7 362.1h10.2v9.6h-10.2zM1682.0 371.4h10.2v9.6h-10.2zM1780.8 390.0h10.2v9.6h-10.2zM1691.9 417.9h10.2v9.6h-10.2zM1573.3 427.2h10.2v9.6h-10.2zM1751.2 427.2h10.2v9.6h-10.2zM1444.8 445.8h10.2v9.6h-10.2zM1504.1 455.1h10.2v9.6h-10.2zM1346.0 464.4h10.2v9.6h-10.2zM1395.4 464.4h10.2v9.6h-10.2zM1553.5 464.4h10.2v9.6h-10.2zM1346.0 473.7h10.2v9.6h-10.2zM1385.5 492.3h10.2v9.6h-10.2zM1543.6 492.3h10.2v9.6h-10.2zM1365.7 510.9h10.2v9.6h-10.2zM1444.8 510.9h10.2v9.6h-10.2zM1543.6 510.9h10.2v9.6h-10.2zM1553.5 510.9h10.2v9.6h-10.2zM1474.5 529.5h10.2v9.6h-10.2zM1425.0 538.8h10.2v9.6h-10.2zM1434.9 538.8h10.2v9.6h-10.2zM1385.5 557.4h10.2v9.6h-10.2zM1553.5 566.7h10.2v9.6h-10.2zM1543.6 575.9h10.2v9.6h-10.2zM1346.0 585.2h10.2v9.6h-10.2zM1415.2 585.2h10.2v9.6h-10.2zM1425.0 585.2h10.2v9.6h-10.2zM1553.5 585.2h10.2v9.6h-10.2zM1405.3 594.5h10.2v9.6h-10.2zM1405.3 613.1h10.2v9.6h-10.2zM1514.0 613.1h10.2v9.6h-10.2zM1385.5 622.4h10.2v9.6h-10.2zM1494.2 650.3h10.2v9.6h-10.2zM1474.5 659.6h10.2v9.6h-10.2zM1504.1 659.6h10.2v9.6h-10.2zM1365.7 668.9h10.2v9.6h-10.2zM1514.0 668.9h10.2v9.6h-10.2z"/>
<path fill="#ffffff" d="M1850.0 157.6h10.2v9.6h-10.2zM1840.1 166.9h10.2v9.6h-10.2zM1830.2 176.2h10.2v9.6h-10.2zM1820.4 185.5h10.2v9.6h-10.2zM1810.5 194.8h10.2v9.6h-10.2zM1800.6 204.1h10.2v9.6h-10.2zM1790.7 213.4h10.2v9.6h-10.2zM1780.8 222.7h10.2v9.6h-10.2zM1771.0 232.0h10.2v9.6h-10.2zM1761.1 241.3h10.2v9.6h-10.2zM1751.2 250.6h10.2v9.6h-10.2zM1741.3 259.9h10.2v9.6h-10.2zM1731.4 269.2h10.2v9.6h-10.2zM1721.5 278.5h10.2v9.6h-10.2zM1711.7 287.8h10.2v9.6h-10.2zM1701.8 297.0h10.2v9.6h-10.2zM1691.9 306.3h10.2v9.6h-10.2zM1682.0 315.6h10.2v9.6h-10.2zM1672.1 324.9h10.2v9.6h-10.2zM1662.2 334.2h10.2v9.6h-10.2zM1652.4 343.5h10.2v9.6h-10.2zM1642.5 352.8h10.2v9.6h-10.2zM1632.6 362.1h10.2v9.6h-10.2zM1622.7 371.4h10.2v9.6h-10.2zM1612.8 380.7h10.2v9.6h-10.2zM1602.9 390.0h10.2v9.6h-10.2zM1593.1 399.3h10.2v9.6h-10.2zM1583.2 408.6h10.2v9.6h-10.2zM1573.3 417.9h10.2v9.6h-10.2zM1563.4 427.2h10.2v9.6h-10.2zM1553.5 436.5h10.2v9.6h-10.2zM1543.6 445.8h10.2v9.6h-10.2zM1533.8 455.1h10.2v9.6h-10.2zM1523.9 464.4h10.2v9.6h-10.2zM1514.0 473.7h10.2v9.6h-10.2zM1504.1 483.0h10.2v9.6h-10.2zM1494.2 492.3h10.2v9.6h-10.2zM1484.3 501.6h10.2v9.6h-10.2zM1474.5 510.9h10.2v9.6h-10.2zM1464.6 520.2h10.2v9.6h-10.2zM1454.7 529.5h10.2v9.6h-10.2zM1444.8 538.8h10.2v9.6h-10.2zM1434.9 548.1h10.2v9.6h-10.2zM1425.0 557.4h10.2v9.6h-10.2zM1415.2 566.7h10.2v9.6h-10.2zM1405.3 575.9h10.2v9.6h-10.2zM1395.4 585.2h10.2v9.6h-10.2zM1385.5 594.5h10.2v9.6h-10.2zM1375.6 603.8h10.2v9.6h-10.2zM1365.7 613.1h10.2v9.6h-10.2zM1355.9 622.4h10.2v9.6h-10.2zM1346.0 631.7h10.2v9.6h-10.2zM1336.1 641.0h10.2v9.6h-10.2zM1326.2 650.3h10.2v9.6h-10.2zM1316.3 659.6h10.2v9.6h-10.2zM1306.4 668.9h10.2v9.6h-10.2zM1296.6 678.2h10.2v9.6h-10.2zM1286.7 687.5h10.2v9.6h-10.2zM1276.8 696.8h10.2v9.6h-10.2zM1266.9 706.1h10.2v9.6h-10.2z"/>
<path fill="#ff9d33" d="M1276.8 166.9h10.2v9.6h-10.2zM1395.4 166.9h10.2v9.6h-10.2zM1276.8 176.2h10.2v9.6h-10.2zM1286.7 176.2h10.2v9.6h-10.2zM1266.9 185.5h10.2v9.6h-10.2zM1523.9 185.5h10.2v9.6h-10.2zM1336.1 241.3h10.2v9.6h-10.2zM1454.7 241.3h10.2v9.6h-10.2zM1286.7 250.6h10.2v9.6h-10.2zM1266.9 259.9h10.2v9.6h-10.2zM1306.4 259.9h10.2v9.6h-10.2zM1405.3 259.9h10.2v9.6h-10.2zM1276.8 269.2h10.2v9.6h-10.2zM1316.3 278.5h10.2v9.6h-10.2zM1276.8 297.0h10.2v9.6h-10.2zM1306.4 297.0h10.2v9.6h-10.2zM1276.8 306.3h10.2v9.6h-10.2zM1276.8 315.6h10.2v9.6h-10.2zM1276.8 324.9h10.2v9.6h-10.2zM1286.7 324.9h10.2v9.6h-10.2zM1355.9 352.8h10.2v9.6h-10.2zM1415.2 352.8h10.2v9.6h-10.2zM1523.9 371.4h10.2v9.6h-10.2zM1296.6 399.3h10.2v9.6h-10.2zM1405.3 399.3h10.2v9.6h-10.2zM1425.0 399.3h10.2v9.6h-10.2zM1553.5 399.3h10.2v9.6h-10.2zM1533.8 408.6h10.2v9.6h-10.2zM1474.5 417.9h10.2v9.6h-10.2zM1494.2 417.9h10.2v9.6h-10.2zM1266.9 510.9h10.2v9.6h-10.2zM1840.1 520.2h10.2v9.6h-10.2zM1266.9 548.1h10.2v9.6h-10.2zM1751.2 548.1h10.2v9.6h-10.2zM1266.9 566.7h10.2v9.6h-10.2zM1286.7 575.9h10.2v9.6h-10.2zM1593.1 603.8h10.2v9.6h-10.2zM1593.1 622.4h10.2v9.6h-10.2zM1266.9 641.0h10.2v9.6h-10.2zM1662.2 641.0h10.2v9.6h-10.2zM1672.1 641.0h10.2v9.6h-10.2zM1691.9 641.0h10.2v9.6h-10.2zM1721.5 641.0h10.2v9.6h-10.2zM1593.1 650.3h10.2v9.6h-10.2zM1682.0 650.3h10.2v9.6h-10.2zM1266.9 659.6h10.2v9.6h-10.2zM1563.4 659.6h10.2v9.6h-10.2zM1612.8 659.6h10.2v9.6h-10.2zM1622.7 659.6h10.2v9.6h-10.2zM1691.9 659.6h10.2v9.6h-10.2zM1800.6 659.6h10.2v9.6h-10.2zM1711.7 668.9h10.2v9.6h-10.2zM1721.5 668.9h10.2v9.6h-10.2zM1751.2 668.9h10.2v9.6h-10.2zM1266.9 678.2h10.2v9.6h-10.2zM1652.4 678.2h10.2v9.6h-10.2zM1662.2 687.5h10.2v9.6h-10.2zM1691.9 687.5h10.2v9.6h-10.2zM1602.9 696.8h10.2v9.6h-10.2zM1701.8 696.8h10.2v9.6h-10.2z"/>
<path fill="#ffa233" d="M1306.4 166.9h10.2v9.6h-10.2zM1444.8 176.2h10.2v9.6h-10.2zM1484.3 176.2h10.2v9.6h-10.2zM1286.7 194.8h10.2v9.6h-10.2zM1336.1 194.8h10.2v9.6h-10.2zM1444.8 194.8h10.2v9.6h-10.2zM1494.2 204.1h10.2v9.6h-10.2zM1316.3 222.7h10.2v9.6h-10.2zM1385.5 232.0h10.2v9.6h-10.2zM1444.8 232.0h10.2v9.6h-10.2zM1316.3 241.3h10.2v9.6h-10.2zM1533.8 250.6h10.2v9.6h-10.2zM1444.8 278.5h10.2v9.6h-10.2zM1514.0 278.5h10.2v9.6h-10.2zM1523.9 278.5h10.2v9.6h-10.2zM1434.9 287.8h10.2v9.6h-10.2zM1533.8 287.8h10.2v9.6h-10.2zM1336.1 297.0h10.2v9.6h-10.2zM1425.0 306.3h10.2v9.6h-10.2zM1434.9 306.3h10.2v9.6h-10.2zM1405.3 315.6h10.2v9.6h-10.2zM1266.9 324.9h10.2v9.6h-10.2zM1415.2 324.9h10.2v9.6h-10.2zM1306.4 334.2h10.2v9.6h-10.2zM1276.8 343.5h10.2v9.6h-10.2zM1553.5 352.8h10.2v9.6h-10.2zM1276.8 371.4h10.2v9.6h-10.2zM1266.9 380.7h10.2v9.6h-10.2zM1444.8 380.7h10.2v9.6h-10.2zM1514.0 380.7h10.2v9.6h-10.2zM1533.8 380.7h10.2v9.6h-10.2zM1405.3 390.0h10.2v9.6h-10.2zM1286.7 408.6h10.2v9.6h-10.2zM1296.6 408.6h10.2v9.6h-10.2zM1266.9 436.5h10.2v9.6h-10.2zM1563.4 436.5h10.2v9.6h-10.2zM1563.4 464.4h10.2v9.6h-10.2zM1573.3 548.1h10.2v9.6h-10.2zM1790.7 557.4h10.2v9.6h-10.2zM1840.1 641.0h10.2v9.6h-10.2zM1573.3 650.3h10.2v9.6h-10.2zM1583.2 650.3h10.2v9.6h-10.2zM1612.8 650.3h10.2v9.6h-10.2zM1642.5 650.3h10.2v9.6h-10.2zM1741.3 650.3h10.2v9.6h-10.2zM1790.7 650.3h10.2v9.6h-10.2zM1593.1 659.6h10.2v9.6h-10.2zM1612.8 668.9h10.2v9.6h-10.2zM1652.4 668.9h10.2v9.6h-10.2zM1691.9 668.9h10.2v9.6h-10.2zM1850.0 668.9h10.2v9.6h-10.2zM1672.1 678.2h10.2v9.6h-10.2zM1711.7 678.2h10.2v9.6h-10.2zM1266.9 696.8h10.2v9.6h-10.2zM1632.6 696.8h10.2v9.6h-10.2zM1820.4 696.8h10.2v9.6h-10.2zM1790.7 706.1h10.2v9.6h-10.2z"/>
<path fill="#ffb733" d="M1346.0 166.9h10.2v9.6h-10.2zM1375.6 166.9h10.2v9.6h-10.2zM1395.4 176.2h10.2v9.6h-10.2zM1296.6 185.5h10.2v9.6h-10.2zM1336.1 185.5h10.2v9.6h-10.2zM1355.9 185.5h10.2v9.6h-10.2zM1504.1 185.5h10.2v9.6h-10.2zM1415.2 194.8h10.2v9.6h-10.2zM1434.9 204.1h10.2v9.6h-10.2zM1444.8 204.1h10.2v9.6h-10.2zM1484.3 204.1h10.2v9.6h-10.2zM1276.8 213.4h10.2v9.6h-10.2zM1326.2 213.4h10.2v9.6h-10.2zM1355.9 213.4h10.2v9.6h-10.2zM1365.7 213.4h10.2v9.6h-10.2zM1533.8 213.4h10.2v9.6h-10.2zM1395.4 222.7h10.2v9.6h-10.2zM1405.3 222.7h10.2v9.6h-10.2zM1434.9 222.7h10.2v9.6h-10.2zM1286.7 232.0h10.2v9.6h-10.2zM1415.2 232.0h10.2v9.6h-10.2zM1484.3 232.0h10.2v9.6h-10.2zM1286.7 241.3h10.2v9.6h-10.2zM1395.4 241.3h10.2v9.6h-10.2zM1346.0 250.6h10.2v9.6h-10.2zM1405.3 250.6h10.2v9.6h-10.2zM1444.8 250.6h10.2v9.6h-10.2zM1346.0 259.9h10.2v9.6h-10.2zM1484.3 259.9h10.2v9.6h-10.2zM1553.5 269.2h10.2v9.6h-10.2zM1375.6 278.5h10.2v9.6h-10.2zM1494.2 278.5h10.2v9.6h-10.2zM1533.8 278.5h10.2v9.6h-10.2zM1296.6 287.8h10.2v9.6h-10.2zM1385.5 287.8h10.2v9.6h-10.2zM1514.0 287.8h10.2v9.6h-10.2zM1553.5 287.8h10.2v9.6h-10.2zM1326.2 297.0h10.2v9.6h-10.2zM1444.8 297.0h10.2v9.6h-10.2zM1494.2 297.0h10.2v9.6h-10.2zM1553.5 297.0h10.2v9.6h-10.2zM1454.7 306.3h10.2v9.6h-10.2zM1514.0 306.3h10.2v9.6h-10.2zM1316.3 315.6h10.2v9.6h-10.2zM1326.2 315.6h10.2v9.6h-10.2zM1346.0 324.9h10.2v9.6h-10.2zM1365.7 324.9h10.2v9.6h-10.2zM1484.3 324.9h10.2v9.6h-10.2zM1514.0 324.9h10.2v9.6h-10.2zM1286.7 343.5h10.2v9.6h-10.2zM1346.0 343.5h10.2v9.6h-10.2zM1395.4 343.5h10.2v9.6h-10.2zM1543.6 343.5h10.2v9.6h-10.2zM1296.6 352.8h10.2v9.6h-10.2zM1365.7 352.8h10.2v9.6h-10.2zM1316.3 362.1h10.2v9.6h-10.2zM1355.9 362.1h10.2v9.6h-10.2zM1415.2 362.1h10.2v9.6h-10.2zM1474.5 362.1h10.2v9.6h-10.2zM1326.2 371.4h10.2v9.6h-10.2zM1474.5 371.4h10.2v9.6h-10.2zM1484.3 371.4h10.2v9.6h-10.2zM1375.6 380.7h10.2v9.6h-10.2zM1405.3 380.7h10.2v9.6h-10.2zM1395.4 390.0h10.2v9.6h-10.2zM1415.2 390.0h10.2v9.6h-10.2zM1326.2 399.3h10.2v9.6h-10.2zM1336.1 399.3h10.2v9.6h-10.2zM1346.0 399.3h10.2v9.6h-10.2zM1306.4 408.6h10.2v9.6h-10.2zM1355.9 408.6h10.2v9.6h-10.2zM1543.6 408.6h10.2v9.6h-10.2zM1336.1 417.9h10.2v9.6h-10.2zM1355.9 417.9h10.2v9.6h-10.2zM1514.0 417.9h10.2v9.6h-10.2zM1355.9 427.2h10.2v9.6h-10.2zM1385.5 427.2h10.2v9.6h-10.2zM1573.3 445.8h10.2v9.6h-10.2zM1642.5 445.8h10.2v9.6h-10.2zM1266.9 455.1h10.2v9.6h-10.2zM1672.1 455.1h10.2v9.6h-10.2zM1583.2 473.7h10.2v9.6h-10.2zM1622.7 473.7h10.2v9.6h-10.2zM1790.7 473.7h10.2v9.6h-10.2zM1701.8 492.3h10.2v9.6h-10.2zM1573.3 501.6h10.2v9.6h-10.2zM1840.1 501.6h10.2v9.6h-10.2zM1563.4 529.5h10.2v9.6h-10.2zM1622.7 529.5h10.2v9.6h-10.2zM1642.5 529.5h10.2v9.6h-10.2zM1761.1 529.5h10.2v9.6h-10.2zM1780.8 529.5h10.2v9.6h-10.2zM1266.9 538.8h10.2v9.6h-10.2zM1593.1 557.4h10.2v9.6h-10.2zM1593.1 575.9h10.2v9.6h-10.2zM1830.2 575.9h10.2v9.6h-10.2zM1573.3 594.5h10.2v9.6h-10.2zM1266.9 603.8h10.2v9.6h-10.2zM1563.4 603.8h10.2v9.6h-10.2zM1711.7 603.8h10.2v9.6h-10.2zM1780.8 613.1h10.2v9.6h-10.2zM1563.4 622.4h10.2v9.6h-10.2zM1622.7 631.7h10.2v9.6h-10.2zM1632.6 641.0h10.2v9.6h-10.2zM1662.2 650.3h10.2v9.6h-10.2zM1751.2 650.3h10.2v9.6h-10.2zM1810.5 650.3h10.2v9.6h-10.2zM1602.9 659.6h10.2v9.6h-10.2zM1672.1 659.6h10.2v9.6h-10.2zM1711.7 659.6h10.2v9.6h-10.2zM1741.3 659.6h10.2v9.6h-10.2zM1672.1 668.9h10.2v9.6h-10.2zM1761.1 668.9h10.2v9.6h-10.2zM1780.8 668.9h10.2v9.6h-10.2zM1612.8 678.2h10.2v9.6h-10.2zM1731.4 678.2h10.2v9.6h-10.2zM1780.8 678.2h10.2v9.6h-10.2zM1761.1 687.5h10.2v9.6h-10.2z"/>
<path fill="#ffed33" d="M1385.5 166.9h10.2v9.6h-10.2zM1405.3 213.4h10.2v9.6h-10.2zM1365.7 278.5h10.2v9.6h-10.2zM1405.3 278.5h10.2v9.6h-10.2zM1543.6 278.5h10.2v9.6h-10.2zM1494.2 315.6h10.2v9.6h-10.2zM1474.5 324.9h10.2v9.6h-10.2zM1365.7 390.0h10.2v9.6h-10.2zM1375.6 417.9h10.2v9.6h-10.2zM1454.7 417.9h10.2v9.6h-10.2zM1533.8 427.2h10.2v9.6h-10.2zM1612.8 445.8h10.2v9.6h-10.2zM1662.2 445.8h10.2v9.6h-10.2zM1632.6 455.1h10.2v9.6h-10.2zM1751.2 455.1h10.2v9.6h-10.2zM1652.4 464.4h10.2v9.6h-10.2zM1790.7 464.4h10.2v9.6h-10.2zM1800.6 464.4h10.2v9.6h-10.2zM1810.5 464.4h10.2v9.6h-10.2zM1840.1 464.4h10.2v9.6h-10.2zM1850.0 464.4h10.2v9.6h-10.2zM1682.0 473.7h10.2v9.6h-10.2zM1642.5 483.0h10.2v9.6h-10.2zM1721.5 483.0h10.2v9.6h-10.2zM1593.1 492.3h10.2v9.6h-10.2zM1751.2 492.3h10.2v9.6h-10.2zM1622.7 501.6h10.2v9.6h-10.2zM1642.5 501.6h10.2v9.6h-10.2zM1662.2 501.6h10.2v9.6h-10.2zM1721.5 501.6h10.2v9.6h-10.2zM1751.2 501.6h10.2v9.6h-10.2zM1612.8 510.9h10.2v9.6h-10.2zM1642.5 510.9h10.2v9.6h-10.2zM1642.5 520.2h10.2v9.6h-10.2zM1612.8 529.5h10.2v9.6h-10.2zM1840.1 529.5h10.2v9.6h-10.2zM1612.8 548.1h10.2v9.6h-10.2zM1672.1 548.1h10.2v9.6h-10.2zM1721.5 548.1h10.2v9.6h-10.2zM1622.7 557.4h10.2v9.6h-10.2zM1583.2 566.7h10.2v9.6h-10.2zM1771.0 566.7h10.2v9.6h-10.2zM1583.2 585.2h10.2v9.6h-10.2zM1830.2 585.2h10.2v9.6h-10.2zM1622.7 594.5h10.2v9.6h-10.2zM1800.6 594.5h10.2v9.6h-10.2zM1840.1 594.5h10.2v9.6h-10.2zM1741.3 613.1h10.2v9.6h-10.2zM1820.4 622.4h10.2v9.6h-10.2zM1830.2 622.4h10.2v9.6h-10.2zM1790.7 641.0h10.2v9.6h-10.2z"/>
<path fill="#ff3370" d="M1563.4 166.9h10.2v9.6h-10.2zM1672.1 166.9h10.2v9.6h-10.2zM1682.0 166.9h10.2v9.6h-10.2zM1622.7 176.2h10.2v9.6h-10.2zM1672.1 185.5h10.2v9.6h-10.2zM1682.0 185.5h10.2v9.6h-10.2zM1731.4 194.8h10.2v9.6h-10.2zM1691.9 204.1h10.2v9.6h-10.2zM1850.0 222.7h10.2v9.6h-10.2zM1632.6 241.3h10.2v9.6h-10.2zM1691.9 259.9h10.2v9.6h-10.2zM1751.2 259.9h10.2v9.6h-10.2zM1583.2 269.2h10.2v9.6h-10.2zM1652.4 269.2h10.2v9.6h-10.2zM1800.6 269.2h10.2v9.6h-10.2zM1652.4 287.8h10.2v9.6h-10.2zM1672.1 287.8h10.2v9.6h-10.2zM1642.5 297.0h10.2v9.6h-10.2zM1622.7 315.6h10.2v9.6h-10.2zM1731.4 324.9h10.2v9.6h-10.2zM1602.9 334.2h10.2v9.6h-10.2zM1682.0 334.2h10.2v9.6h-10.2zM1780.8 334.2h10.2v9.6h-10.2zM1820.4 334.2h10.2v9.6h-10.2zM1672.1 343.5h10.2v9.6h-10.2zM1642.5 371.4h10.2v9.6h-10.2zM1741.3 371.4h10.2v9.6h-10.2zM1820.4 380.7h10.2v9.6h-10.2zM1632.6 417.9h10.2v9.6h-10.2zM1830.2 427.2h10.2v9.6h-10.2zM1336.1 436.5h10.2v9.6h-10.2zM1365.7 436.5h10.2v9.6h-10.2zM1434.9 436.5h10.2v9.6h-10.2zM1494.2 436.5h10.2v9.6h-10.2zM1504.1 445.8h10.2v9.6h-10.2zM1355.9 455.1h10.2v9.6h-10.2zM1375.6 455.1h10.2v9.6h-10.2zM1425.0 455.1h10.2v9.6h-10.2zM1543.6 455.1h10.2v9.6h-10.2zM1454.7 464.4h10.2v9.6h-10.2zM1504.1 464.4h10.2v9.6h-10.2zM1405.3 473.7h10.2v9.6h-10.2zM1484.3 473.7h10.2v9.6h-10.2zM1365.7 483.0h10.2v9.6h-10.2zM1405.3 492.3h10.2v9.6h-10.2zM1326.2 510.9h10.2v9.6h-10.2zM1405.3 520.2h10.2v9.6h-10.2zM1415.2 520.2h10.2v9.6h-10.2zM1494.2 529.5h10.2v9.6h-10.2zM1543.6 529.5h10.2v9.6h-10.2zM1454.7 548.1h10.2v9.6h-10.2zM1375.6 557.4h10.2v9.6h-10.2zM1346.0 613.1h10.2v9.6h-10.2zM1296.6 622.4h10.2v9.6h-10.2zM1365.7 650.3h10.2v9.6h-10.2zM1434.9 659.6h10.2v9.6h-10.2zM1484.3 668.9h10.2v9.6h-10.2zM1523.9 678.2h10.2v9.6h-10.2z"/>
<path fill="#ff335a" d="M1573.3 166.9h10.2v9.6h-10.2zM1612.8 166.9h10.2v9.6h-10.2zM1642.5 166.9h10.2v9.6h-10.2zM1701.8 176.2h10.2v9.6h-10.2zM1820.4 176.2h10.2v9.6h-10.2zM1632.6 185.5h10.2v9.6h-10.2zM1741.3 194.8h10.2v9.6h-10.2zM1800.6 213.4h10.2v9.6h-10.2zM1652.4 222.7h10.2v9.6h-10.2zM1691.9 222.7h10.2v9.6h-10.2zM1563.4 232.0h10.2v9.6h-10.2zM1682.0 232.0h10.2v9.6h-10.2zM1563.4 250.6h10.2v9.6h-10.2zM1632.6 259.9h10.2v9.6h-10.2zM1790.7 259.9h10.2v9.6h-10.2zM1691.9 278.5h10.2v9.6h-10.2zM1800.6 278.5h10.2v9.6h-10.2zM1622.7 287.8h10.2v9.6h-10.2zM1701.8 315.6h10.2v9.6h-10.2zM1642.5 343.5h10.2v9.6h-10.2zM1800.6 343.5h10.2v9.6h-10.2zM1672.1 362.1h10.2v9.6h-10.2zM1642.5 390.0h10.2v9.6h-10.2zM1682.0 399.3h10.2v9.6h-10.2zM1573.3 408.6h10.2v9.6h-10.2zM1672.1 408.6h10.2v9.6h-10.2zM1711.7 408.6h10.2v9.6h-10.2zM1612.8 417.9h10.2v9.6h-10.2zM1612.8 427.2h10.2v9.6h-10.2zM1296.6 538.8h10.2v9.6h-10.2zM1523.9 538.8h10.2v9.6h-10.2zM1365.7 557.4h10.2v9.6h-10.2zM1395.4 557.4h10.2v9.6h-10.2zM1434.9 557.4h10.2v9.6h-10.2zM1365.7 566.7h10.2v9.6h-10.2zM1504.1 566.7h10.2v9.6h-10.2zM1533.8 566.7h10.2v9.6h-10.2zM1316.3 613.1h10.2v9.6h-10.2zM1296.6 641.0h10.2v9.6h-10.2zM1533.8 641.0h10.2v9.6h-10.2zM1395.4 678.2h10.2v9.6h-10.2zM1533.8 678.2h10.2v9.6h-10.2zM1296.6 696.8h10.2v9.6h-10.2zM1484.3 696.8h10.2v9.6h-10.2z"/>
<path fill="#ff4e33" d="M1593.1 166.9h10.2v9.6h-10.2zM1385.5 176.2h10.2v9.6h-10.2zM1563.4 176.2h10.2v9.6h-10.2zM1286.7 222.7h10.2v9.6h-10.2zM1563.4 269.2h10.2v9.6h-10.2zM1415.2 297.0h10.2v9.6h-10.2zM1583.2 297.0h10.2v9.6h-10.2zM1573.3 315.6h10.2v9.6h-10.2zM1593.1 343.5h10.2v9.6h-10.2zM1563.4 362.1h10.2v9.6h-10.2zM1533.8 371.4h10.2v9.6h-10.2zM1691.9 380.7h10.2v9.6h-10.2zM1326.2 390.0h10.2v9.6h-10.2zM1573.3 390.0h10.2v9.6h-10.2zM1336.1 464.4h10.2v9.6h-10.2zM1336.1 473.7h10.2v9.6h-10.2zM1276.8 492.3h10.2v9.6h-10.2zM1276.8 501.6h10.2v9.6h-10.2zM1306.4 501.6h10.2v9.6h-10.2zM1296.6 520.2h10.2v9.6h-10.2zM1296.6 575.9h10.2v9.6h-10.2zM1276.8 603.8h10.2v9.6h-10.2z"/>
<path fill="#ff6f33" d="M1602.9 166.9h10.2v9.6h-10.2zM1573.3 222.7h10.2v9.6h-10.2zM1602.9 241.3h10.2v9.6h-10.2zM1573.3 334.2h10.2v9.6h-10.2zM1691.9 334.2h10.2v9.6h-10.2zM1266.9 343.5h10.2v9.6h-10.2zM1632.6 436.5h10.2v9.6h-10.2zM1830.2 455.1h10.2v9.6h-10.2zM1602.9 464.4h10.2v9.6h-10.2zM1286.7 529.5h10.2v9.6h-10.2zM1800.6 631.7h10.2v9.6h-10.2zM1583.2 659.6h10.2v9.6h-10.2zM1701.8 659.6h10.2v9.6h-10.2zM1810.5 668.9h10.2v9.6h-10.2zM1276.8 678.2h10.2v9.6h-10.2zM1286.7 678.2h10.2v9.6h-10.2zM1790.7 678.2h10.2v9.6h-10.2zM1701.8 687.5h10.2v9.6h-10.2zM1790.7 687.5h10.2v9.6h-10.2zM1543.6 696.8h10.2v9.6h-10.2zM1751.2 696.8h10.2v9.6h-10.2zM1840.1 696.8h10.2v9.6h-10.2z"/>
<path fill="#ff3383" d="M1691.9 166.9h10.2v9.6h-10.2zM1780.8 166.9h10.2v9.6h-10.2zM1642.5 185.5h10.2v9.6h-10.2zM1672.1 194.8h10.2v9.6h-10.2zM1721.5 194.8h10.2v9.6h-10.2zM1632.6 204.1h10.2v9.6h-10.2zM1731.4 204.1h10.2v9.6h-10.2zM1850.0 204.1h10.2v9.6h-10.2zM1701.8 222.7h10.2v9.6h-10.2zM1830.2 222.7h10.2v9.6h-10.2zM1741.3 232.0h10.2v9.6h-10.2zM1682.0 241.3h10.2v9.6h-10.2zM1731.4 241.3h10.2v9.6h-10.2zM1771.0 250.6h10.2v9.6h-10.2zM1662.2 259.9h10.2v9.6h-10.2zM1642.5 269.2h10.2v9.6h-10.2zM1830.2 269.2h10.2v9.6h-10.2zM1563.4 278.5h10.2v9.6h-10.2zM1632.6 297.0h10.2v9.6h-10.2zM1672.1 306.3h10.2v9.6h-10.2zM1711.7 306.3h10.2v9.6h-10.2zM1652.4 334.2h10.2v9.6h-10.2zM1682.0 343.5h10.2v9.6h-10.2zM1691.9 343.5h10.2v9.6h-10.2zM1701.8 352.8h10.2v9.6h-10.2zM1701.8 362.1h10.2v9.6h-10.2zM1672.1 371.4h10.2v9.6h-10.2zM1612.8 390.0h10.2v9.6h-10.2zM1820.4 399.3h10.2v9.6h-10.2zM1731.4 408.6h10.2v9.6h-10.2zM1682.0 427.2h10.2v9.6h-10.2zM1514.0 464.4h10.2v9.6h-10.2zM1543.6 473.7h10.2v9.6h-10.2zM1395.4 483.0h10.2v9.6h-10.2zM1474.5 483.0h10.2v9.6h-10.2zM1454.7 492.3h10.2v9.6h-10.2zM1355.9 510.9h10.2v9.6h-10.2zM1355.9 529.5h10.2v9.6h-10.2zM1474.5 557.4h10.2v9.6h-10.2zM1434.9 566.7h10.2v9.6h-10.2zM1494.2 594.5h10.2v9.6h-10.2zM1523.9 594.5h10.2v9.6h-10.2zM1346.0 603.8h10.2v9.6h-10.2zM1484.3 603.8h10.2v9.6h-10.2zM1523.9 603.8h10.2v9.6h-10.2zM1395.4 622.4h10.2v9.6h-10.2zM1395.4 631.7h10.2v9.6h-10.2zM1484.3 631.7h10.2v9.6h-10.2zM1514.0 631.7h10.2v9.6h-10.2zM1425.0 641.0h10.2v9.6h-10.2zM1464.6 641.0h10.2v9.6h-10.2zM1494.2 641.0h10.2v9.6h-10.2zM1504.1 650.3h10.2v9.6h-10.2zM1454.7 659.6h10.2v9.6h-10.2zM1494.2 659.6h10.2v9.6h-10.2zM1494.2 668.9h10.2v9.6h-10.2zM1533.8 696.8h10.2v9.6h-10.2z"/>
<path fill="#ff4733" d="M1701.8 166.9h10.2v9.6h-10.2zM1573.3 232.0h10.2v9.6h-10.2zM1612.8 241.3h10.2v9.6h-10.2zM1632.6 278.5h10.2v9.6h-10.2zM1682.0 278.5h10.2v9.6h-10.2zM1563.4 287.8h10.2v9.6h-10.2zM1612.8 306.3h10.2v9.6h-10.2zM1593.1 334.2h10.2v9.6h-10.2zM1326.2 362.1h10.2v9.6h-10.2zM1523.9 362.1h10.2v9.6h-10.2zM1612.8 399.3h10.2v9.6h-10.2zM1593.1 408.6h10.2v9.6h-10.2zM1652.4 417.9h10.2v9.6h-10.2zM1276.8 436.5h10.2v9.6h-10.2zM1276.8 455.1h10.2v9.6h-10.2zM1296.6 455.1h10.2v9.6h-10.2zM1306.4 483.0h10.2v9.6h-10.2zM1296.6 492.3h10.2v9.6h-10.2zM1326.2 501.6h10.2v9.6h-10.2zM1336.1 557.4h10.2v9.6h-10.2zM1632.6 575.9h10.2v9.6h-10.2zM1741.3 575.9h10.2v9.6h-10.2zM1316.3 603.8h10.2v9.6h-10.2zM1276.8 622.4h10.2v9.6h-10.2zM1336.1 650.3h10.2v9.6h-10.2zM1553.5 696.8h10.2v9.6h-10.2zM1612.8 706.1h10.2v9.6h-10.2z"/>
<path fill="#ff33ca" d="M1731.4 166.9h10.2v9.6h-10.2zM1731.4 185.5h10.2v9.6h-10.2zM1761.1 204.1h10.2v9.6h-10.2zM1721.5 250.6h10.2v9.6h-10.2zM1780.8 259.9h10.2v9.6h-10.2zM1721.5 287.8h10.2v9.6h-10.2zM1711.7 362.1h10.2v9.6h-10.2zM1830.2 371.4h10.2v9.6h-10.2zM1790.7 390.0h10.2v9.6h-10.2zM1405.3 445.8h10.2v9.6h-10.2zM1355.9 483.0h10.2v9.6h-10.2zM1494.2 520.2h10.2v9.6h-10.2zM1504.1 557.4h10.2v9.6h-10.2zM1533.8 575.9h10.2v9.6h-10.2zM1553.5 575.9h10.2v9.6h-10.2zM1533.8 585.2h10.2v9.6h-10.2zM1474.5 603.8h10.2v9.6h-10.2zM1533.8 622.4h10.2v9.6h-10.2zM1365.7 641.0h10.2v9.6h-10.2zM1434.9 641.0h10.2v9.6h-10.2zM1425.0 650.3h10.2v9.6h-10.2zM1444.8 650.3h10.2v9.6h-10.2zM1415.2 659.6h10.2v9.6h-10.2zM1375.6 687.5h10.2v9.6h-10.2z"/>
<path fill="#ff33c4" d="M1761.1 166.9h10.2v9.6h-10.2zM1771.0 166.9h10.2v9.6h-10.2zM1790.7 185.5h10.2v9.6h-10.2zM1751.2 194.8h10.2v9.6h-10.2zM1840.1 204.1h10.2v9.6h-10.2zM1820.4 213.4h10.2v9.6h-10.2zM1642.5 232.0h10.2v9.6h-10.2zM1850.0 232.0h10.2v9.6h-10.2zM1810.5 241.3h10.2v9.6h-10.2zM1780.8 250.6h10.2v9.6h-10.2zM1830.2 250.6h10.2v9.6h-10.2zM1771.0 278.5h10.2v9.6h-10.2zM1771.0 287.8h10.2v9.6h-10.2zM1820.4 287.8h10.2v9.6h-10.2zM1780.8 324.9h10.2v9.6h-10.2zM1810.5 324.9h10.2v9.6h-10.2zM1751.2 343.5h10.2v9.6h-10.2zM1830.2 343.5h10.2v9.6h-10.2zM1790.7 352.8h10.2v9.6h-10.2zM1810.5 352.8h10.2v9.6h-10.2zM1751.2 371.4h10.2v9.6h-10.2zM1810.5 399.3h10.2v9.6h-10.2zM1682.0 417.9h10.2v9.6h-10.2zM1810.5 427.2h10.2v9.6h-10.2zM1464.6 455.1h10.2v9.6h-10.2zM1494.2 455.1h10.2v9.6h-10.2zM1454.7 510.9h10.2v9.6h-10.2zM1533.8 510.9h10.2v9.6h-10.2zM1484.3 529.5h10.2v9.6h-10.2zM1543.6 548.1h10.2v9.6h-10.2zM1405.3 557.4h10.2v9.6h-10.2zM1494.2 557.4h10.2v9.6h-10.2zM1484.3 566.7h10.2v9.6h-10.2zM1523.9 566.7h10.2v9.6h-10.2zM1346.0 575.9h10.2v9.6h-10.2zM1385.5 585.2h10.2v9.6h-10.2zM1454.7 585.2h10.2v9.6h-10.2zM1494.2 585.2h10.2v9.6h-10.2zM1425.0 603.8h10.2v9.6h-10.2zM1504.1 613.1h10.2v9.6h-10.2zM1405.3 622.4h10.2v9.6h-10.2zM1474.5 622.4h10.2v9.6h-10.2zM1395.4 668.9h10.2v9.6h-10.2zM1444.8 678.2h10.2v9.6h-10.2z"/>
<path fill="#ff3396" d="M1850.0 166.9h10.2v9.6h-10.2zM1691.9 194.8h10.2v9.6h-10.2zM1800.6 194.8h10.2v9.6h-10.2zM1741.3 204.1h10.2v9.6h-10.2zM1711.7 222.7h10.2v9.6h-10.2zM1751.2 222.7h10.2v9.6h-10.2zM1840.1 222.7h10.2v9.6h-10.2zM1711.7 241.3h10.2v9.6h-10.2zM1761.1 259.9h10.2v9.6h-10.2zM1850.0 287.8h10.2v9.6h-10.2zM1691.9 297.0h10.2v9.6h-10.2zM1790.7 297.0h10.2v9.6h-10.2zM1840.1 297.0h10.2v9.6h-10.2zM1850.0 297.0h10.2v9.6h-10.2zM1800.6 306.3h10.2v9.6h-10.2zM1830.2 306.3h10.2v9.6h-10.2zM1662.2 315.6h10.2v9.6h-10.2zM1761.1 315.6h10.2v9.6h-10.2zM1721.5 343.5h10.2v9.6h-10.2zM1652.4 352.8h10.2v9.6h-10.2zM1800.6 362.1h10.2v9.6h-10.2zM1721.5 371.4h10.2v9.6h-10.2zM1790.7 371.4h10.2v9.6h-10.2zM1701.8 380.7h10.2v9.6h-10.2zM1790.7 380.7h10.2v9.6h-10.2zM1682.0 390.0h10.2v9.6h-10.2zM1761.1 390.0h10.2v9.6h-10.2zM1771.0 408.6h10.2v9.6h-10.2zM1790.7 408.6h10.2v9.6h-10.2zM1830.2 408.6h10.2v9.6h-10.2zM1780.8 417.9h10.2v9.6h-10.2zM1800.6 427.2h10.2v9.6h-10.2zM1355.9 445.8h10.2v9.6h-10.2zM1464.6 445.8h10.2v9.6h-10.2zM1474.5 445.8h10.2v9.6h-10.2zM1454.7 455.1h10.2v9.6h-10.2zM1434.9 464.4h10.2v9.6h-10.2zM1464.6 473.7h10.2v9.6h-10.2zM1434.9 483.0h10.2v9.6h-10.2zM1444.8 501.6h10.2v9.6h-10.2zM1375.6 510.9h10.2v9.6h-10.2zM1405.3 510.9h10.2v9.6h-10.2zM1454.7 520.2h10.2v9.6h-10.2zM1405.3 538.8h10.2v9.6h-10.2zM1523.9 548.1h10.2v9.6h-10.2zM1375.6 575.9h10.2v9.6h-10.2zM1494.2 575.9h10.2v9.6h-10.2zM1464.6 585.2h10.2v9.6h-10.2zM1395.4 641.0h10.2v9.6h-10.2zM1415.2 641.0h10.2v9.6h-10.2zM1484.3 641.0h10.2v9.6h-10.2zM1395.4 650.3h10.2v9.6h-10.2zM1395.4 659.6h10.2v9.6h-10.2zM1484.3 659.6h10.2v9.6h-10.2zM1504.1 678.2h10.2v9.6h-10.2zM1355.9 696.8h10.2v9.6h-10.2zM1385.5 696.8h10.2v9.6h-10.2zM1355.9 706.1h10.2v9.6h-10.2z"/>
<path fill="#ff8933" d="M1306.4 176.2h10.2v9.6h-10.2zM1543.6 176.2h10.2v9.6h-10.2zM1276.8 194.8h10.2v9.6h-10.2zM1266.9 241.3h10.2v9.6h-10.2zM1563.4 315.6h10.2v9.6h-10.2zM1415.2 399.3h10.2v9.6h-10.2zM1286.7 455.1h10.2v9.6h-10.2zM1286.7 501.6h10.2v9.6h-10.2zM1266.9 585.2h10.2v9.6h-10.2zM1286.7 641.0h10.2v9.6h-10.2zM1780.8 641.0h10.2v9.6h-10.2zM1286.7 650.3h10.2v9.6h-10.2zM1602.9 650.3h10.2v9.6h-10.2zM1731.4 650.3h10.2v9.6h-10.2zM1840.1 650.3h10.2v9.6h-10.2zM1721.5 659.6h10.2v9.6h-10.2zM1830.2 659.6h10.2v9.6h-10.2zM1632.6 668.9h10.2v9.6h-10.2zM1632.6 678.2h10.2v9.6h-10.2zM1682.0 678.2h10.2v9.6h-10.2zM1741.3 678.2h10.2v9.6h-10.2zM1761.1 678.2h10.2v9.6h-10.2zM1830.2 678.2h10.2v9.6h-10.2zM1266.9 687.5h10.2v9.6h-10.2zM1810.5 687.5h10.2v9.6h-10.2zM1563.4 696.8h10.2v9.6h-10.2zM1583.2 696.8h10.2v9.6h-10.2zM1593.1 696.8h10.2v9.6h-10.2zM1652.4 696.8h10.2v9.6h-10.2zM1672.1 696.8h10.2v9.6h-10.2zM1800.6 696.8h10.2v9.6h-10.2zM1830.2 696.8h10.2v9.6h-10.2zM1850.0 696.8h10.2v9.6h-10.2zM1632.6 706.1h10.2v9.6h-10.2zM1731.4 706.1h10.2v9.6h-10.2z"/>
<path fill="#fff333" d="M1355.9 176.2h10.2v9.6h-10.2zM1474.5 185.5h10.2v9.6h-10.2zM1375.6 232.0h10.2v9.6h-10.2zM1365.7 250.6h10.2v9.6h-10.2zM1395.4 278.5h10.2v9.6h-10.2zM1375.6 352.8h10.2v9.6h-10.2zM1405.3 408.6h10.2v9.6h-10.2zM1682.0 436.5h10.2v9.6h-10.2zM1731.4 436.5h10.2v9.6h-10.2zM1751.2 436.5h10.2v9.6h-10.2zM1840.1 436.5h10.2v9.6h-10.2zM1691.9 445.8h10.2v9.6h-10.2zM1741.3 445.8h10.2v9.6h-10.2zM1780.8 445.8h10.2v9.6h-10.2zM1672.1 473.7h10.2v9.6h-10.2zM1731.4 473.7h10.2v9.6h-10.2zM1850.0 473.7h10.2v9.6h-10.2zM1662.2 492.3h10.2v9.6h-10.2zM1761.1 492.3h10.2v9.6h-10.2zM1583.2 510.9h10.2v9.6h-10.2zM1602.9 510.9h10.2v9.6h-10.2zM1711.7 510.9h10.2v9.6h-10.2zM1800.6 529.5h10.2v9.6h-10.2zM1771.0 538.8h10.2v9.6h-10.2zM1583.2 548.1h10.2v9.6h-10.2zM1800.6 548.1h10.2v9.6h-10.2zM1840.1 548.1h10.2v9.6h-10.2zM1632.6 557.4h10.2v9.6h-10.2zM1672.1 557.4h10.2v9.6h-10.2zM1602.9 566.7h10.2v9.6h-10.2zM1642.5 566.7h10.2v9.6h-10.2zM1790.7 566.7h10.2v9.6h-10.2zM1563.4 575.9h10.2v9.6h-10.2zM1662.2 575.9h10.2v9.6h-10.2zM1761.1 575.9h10.2v9.6h-10.2zM1820.4 575.9h10.2v9.6h-10.2zM1612.8 585.2h10.2v9.6h-10.2zM1662.2 585.2h10.2v9.6h-10.2zM1672.1 594.5h10.2v9.6h-10.2zM1741.3 594.5h10.2v9.6h-10.2zM1751.2 594.5h10.2v9.6h-10.2zM1721.5 603.8h10.2v9.6h-10.2zM1711.7 613.1h10.2v9.6h-10.2zM1751.2 613.1h10.2v9.6h-10.2zM1602.9 631.7h10.2v9.6h-10.2z"/>
<path fill="#ff3364" d="M1583.2 176.2h10.2v9.6h-10.2zM1691.9 176.2h10.2v9.6h-10.2zM1612.8 194.8h10.2v9.6h-10.2zM1830.2 194.8h10.2v9.6h-10.2zM1563.4 204.1h10.2v9.6h-10.2zM1593.1 204.1h10.2v9.6h-10.2zM1612.8 204.1h10.2v9.6h-10.2zM1820.4 204.1h10.2v9.6h-10.2zM1642.5 213.4h10.2v9.6h-10.2zM1632.6 222.7h10.2v9.6h-10.2zM1721.5 222.7h10.2v9.6h-10.2zM1810.5 232.0h10.2v9.6h-10.2zM1642.5 241.3h10.2v9.6h-10.2zM1583.2 250.6h10.2v9.6h-10.2zM1632.6 250.6h10.2v9.6h-10.2zM1652.4 259.9h10.2v9.6h-10.2zM1583.2 278.5h10.2v9.6h-10.2zM1662.2 278.5h10.2v9.6h-10.2zM1751.2 278.5h10.2v9.6h-10.2zM1632.6 315.6h10.2v9.6h-10.2zM1820.4 324.9h10.2v9.6h-10.2zM1820.4 343.5h10.2v9.6h-10.2zM1593.1 352.8h10.2v9.6h-10.2zM1612.8 352.8h10.2v9.6h-10.2zM1741.3 362.1h10.2v9.6h-10.2zM1632.6 371.4h10.2v9.6h-10.2zM1691.9 390.0h10.2v9.6h-10.2zM1751.2 399.3h10.2v9.6h-10.2zM1850.0 408.6h10.2v9.6h-10.2zM1830.2 417.9h10.2v9.6h-10.2zM1583.2 427.2h10.2v9.6h-10.2zM1691.9 427.2h10.2v9.6h-10.2zM1790.7 427.2h10.2v9.6h-10.2zM1375.6 445.8h10.2v9.6h-10.2zM1425.0 445.8h10.2v9.6h-10.2zM1543.6 464.4h10.2v9.6h-10.2zM1365.7 473.7h10.2v9.6h-10.2zM1425.0 473.7h10.2v9.6h-10.2zM1355.9 501.6h10.2v9.6h-10.2zM1553.5 501.6h10.2v9.6h-10.2zM1415.2 510.9h10.2v9.6h-10.2zM1444.8 529.5h10.2v9.6h-10.2zM1553.5 557.4h10.2v9.6h-10.2zM1346.0 566.7h10.2v9.6h-10.2zM1474.5 585.2h10.2v9.6h-10.2zM1523.9 585.2h10.2v9.6h-10.2zM1365.7 603.8h10.2v9.6h-10.2zM1336.1 622.4h10.2v9.6h-10.2zM1385.5 631.7h10.2v9.6h-10.2zM1454.7 641.0h10.2v9.6h-10.2zM1553.5 659.6h10.2v9.6h-10.2zM1494.2 687.5h10.2v9.6h-10.2zM1543.6 687.5h10.2v9.6h-10.2zM1415.2 696.8h10.2v9.6h-10.2zM1454.7 696.8h10.2v9.6h-10.2zM1385.5 706.1h10.2v9.6h-10.2z"/>
<path fill="#ff3338" d="M1602.9 176.2h10.2v9.6h-10.2zM1375.6 194.8h10.2v9.6h-10.2zM1583.2 241.3h10.2v9.6h-10.2zM1731.4 250.6h10.2v9.6h-10.2zM1583.2 259.9h10.2v9.6h-10.2zM1622.7 278.5h10.2v9.6h-10.2zM1612.8 297.0h10.2v9.6h-10.2zM1583.2 315.6h10.2v9.6h-10.2zM1385.5 334.2h10.2v9.6h-10.2zM1632.6 334.2h10.2v9.6h-10.2zM1602.9 343.5h10.2v9.6h-10.2zM1662.2 343.5h10.2v9.6h-10.2zM1573.3 371.4h10.2v9.6h-10.2zM1672.1 417.9h10.2v9.6h-10.2zM1652.4 427.2h10.2v9.6h-10.2zM1533.8 464.4h10.2v9.6h-10.2zM1306.4 473.7h10.2v9.6h-10.2zM1336.1 492.3h10.2v9.6h-10.2zM1306.4 510.9h10.2v9.6h-10.2zM1296.6 529.5h10.2v9.6h-10.2zM1306.4 557.4h10.2v9.6h-10.2zM1326.2 557.4h10.2v9.6h-10.2zM1385.5 575.9h10.2v9.6h-10.2zM1336.1 603.8h10.2v9.6h-10.2zM1306.4 613.1h10.2v9.6h-10.2zM1434.9 622.4h10.2v9.6h-10.2zM1316.3 631.7h10.2v9.6h-10.2zM1355.9 650.3h10.2v9.6h-10.2zM1306.4 659.6h10.2v9.6h-10.2zM1415.2 678.2h10.2v9.6h-10.2zM1434.9 678.2h10.2v9.6h-10.2zM1276.8 687.5h10.2v9.6h-10.2zM1514.0 687.5h10.2v9.6h-10.2zM1523.9 687.5h10.2v9.6h-10.2zM1306.4 696.8h10.2v9.6h-10.2zM1296.6 706.1h10.2v9.6h-10.2zM1474.5 706.1h10.2v9.6h-10.2zM1494.2 706.1h10.2v9.6h-10.2zM1543.6 706.1h10.2v9.6h-10.2z"/>
<path fill="#ff33e5" d="M1711.7 176.2h10.2v9.6h-10.2zM1761.1 194.8h10.2v9.6h-10.2zM1682.0 287.8h10.2v9.6h-10.2zM1780.8 306.3h10.2v9.6h-10.2zM1810.5 343.5h10.2v9.6h-10.2zM1761.1 352.8h10.2v9.6h-10.2zM1820.4 352.8h10.2v9.6h-10.2zM1731.4 390.0h10.2v9.6h-10.2zM1711.7 399.3h10.2v9.6h-10.2zM1741.3 408.6h10.2v9.6h-10.2zM1474.5 455.1h10.2v9.6h-10.2zM1523.9 483.0h10.2v9.6h-10.2zM1375.6 548.1h10.2v9.6h-10.2zM1464.6 557.4h10.2v9.6h-10.2zM1543.6 557.4h10.2v9.6h-10.2zM1523.9 659.6h10.2v9.6h-10.2z"/>
<path fill="#ff33d8" d="M1741.3 176.2h10.2v9.6h-10.2zM1761.1 176.2h10.2v9.6h-10.2zM1850.0 176.2h10.2v9.6h-10.2zM1771.0 204.1h10.2v9.6h-10.2zM1810.5 278.5h10.2v9.6h-10.2zM1830.2 278.5h10.2v9.6h-10.2zM1790.7 287.8h10.2v9.6h-10.2zM1780.8 362.1h10.2v9.6h-10.2zM1840.1 408.6h10.2v9.6h-10.2zM1642.5 417.9h10.2v9.6h-10.2zM1761.1 417.9h10.2v9.6h-10.2zM1761.1 427.2h10.2v9.6h-10.2zM1474.5 575.9h10.2v9.6h-10.2zM1444.8 594.5h10.2v9.6h-10.2zM1425.0 631.7h10.2v9.6h-10.2zM1405.3 650.3h10.2v9.6h-10.2zM1533.8 650.3h10.2v9.6h-10.2z"/>
<path fill="#bf40ff" d="M1800.6 176.2h10.2v9.6h-10.2zM1820.4 278.5h10.2v9.6h-10.2zM1593.1 380.7h10.2v9.6h-10.2zM1731.4 417.9h10.2v9.6h-10.2z"/>
<path fill="#ff3347" d="M1840.1 176.2h10.2v9.6h-10.2zM1602.9 185.5h10.2v9.6h-10.2zM1573.3 194.8h10.2v9.6h-10.2zM1751.2 204.1h10.2v9.6h-10.2zM1593.1 213.4h10.2v9.6h-10.2zM1602.9 232.0h10.2v9.6h-10.2zM1563.4 241.3h10.2v9.6h-10.2zM1573.3 269.2h10.2v9.6h-10.2zM1622.7 306.3h10.2v9.6h-10.2zM1602.9 324.9h10.2v9.6h-10.2zM1612.8 334.2h10.2v9.6h-10.2zM1296.6 343.5h10.2v9.6h-10.2zM1573.3 343.5h10.2v9.6h-10.2zM1701.8 343.5h10.2v9.6h-10.2zM1583.2 371.4h10.2v9.6h-10.2zM1612.8 371.4h10.2v9.6h-10.2zM1266.9 427.2h10.2v9.6h-10.2zM1375.6 436.5h10.2v9.6h-10.2zM1316.3 473.7h10.2v9.6h-10.2zM1336.1 483.0h10.2v9.6h-10.2zM1316.3 510.9h10.2v9.6h-10.2zM1336.1 520.2h10.2v9.6h-10.2zM1326.2 529.5h10.2v9.6h-10.2zM1306.4 548.1h10.2v9.6h-10.2zM1504.1 548.1h10.2v9.6h-10.2zM1316.3 575.9h10.2v9.6h-10.2zM1365.7 575.9h10.2v9.6h-10.2zM1336.1 585.2h10.2v9.6h-10.2zM1306.4 594.5h10.2v9.6h-10.2zM1504.1 594.5h10.2v9.6h-10.2zM1326.2 613.1h10.2v9.6h-10.2zM1306.4 622.4h10.2v9.6h-10.2zM1415.2 622.4h10.2v9.6h-10.2zM1494.2 631.7h10.2v9.6h-10.2zM1514.0 641.0h10.2v9.6h-10.2zM1336.1 678.2h10.2v9.6h-10.2zM1454.7 678.2h10.2v9.6h-10.2zM1464.6 678.2h10.2v9.6h-10.2zM1326.2 687.5h10.2v9.6h-10.2zM1395.4 687.5h10.2v9.6h-10.2zM1464.6 687.5h10.2v9.6h-10.2zM1346.0 696.8h10.2v9.6h-10.2zM1395.4 706.1h10.2v9.6h-10.2zM1415.2 706.1h10.2v9.6h-10.2zM1434.9 706.1h10.2v9.6h-10.2zM1514.0 706.1h10.2v9.6h-10.2z"/>
<path fill="#ff8e33" d="M1286.7 185.5h10.2v9.6h-10.2zM1266.9 222.7h10.2v9.6h-10.2zM1276.8 241.3h10.2v9.6h-10.2zM1415.2 278.5h10.2v9.6h-10.2zM1395.4 306.3h10.2v9.6h-10.2zM1286.7 315.6h10.2v9.6h-10.2zM1266.9 334.2h10.2v9.6h-10.2zM1336.1 334.2h10.2v9.6h-10.2zM1276.8 352.8h10.2v9.6h-10.2zM1286.7 362.1h10.2v9.6h-10.2zM1296.6 371.4h10.2v9.6h-10.2zM1306.4 417.9h10.2v9.6h-10.2zM1415.2 427.2h10.2v9.6h-10.2zM1266.9 529.5h10.2v9.6h-10.2zM1286.7 538.8h10.2v9.6h-10.2zM1286.7 557.4h10.2v9.6h-10.2zM1286.7 566.7h10.2v9.6h-10.2zM1573.3 641.0h10.2v9.6h-10.2zM1711.7 641.0h10.2v9.6h-10.2zM1751.2 641.0h10.2v9.6h-10.2zM1771.0 641.0h10.2v9.6h-10.2zM1820.4 650.3h10.2v9.6h-10.2zM1731.4 659.6h10.2v9.6h-10.2zM1810.5 678.2h10.2v9.6h-10.2zM1780.8 687.5h10.2v9.6h-10.2zM1820.4 687.5h10.2v9.6h-10.2zM1612.8 696.8h10.2v9.6h-10.2zM1682.0 696.8h10.2v9.6h-10.2zM1682.0 706.1h10.2v9.6h-10.2zM1800.6 706.1h10.2v9.6h-10.2z"/>
<path fill="#8833ff" d="M1563.4 185.5h10.2v9.6h-10.2zM1474.5 501.6h10.2v9.6h-10.2zM1444.8 696.8h10.2v9.6h-10.2z"/>
<path fill="#ff6a33" d="M1583.2 185.5h10.2v9.6h-10.2zM1662.2 194.8h10.2v9.6h-10.2zM1276.8 334.2h10.2v9.6h-10.2zM1266.9 408.6h10.2v9.6h-10.2zM1593.1 417.9h10.2v9.6h-10.2zM1326.2 436.5h10.2v9.6h-10.2zM1800.6 455.1h10.2v9.6h-10.2zM1326.2 548.1h10.2v9.6h-10.2zM1276.8 575.9h10.2v9.6h-10.2zM1286.7 585.2h10.2v9.6h-10.2zM1652.4 613.1h10.2v9.6h-10.2zM1721.5 622.4h10.2v9.6h-10.2zM1642.5 687.5h10.2v9.6h-10.2zM1711.7 687.5h10.2v9.6h-10.2zM1573.3 696.8h10.2v9.6h-10.2zM1425.0 706.1h10.2v9.6h-10.2zM1850.0 706.1h10.2v9.6h-10.2z"/>
<path fill="#a637ff" d="M1622.7 185.5h10.2v9.6h-10.2zM1771.0 269.2h10.2v9.6h-10.2zM1751.2 287.8h10.2v9.6h-10.2zM1682.0 306.3h10.2v9.6h-10.2zM1741.3 380.7h10.2v9.6h-10.2zM1514.0 436.5h10.2v9.6h-10.2zM1346.0 445.8h10.2v9.6h-10.2zM1346.0 529.5h10.2v9.6h-10.2zM1266.9 575.9h10.2v9.6h-10.2z"/>
<path fill="#9533ff" d="M1711.7 185.5h10.2v9.6h-10.2zM1761.1 185.5h10.2v9.6h-10.2zM1850.0 352.8h10.2v9.6h-10.2zM1464.6 548.1h10.2v9.6h-10.2zM1444.8 585.2h10.2v9.6h-10.2zM1365.7 594.5h10.2v9.6h-10.2zM1504.1 641.0h10.2v9.6h-10.2zM1346.0 659.6h10.2v9.6h-10.2zM1405.3 678.2h10.2v9.6h-10.2z"/>
<path fill="#ff33d1" d="M1840.1 185.5h10.2v9.6h-10.2zM1780.8 241.3h10.2v9.6h-10.2zM1810.5 269.2h10.2v9.6h-10.2zM1840.1 278.5h10.2v9.6h-10.2zM1731.4 362.1h10.2v9.6h-10.2zM1771.0 371.4h10.2v9.6h-10.2zM1830.2 399.3h10.2v9.6h-10.2zM1840.1 417.9h10.2v9.6h-10.2zM1771.0 427.2h10.2v9.6h-10.2zM1523.9 501.6h10.2v9.6h-10.2zM1464.6 510.9h10.2v9.6h-10.2zM1533.8 529.5h10.2v9.6h-10.2zM1365.7 538.8h10.2v9.6h-10.2zM1415.2 538.8h10.2v9.6h-10.2zM1514.0 575.9h10.2v9.6h-10.2zM1434.9 585.2h10.2v9.6h-10.2zM1454.7 631.7h10.2v9.6h-10.2zM1504.1 631.7h10.2v9.6h-10.2zM1346.0 668.9h10.2v9.6h-10.2z"/>
<path fill="#ff9333" d="M1355.9 194.8h10.2v9.6h-10.2zM1276.8 204.1h10.2v9.6h-10.2zM1296.6 241.3h10.2v9.6h-10.2zM1266.9 250.6h10.2v9.6h-10.2zM1296.6 250.6h10.2v9.6h-10.2zM1306.4 269.2h10.2v9.6h-10.2zM1266.9 287.8h10.2v9.6h-10.2zM1266.9 306.3h10.2v9.6h-10.2zM1444.8 324.9h10.2v9.6h-10.2zM1286.7 334.2h10.2v9.6h-10.2zM1474.5 334.2h10.2v9.6h-10.2zM1543.6 334.2h10.2v9.6h-10.2zM1286.7 371.4h10.2v9.6h-10.2zM1316.3 390.0h10.2v9.6h-10.2zM1474.5 408.6h10.2v9.6h-10.2zM1484.3 417.9h10.2v9.6h-10.2zM1286.7 483.0h10.2v9.6h-10.2zM1563.4 483.0h10.2v9.6h-10.2zM1286.7 510.9h10.2v9.6h-10.2zM1800.6 603.8h10.2v9.6h-10.2zM1266.9 631.7h10.2v9.6h-10.2zM1622.7 641.0h10.2v9.6h-10.2zM1731.4 641.0h10.2v9.6h-10.2zM1741.3 641.0h10.2v9.6h-10.2zM1563.4 650.3h10.2v9.6h-10.2zM1701.8 650.3h10.2v9.6h-10.2zM1761.1 650.3h10.2v9.6h-10.2zM1286.7 659.6h10.2v9.6h-10.2zM1840.1 659.6h10.2v9.6h-10.2zM1563.4 668.9h10.2v9.6h-10.2zM1573.3 668.9h10.2v9.6h-10.2zM1573.3 678.2h10.2v9.6h-10.2zM1583.2 678.2h10.2v9.6h-10.2zM1622.7 678.2h10.2v9.6h-10.2zM1622.7 687.5h10.2v9.6h-10.2zM1642.5 696.8h10.2v9.6h-10.2zM1741.3 706.1h10.2v9.6h-10.2zM1830.2 706.1h10.2v9.6h-10.2z"/>
<path fill="#cc44ff" d="M1583.2 194.8h10.2v9.6h-10.2zM1850.0 213.4h10.2v9.6h-10.2zM1385.5 445.8h10.2v9.6h-10.2zM1346.0 520.2h10.2v9.6h-10.2zM1504.1 538.8h10.2v9.6h-10.2zM1533.8 548.1h10.2v9.6h-10.2zM1553.5 603.8h10.2v9.6h-10.2z"/>
<path fill="#ff33de" d="M1780.8 194.8h10.2v9.6h-10.2zM1820.4 222.7h10.2v9.6h-10.2zM1721.5 259.9h10.2v9.6h-10.2zM1751.2 269.2h10.2v9.6h-10.2zM1800.6 417.9h10.2v9.6h-10.2zM1415.2 473.7h10.2v9.6h-10.2zM1454.7 538.8h10.2v9.6h-10.2zM1375.6 594.5h10.2v9.6h-10.2zM1543.6 622.4h10.2v9.6h-10.2z"/>
<path fill="#ee39ff" d="M1840.1 194.8h10.2v9.6h-10.2zM1711.7 324.9h10.2v9.6h-10.2zM1751.2 324.9h10.2v9.6h-10.2zM1751.2 362.1h10.2v9.6h-10.2zM1632.6 380.7h10.2v9.6h-10.2zM1405.3 464.4h10.2v9.6h-10.2zM1395.4 492.3h10.2v9.6h-10.2zM1375.6 585.2h10.2v9.6h-10.2zM1543.6 594.5h10.2v9.6h-10.2zM1434.9 613.1h10.2v9.6h-10.2zM1316.3 668.9h10.2v9.6h-10.2zM1375.6 668.9h10.2v9.6h-10.2zM1346.0 678.2h10.2v9.6h-10.2zM1504.1 706.1h10.2v9.6h-10.2z"/>
<path fill="#ff3a33" d="M1266.9 204.1h10.2v9.6h-10.2zM1573.3 204.1h10.2v9.6h-10.2zM1602.9 222.7h10.2v9.6h-10.2zM1612.8 232.0h10.2v9.6h-10.2zM1484.3 250.6h10.2v9.6h-10.2zM1573.3 250.6h10.2v9.6h-10.2zM1296.6 259.9h10.2v9.6h-10.2zM1612.8 259.9h10.2v9.6h-10.2zM1701.8 259.9h10.2v9.6h-10.2zM1622.7 334.2h10.2v9.6h-10.2zM1563.4 352.8h10.2v9.6h-10.2zM1553.5 380.7h10.2v9.6h-10.2zM1602.9 380.7h10.2v9.6h-10.2zM1316.3 399.3h10.2v9.6h-10.2zM1850.0 417.9h10.2v9.6h-10.2zM1326.2 492.3h10.2v9.6h-10.2zM1296.6 548.1h10.2v9.6h-10.2zM1336.1 548.1h10.2v9.6h-10.2zM1326.2 575.9h10.2v9.6h-10.2zM1751.2 575.9h10.2v9.6h-10.2zM1741.3 585.2h10.2v9.6h-10.2zM1316.3 594.5h10.2v9.6h-10.2zM1296.6 603.8h10.2v9.6h-10.2zM1494.2 622.4h10.2v9.6h-10.2zM1612.8 631.7h10.2v9.6h-10.2zM1306.4 678.2h10.2v9.6h-10.2zM1405.3 687.5h10.2v9.6h-10.2zM1464.6 696.8h10.2v9.6h-10.2zM1326.2 706.1h10.2v9.6h-10.2zM1375.6 706.1h10.2v9.6h-10.2zM1563.4 706.1h10.2v9.6h-10.2z"/>
<path fill="#ff33eb" d="M1790.7 204.1h10.2v9.6h-10.2zM1800.6 232.0h10.2v9.6h-10.2zM1790.7 278.5h10.2v9.6h-10.2zM1830.2 324.9h10.2v9.6h-10.2zM1642.5 362.1h10.2v9.6h-10.2zM1385.5 436.5h10.2v9.6h-10.2zM1553.5 631.7h10.2v9.6h-10.2zM1425.0 668.9h10.2v9.6h-10.2zM1444.8 668.9h10.2v9.6h-10.2z"/>
<path fill="#ff7a33" d="M1266.9 213.4h10.2v9.6h-10.2zM1593.1 222.7h10.2v9.6h-10.2zM1642.5 278.5h10.2v9.6h-10.2zM1286.7 427.2h10.2v9.6h-10.2zM1286.7 436.5h10.2v9.6h-10.2zM1286.7 473.7h10.2v9.6h-10.2zM1840.1 492.3h10.2v9.6h-10.2zM1563.4 631.7h10.2v9.6h-10.2zM1711.7 650.3h10.2v9.6h-10.2zM1780.8 650.3h10.2v9.6h-10.2zM1563.4 687.5h10.2v9.6h-10.2zM1583.2 687.5h10.2v9.6h-10.2zM1593.1 687.5h10.2v9.6h-10.2zM1612.8 687.5h10.2v9.6h-10.2zM1721.5 696.8h10.2v9.6h-10.2zM1642.5 706.1h10.2v9.6h-10.2zM1711.7 706.1h10.2v9.6h-10.2zM1761.1 706.1h10.2v9.6h-10.2zM1780.8 706.1h10.2v9.6h-10.2z"/>
<path fill="#ff8433" d="M1286.7 213.4h10.2v9.6h-10.2zM1266.9 232.0h10.2v9.6h-10.2zM1316.3 250.6h10.2v9.6h-10.2zM1266.9 269.2h10.2v9.6h-10.2zM1266.9 362.1h10.2v9.6h-10.2zM1276.8 380.7h10.2v9.6h-10.2zM1286.7 464.4h10.2v9.6h-10.2zM1286.7 520.2h10.2v9.6h-10.2zM1286.7 594.5h10.2v9.6h-10.2zM1286.7 613.1h10.2v9.6h-10.2zM1286.7 631.7h10.2v9.6h-10.2zM1563.4 641.0h10.2v9.6h-10.2zM1830.2 641.0h10.2v9.6h-10.2zM1721.5 650.3h10.2v9.6h-10.2zM1800.6 650.3h10.2v9.6h-10.2zM1573.3 659.6h10.2v9.6h-10.2zM1652.4 659.6h10.2v9.6h-10.2zM1701.8 668.9h10.2v9.6h-10.2zM1800.6 678.2h10.2v9.6h-10.2zM1573.3 687.5h10.2v9.6h-10.2zM1652.4 687.5h10.2v9.6h-10.2zM1731.4 687.5h10.2v9.6h-10.2zM1800.6 687.5h10.2v9.6h-10.2zM1622.7 696.8h10.2v9.6h-10.2zM1761.1 696.8h10.2v9.6h-10.2zM1286.7 706.1h10.2v9.6h-10.2zM1622.7 706.1h10.2v9.6h-10.2zM1701.8 706.1h10.2v9.6h-10.2zM1820.4 706.1h10.2v9.6h-10.2zM1840.1 706.1h10.2v9.6h-10.2z"/>
<path fill="#ff5533" d="M1415.2 213.4h10.2v9.6h-10.2zM1326.2 250.6h10.2v9.6h-10.2zM1583.2 287.8h10.2v9.6h-10.2zM1593.1 390.0h10.2v9.6h-10.2zM1563.4 408.6h10.2v9.6h-10.2zM1276.8 445.8h10.2v9.6h-10.2zM1306.4 445.8h10.2v9.6h-10.2zM1326.2 445.8h10.2v9.6h-10.2zM1326.2 473.7h10.2v9.6h-10.2zM1326.2 483.0h10.2v9.6h-10.2zM1296.6 510.9h10.2v9.6h-10.2zM1276.8 557.4h10.2v9.6h-10.2zM1276.8 566.7h10.2v9.6h-10.2zM1682.0 566.7h10.2v9.6h-10.2zM1306.4 641.0h10.2v9.6h-10.2zM1296.6 687.5h10.2v9.6h-10.2zM1504.1 687.5h10.2v9.6h-10.2zM1790.7 696.8h10.2v9.6h-10.2zM1444.8 706.1h10.2v9.6h-10.2z"/>
<path fill="#9033ff" d="M1583.2 213.4h10.2v9.6h-10.2zM1701.8 269.2h10.2v9.6h-10.2zM1672.1 352.8h10.2v9.6h-10.2zM1346.0 436.5h10.2v9.6h-10.2zM1454.7 445.8h10.2v9.6h-10.2zM1385.5 464.4h10.2v9.6h-10.2zM1316.3 483.0h10.2v9.6h-10.2zM1375.6 492.3h10.2v9.6h-10.2zM1346.0 538.8h10.2v9.6h-10.2zM1553.5 613.1h10.2v9.6h-10.2zM1385.5 659.6h10.2v9.6h-10.2zM1365.7 696.8h10.2v9.6h-10.2z"/>
<path fill="#ff7f33" d="M1276.8 222.7h10.2v9.6h-10.2zM1266.9 371.4h10.2v9.6h-10.2zM1286.7 548.1h10.2v9.6h-10.2zM1286.7 622.4h10.2v9.6h-10.2zM1622.7 650.3h10.2v9.6h-10.2zM1850.0 650.3h10.2v9.6h-10.2zM1286.7 668.9h10.2v9.6h-10.2zM1741.3 668.9h10.2v9.6h-10.2zM1602.9 687.5h10.2v9.6h-10.2zM1751.2 687.5h10.2v9.6h-10.2zM1662.2 696.8h10.2v9.6h-10.2zM1691.9 696.8h10.2v9.6h-10.2zM1662.2 706.1h10.2v9.6h-10.2zM1721.5 706.1h10.2v9.6h-10.2z"/>
<path fill="#ff33f2" d="M1741.3 222.7h10.2v9.6h-10.2zM1672.1 232.0h10.2v9.6h-10.2zM1602.9 250.6h10.2v9.6h-10.2zM1810.5 287.8h10.2v9.6h-10.2zM1662.2 297.0h10.2v9.6h-10.2zM1751.2 297.0h10.2v9.6h-10.2zM1761.1 306.3h10.2v9.6h-10.2zM1691.9 315.6h10.2v9.6h-10.2zM1741.3 315.6h10.2v9.6h-10.2zM1731.4 343.5h10.2v9.6h-10.2zM1810.5 362.1h10.2v9.6h-10.2zM1850.0 371.4h10.2v9.6h-10.2zM1780.8 380.7h10.2v9.6h-10.2zM1741.3 399.3h10.2v9.6h-10.2zM1840.1 399.3h10.2v9.6h-10.2zM1385.5 668.9h10.2v9.6h-10.2z"/>
<path fill="#dd3eff" d="M1691.9 241.3h10.2v9.6h-10.2zM1820.4 306.3h10.2v9.6h-10.2zM1573.3 324.9h10.2v9.6h-10.2zM1790.7 324.9h10.2v9.6h-10.2zM1434.9 473.7h10.2v9.6h-10.2zM1375.6 501.6h10.2v9.6h-10.2zM1326.2 538.8h10.2v9.6h-10.2zM1514.0 650.3h10.2v9.6h-10.2zM1395.4 696.8h10.2v9.6h-10.2z"/>
<path fill="#ff33ff" d="M1820.4 241.3h10.2v9.6h-10.2zM1830.2 241.3h10.2v9.6h-10.2zM1602.9 352.8h10.2v9.6h-10.2zM1771.0 352.8h10.2v9.6h-10.2zM1652.4 362.1h10.2v9.6h-10.2zM1840.1 371.4h10.2v9.6h-10.2zM1365.7 455.1h10.2v9.6h-10.2zM1464.6 483.0h10.2v9.6h-10.2zM1514.0 548.1h10.2v9.6h-10.2zM1415.2 613.1h10.2v9.6h-10.2zM1444.8 659.6h10.2v9.6h-10.2zM1375.6 678.2h10.2v9.6h-10.2z"/>
<path fill="#8333ff" d="M1850.0 241.3h10.2v9.6h-10.2zM1840.1 427.2h10.2v9.6h-10.2zM1434.9 501.6h10.2v9.6h-10.2zM1494.2 696.8h10.2v9.6h-10.2z"/>
<path fill="#ff335f" d="M1642.5 250.6h10.2v9.6h-10.2zM1662.2 250.6h10.2v9.6h-10.2zM1573.3 259.9h10.2v9.6h-10.2zM1810.5 259.9h10.2v9.6h-10.2zM1652.4 278.5h10.2v9.6h-10.2zM1701.8 278.5h10.2v9.6h-10.2zM1602.9 287.8h10.2v9.6h-10.2zM1573.3 297.0h10.2v9.6h-10.2zM1771.0 306.3h10.2v9.6h-10.2zM1593.1 315.6h10.2v9.6h-10.2zM1583.2 324.9h10.2v9.6h-10.2zM1593.1 324.9h10.2v9.6h-10.2zM1761.1 324.9h10.2v9.6h-10.2zM1790.7 334.2h10.2v9.6h-10.2zM1632.6 352.8h10.2v9.6h-10.2zM1830.2 352.8h10.2v9.6h-10.2zM1662.2 362.1h10.2v9.6h-10.2zM1701.8 371.4h10.2v9.6h-10.2zM1682.0 380.7h10.2v9.6h-10.2zM1731.4 380.7h10.2v9.6h-10.2zM1652.4 390.0h10.2v9.6h-10.2zM1800.6 390.0h10.2v9.6h-10.2zM1602.9 408.6h10.2v9.6h-10.2zM1701.8 408.6h10.2v9.6h-10.2zM1790.7 417.9h10.2v9.6h-10.2zM1395.4 436.5h10.2v9.6h-10.2zM1395.4 445.8h10.2v9.6h-10.2zM1533.8 445.8h10.2v9.6h-10.2zM1306.4 455.1h10.2v9.6h-10.2zM1395.4 455.1h10.2v9.6h-10.2zM1415.2 483.0h10.2v9.6h-10.2zM1514.0 483.0h10.2v9.6h-10.2zM1484.3 492.3h10.2v9.6h-10.2zM1454.7 501.6h10.2v9.6h-10.2zM1504.1 510.9h10.2v9.6h-10.2zM1523.9 529.5h10.2v9.6h-10.2zM1395.4 538.8h10.2v9.6h-10.2zM1434.9 594.5h10.2v9.6h-10.2zM1533.8 594.5h10.2v9.6h-10.2zM1355.9 613.1h10.2v9.6h-10.2zM1434.9 631.7h10.2v9.6h-10.2zM1484.3 650.3h10.2v9.6h-10.2zM1434.9 668.9h10.2v9.6h-10.2zM1326.2 678.2h10.2v9.6h-10.2zM1474.5 687.5h10.2v9.6h-10.2zM1405.3 706.1h10.2v9.6h-10.2z"/>
<path fill="#9933ff" d="M1711.7 250.6h10.2v9.6h-10.2zM1504.1 492.3h10.2v9.6h-10.2zM1355.9 557.4h10.2v9.6h-10.2zM1434.9 575.9h10.2v9.6h-10.2zM1296.6 594.5h10.2v9.6h-10.2zM1444.8 603.8h10.2v9.6h-10.2zM1266.9 668.9h10.2v9.6h-10.2z"/>
<path fill="#ff33f8" d="M1761.1 250.6h10.2v9.6h-10.2zM1741.3 269.2h10.2v9.6h-10.2zM1780.8 297.0h10.2v9.6h-10.2zM1721.5 324.9h10.2v9.6h-10.2zM1632.6 343.5h10.2v9.6h-10.2zM1652.4 408.6h10.2v9.6h-10.2zM1494.2 473.7h10.2v9.6h-10.2zM1514.0 538.8h10.2v9.6h-10.2zM1355.9 603.8h10.2v9.6h-10.2z"/>
<path fill="#fff933" d="M1385.5 259.9h10.2v9.6h-10.2zM1533.8 324.9h10.2v9.6h-10.2zM1484.3 334.2h10.2v9.6h-10.2zM1454.7 352.8h10.2v9.6h-10.2zM1523.9 390.0h10.2v9.6h-10.2zM1365.7 417.9h10.2v9.6h-10.2zM1652.4 436.5h10.2v9.6h-10.2zM1691.9 436.5h10.2v9.6h-10.2zM1721.5 445.8h10.2v9.6h-10.2zM1761.1 455.1h10.2v9.6h-10.2zM1701.8 483.0h10.2v9.6h-10.2zM1820.4 483.0h10.2v9.6h-10.2zM1632.6 492.3h10.2v9.6h-10.2zM1672.1 492.3h10.2v9.6h-10.2zM1642.5 557.4h10.2v9.6h-10.2zM1721.5 557.4h10.2v9.6h-10.2zM1612.8 575.9h10.2v9.6h-10.2zM1771.0 575.9h10.2v9.6h-10.2zM1850.0 585.2h10.2v9.6h-10.2zM1840.1 603.8h10.2v9.6h-10.2zM1751.2 622.4h10.2v9.6h-10.2zM1761.1 631.7h10.2v9.6h-10.2zM1850.0 631.7h10.2v9.6h-10.2z"/>
<path fill="#ff4133" d="M1464.6 259.9h10.2v9.6h-10.2zM1622.7 269.2h10.2v9.6h-10.2zM1593.1 287.8h10.2v9.6h-10.2zM1563.4 297.0h10.2v9.6h-10.2zM1563.4 306.3h10.2v9.6h-10.2zM1434.9 380.7h10.2v9.6h-10.2zM1276.8 408.6h10.2v9.6h-10.2zM1682.0 408.6h10.2v9.6h-10.2zM1336.1 445.8h10.2v9.6h-10.2zM1316.3 464.4h10.2v9.6h-10.2zM1395.4 473.7h10.2v9.6h-10.2zM1306.4 492.3h10.2v9.6h-10.2zM1336.1 501.6h10.2v9.6h-10.2zM1276.8 529.5h10.2v9.6h-10.2zM1316.3 538.8h10.2v9.6h-10.2zM1336.1 538.8h10.2v9.6h-10.2zM1296.6 557.4h10.2v9.6h-10.2zM1652.4 585.2h10.2v9.6h-10.2zM1593.1 631.7h10.2v9.6h-10.2zM1296.6 668.9h10.2v9.6h-10.2zM1385.5 678.2h10.2v9.6h-10.2zM1385.5 687.5h10.2v9.6h-10.2zM1326.2 696.8h10.2v9.6h-10.2zM1504.1 696.8h10.2v9.6h-10.2zM1276.8 706.1h10.2v9.6h-10.2zM1553.5 706.1h10.2v9.6h-10.2z"/>
<path fill="#ff6533" d="M1593.1 259.9h10.2v9.6h-10.2zM1276.8 464.4h10.2v9.6h-10.2zM1276.8 473.7h10.2v9.6h-10.2zM1296.6 473.7h10.2v9.6h-10.2zM1336.1 529.5h10.2v9.6h-10.2zM1316.3 548.1h10.2v9.6h-10.2zM1286.7 603.8h10.2v9.6h-10.2zM1672.1 603.8h10.2v9.6h-10.2zM1721.5 678.2h10.2v9.6h-10.2zM1415.2 687.5h10.2v9.6h-10.2zM1523.9 696.8h10.2v9.6h-10.2zM1593.1 706.1h10.2v9.6h-10.2z"/>
<path fill="#5833ff" d="M1731.4 259.9h10.2v9.6h-10.2z"/>
<path fill="#8c33ff" d="M1780.8 278.5h10.2v9.6h-10.2zM1830.2 287.8h10.2v9.6h-10.2zM1593.1 297.0h10.2v9.6h-10.2zM1593.1 371.4h10.2v9.6h-10.2zM1632.6 408.6h10.2v9.6h-10.2zM1771.0 417.9h10.2v9.6h-10.2zM1355.9 436.5h10.2v9.6h-10.2zM1474.5 473.7h10.2v9.6h-10.2zM1276.8 520.2h10.2v9.6h-10.2zM1474.5 520.2h10.2v9.6h-10.2zM1355.9 548.1h10.2v9.6h-10.2zM1346.0 622.4h10.2v9.6h-10.2z"/>
<path fill="#5c33ff" d="M1731.4 297.0h10.2v9.6h-10.2z"/>
<path fill="#4533ff" d="M1820.4 297.0h10.2v9.6h-10.2zM1810.5 417.9h10.2v9.6h-10.2z"/>
<path fill="#ff6033" d="M1573.3 352.8h10.2v9.6h-10.2zM1306.4 538.8h10.2v9.6h-10.2zM1316.3 557.4h10.2v9.6h-10.2zM1731.4 575.9h10.2v9.6h-10.2zM1602.9 622.4h10.2v9.6h-10.2zM1691.9 650.3h10.2v9.6h-10.2zM1563.4 678.2h10.2v9.6h-10.2zM1632.6 687.5h10.2v9.6h-10.2zM1731.4 696.8h10.2v9.6h-10.2zM1573.3 706.1h10.2v9.6h-10.2z"/>
<path fill="#b23bff" d="M1642.5 380.7h10.2v9.6h-10.2zM1741.3 427.2h10.2v9.6h-10.2zM1346.0 510.9h10.2v9.6h-10.2zM1355.9 631.7h10.2v9.6h-10.2zM1474.5 631.7h10.2v9.6h-10.2zM1306.4 687.5h10.2v9.6h-10.2zM1346.0 706.1h10.2v9.6h-10.2z"/>
<path fill="#5f5f5f" d="M1553.5 445.8h10.2v9.6h-10.2z"/>
<path fill="#ff7533" d="M1276.8 483.0h10.2v9.6h-10.2zM1672.1 483.0h10.2v9.6h-10.2zM1286.7 492.3h10.2v9.6h-10.2zM1711.7 566.7h10.2v9.6h-10.2zM1306.4 575.9h10.2v9.6h-10.2zM1583.2 641.0h10.2v9.6h-10.2zM1800.6 641.0h10.2v9.6h-10.2zM1276.8 659.6h10.2v9.6h-10.2zM1820.4 659.6h10.2v9.6h-10.2zM1800.6 668.9h10.2v9.6h-10.2zM1642.5 678.2h10.2v9.6h-10.2zM1721.5 687.5h10.2v9.6h-10.2zM1830.2 687.5h10.2v9.6h-10.2zM1840.1 687.5h10.2v9.6h-10.2zM1850.0 687.5h10.2v9.6h-10.2zM1711.7 696.8h10.2v9.6h-10.2zM1741.3 696.8h10.2v9.6h-10.2zM1771.0 696.8h10.2v9.6h-10.2zM1810.5 696.8h10.2v9.6h-10.2zM1583.2 706.1h10.2v9.6h-10.2zM1602.9 706.1h10.2v9.6h-10.2zM1652.4 706.1h10.2v9.6h-10.2zM1672.1 706.1h10.2v9.6h-10.2zM1691.9 706.1h10.2v9.6h-10.2zM1771.0 706.1h10.2v9.6h-10.2zM1810.5 706.1h10.2v9.6h-10.2z"/>
<path fill="#7b33ff" d="M1385.5 529.5h10.2v9.6h-10.2z"/>
</g>
<g stroke="#ffffff" stroke-opacity="0.18" stroke-width="0.8">
<line x1="1276.78" y1="157.6" x2="1276.78" y2="715.4"/>
<line x1="1266.9" y1="166.90" x2="1859.9" y2="166.90"/>
<line x1="1286.67" y1="157.6" x2="1286.67" y2="715.4"/>
<line x1="1266.9" y1="176.19" x2="1859.9" y2="176.19"/>
<line x1="1296.55" y1="157.6" x2="1296.55" y2="715.4"/>
<line x1="1266.9" y1="185.49" x2="1859.9" y2="185.49"/>
<line x1="1306.43" y1="157.6" x2="1306.43" y2="715.4"/>
<line x1="1266.9" y1="194.79" x2="1859.9" y2="194.79"/>
<line x1="1316.32" y1="157.6" x2="1316.32" y2="715.4"/>
<line x1="1266.9" y1="204.08" x2="1859.9" y2="204.08"/>
<line x1="1326.20" y1="157.6" x2="1326.20" y2="715.4"/>
<line x1="1266.9" y1="213.38" x2="1859.9" y2="213.38"/>
<line x1="1336.08" y1="157.6" x2="1336.08" y2="715.4"/>
<line x1="1266.9" y1="222.68" x2="1859.9" y2="222.68"/>
<line x1="1345.97" y1="157.6" x2="1345.97" y2="715.4"/>
<line x1="1266.9" y1="231.97" x2="1859.9" y2="231.97"/>
<line x1="1355.85" y1="157.6" x2="1355.85" y2="715.4"/>
<line x1="1266.9" y1="241.27" x2="1859.9" y2="241.27"/>
<line x1="1365.73" y1="157.6" x2="1365.73" y2="715.4"/>
<line x1="1266.9" y1="250.57" x2="1859.9" y2="250.57"/>
<line x1="1375.62" y1="157.6" x2="1375.62" y2="715.4"/>
<line x1="1266.9" y1="259.86" x2="1859.9" y2="259.86"/>
<line x1="1385.50" y1="157.6" x2="1385.50" y2="715.4"/>
<line x1="1266.9" y1="269.16" x2="1859.9" y2="269.16"/>
<line x1="1395.38" y1="157.6" x2="1395.38" y2="715.4"/>
<line x1="1266.9" y1="278.46" x2="1859.9" y2="278.46"/>
<line x1="1405.27" y1="157.6" x2="1405.27" y2="715.4"/>
<line x1="1266.9" y1="287.75" x2="1859.9" y2="287.75"/>
<line x1="1415.15" y1="157.6" x2="1415.15" y2="715.4"/>
<line x1="1266.9" y1="297.05" x2="1859.9" y2="297.05"/>
<line x1="1425.03" y1="157.6" x2="1425.03" y2="715.4"/>
<line x1="1266.9" y1="306.35" x2="1859.9" y2="306.35"/>
<line x1="1434.92" y1="157.6" x2="1434.92" y2="715.4"/>
<line x1="1266.9" y1="315.64" x2="1859.9" y2="315.64"/>
<line x1="1444.80" y1="157.6" x2="1444.80" y2="715.4"/>
<line x1="1266.9" y1="324.94" x2="1859.9" y2="324.94"/>
<line x1="1454.68" y1="157.6" x2="1454.68" y2="715.4"/>
<line x1="1266.9" y1="334.24" x2="1859.9" y2="334.24"/>
<line x1="1464.57" y1="157.6" x2="1464.57" y2="715.4"/>
<line x1="1266.9" y1="343.53" x2="1859.9" y2="343.53"/>
<line x1="1474.45" y1="157.6" x2="1474.45" y2="715.4"/>
<line x1="1266.9" y1="352.83" x2="1859.9" y2="352.83"/>
<line x1="1484.33" y1="157.6" x2="1484.33" y2="715.4"/>
<line x1="1266.9" y1="362.13" x2="1859.9" y2="362.13"/>
<line x1="1494.22" y1="157.6" x2="1494.22" y2="715.4"/>
<line x1="1266.9" y1="371.42" x2="1859.9" y2="371.42"/>
<line x1="1504.10" y1="157.6" x2="1504.10" y2="715.4"/>
<line x1="1266.9" y1="380.72" x2="1859.9" y2="380.72"/>
<line x1="1513.98" y1="157.6" x2="1513.98" y2="715.4"/>
<line x1="1266.9" y1="390.02" x2="1859.9" y2="390.02"/>
<line x1="1523.87" y1="157.6" x2="1523.87" y2="715.4"/>
<line x1="1266.9" y1="399.31" x2="1859.9" y2="399.31"/>
<line x1="1533.75" y1="157.6" x2="1533.75" y2="715.4"/>
<line x1="1266.9" y1="408.61" x2="1859.9" y2="408.61"/>
<line x1="1543.63" y1="157.6" x2="1543.63" y2="715.4"/>
<line x1="1266.9" y1="417.91" x2="1859.9" y2="417.91"/>
<line x1="1553.52" y1="157.6" x2="1553.52" y2="715.4"/>
<line x1="1266.9" y1="427.20" x2="1859.9" y2="427.20"/>
<line x1="1563.40" y1="157.6" x2="1563.40" y2="715.4"/>
<line x1="1266.9" y1="436.50" x2="1859.9" y2="436.50"/>
<line x1="1573.28" y1="157.6" x2="1573.28" y2="715.4"/>
<line x1="1266.9" y1="445.80" x2="1859.9" y2="445.80"/>
<line x1="1583.17" y1="157.6" x2="1583.17" y2="715.4"/>
<line x1="1266.9" y1="455.09" x2="1859.9" y2="455.09"/>
<line x1="1593.05" y1="157.6" x2="1593.05" y2="715.4"/>
<line x1="1266.9" y1="464.39" x2="1859.9" y2="464.39"/>
<line x1="1602.93" y1="157.6" x2="1602.93" y2="715.4"/>
<line x1="1266.9" y1="473.69" x2="1859.9" y2="473.69"/>
<line x1="1612.82" y1="157.6" x2="1612.82" y2="715.4"/>
<line x1="1266.9" y1="482.98" x2="1859.9" y2="482.98"/>
<line x1="1622.70" y1="157.6" x2="1622.70" y2="715.4"/>
<line x1="1266.9" y1="492.28" x2="1859.9" y2="492.28"/>
<line x1="1632.58" y1="157.6" x2="1632.58" y2="715.4"/>
<line x1="1266.9" y1="501.58" x2="1859.9" y2="501.58"/>
<line x1="1642.47" y1="157.6" x2="1642.47" y2="715.4"/>
<line x1="1266.9" y1="510.87" x2="1859.9" y2="510.87"/>
<line x1="1652.35" y1="157.6" x2="1652.35" y2="715.4"/>
<line x1="1266.9" y1="520.17" x2="1859.9" y2="520.17"/>
<line x1="1662.23" y1="157.6" x2="1662.23" y2="715.4"/>
<line x1="1266.9" y1="529.47" x2="1859.9" y2="529.47"/>
<line x1="1672.12" y1="157.6" x2="1672.12" y2="715.4"/>
<line x1="1266.9" y1="538.76" x2="1859.9" y2="538.76"/>
<line x1="1682.00" y1="157.6" x2="1682.00" y2="715.4"/>
<line x1="1266.9" y1="548.06" x2="1859.9" y2="548.06"/>
<line x1="1691.88" y1="157.6" x2="1691.88" y2="715.4"/>
<line x1="1266.9" y1="557.36" x2="1859.9" y2="557.36"/>
<line x1="1701.77" y1="157.6" x2="1701.77" y2="715.4"/>
<line x1="1266.9" y1="566.65" x2="1859.9" y2="566.65"/>
<line x1="1711.65" y1="157.6" x2="1711.65" y2="715.4"/>
<line x1="1266.9" y1="575.95" x2="1859.9" y2="575.95"/>
<line x1="1721.53" y1="157.6" x2="1721.53" y2="715.4"/>
<line x1="1266.9" y1="585.25" x2="1859.9" y2="585.25"/>
<line x1="1731.42" y1="157.6" x2="1731.42" y2="715.4"/>
<line x1="1266.9" y1="594.54" x2="1859.9" y2="594.54"/>
<line x1="1741.30" y1="157.6" x2="1741.30" y2="715.4"/>
<line x1="1266.9" y1="603.84" x2="1859.9" y2="603.84"/>
<line x1="1751.18" y1="157.6" x2="1751.18" y2="715.4"/>
<line x1="1266.9" y1="613.14" x2="1859.9" y2="613.14"/>
<line x1="1761.07" y1="157.6" x2="1761.07" y2="715.4"/>
<line x1="1266.9" y1="622.43" x2="1859.9" y2="622.43"/>
<line x1="1770.95" y1="157.6" x2="1770.95" y2="715.4"/>
<line x1="1266.9" y1="631.73" x2="1859.9" y2="631.73"/>
<line x1="1780.83" y1="157.6" x2="1780.83" y2="715.4"/>
<line x1="1266.9" y1="641.03" x2="1859.9" y2="641.03"/>
<line x1="1790.72" y1="157.6" x2="1790.72" y2="715.4"/>
<line x1="1266.9" y1="650.32" x2="1859.9" y2="650.32"/>
<line x1="1800.60" y1="157.6" x2="1800.60" y2="715.4"/>
<line x1="1266.9" y1="659.62" x2="1859.9" y2="659.62"/>
<line x1="1810.48" y1="157.6" x2="1810.48" y2="715.4"/>
<line x1="1266.9" y1="668.92" x2="1859.9" y2="668.92"/>
<line x1="1820.37" y1="157.6" x2="1820.37" y2="715.4"/>
<line x1="1266.9" y1="678.21" x2="1859.9" y2="678.21"/>
<line x1="1830.25" y1="157.6" x2="1830.25" y2="715.4"/>
<line x1="1266.9" y1="687.51" x2="1859.9" y2="687.51"/>
<line x1="1840.13" y1="157.6" x2="1840.13" y2="715.4"/>
<line x1="1266.9" y1="696.81" x2="1859.9" y2="696.81"/>
<line x1="1850.02" y1="157.6" x2="1850.02" y2="715.4"/>
<line x1="1266.9" y1="706.10" x2="1859.9" y2="706.10"/>
</g>
<g fill="none" stroke-width="4.6">
<rect x="1270.4" y="161.4" width="290.2" height="273.2" stroke="#88d1c4"/>
<rect x="1565.7" y="161.4" width="291.6" height="273.8" stroke="#dd00ff"/>
<rect x="1270.4" y="439.7" width="290.4" height="273.2" stroke="#dd00ff"/>
<rect x="1566.2" y="440.3" width="291.1" height="272.6" stroke="#88d1c4"/>
</g>
<rect x="1267.1" y="158.2" width="592" height="556.4" fill="none" stroke="#000" stroke-width="1.8"/>
<path d="M1247.6 161.4 H1231.4 V434.8 H1247.6" fill="none" stroke="#88d1c4" stroke-width="3.8"/>
<path d="M1247.6 440.3 H1231.4 V713.3 H1247.6" fill="none" stroke="#c14ef0" stroke-width="3.8"/>
<text transform="translate(1219.6,290) rotate(-90)" text-anchor="middle" font-family="'Liberation Sans', Arial, sans-serif" font-weight="bold" font-size="34" fill="#9dd6cb">North</text>
<text transform="translate(1219.6,573.4) rotate(-90)" text-anchor="middle" font-family="'Liberation Sans', Arial, sans-serif" font-weight="bold" font-size="34" fill="#e040f3">South</text>
<g stroke="#000" stroke-width="2.3" stroke-linecap="round" fill="none">
<line x1="1338.1" y1="53.6" x2="1684.5" y2="53.6"/>
<line x1="1338.1" y1="53.6" x2="1338.1" y2="73.2"/>
<line x1="1279.6" y1="73.2" x2="1396.1" y2="73.2"/>
<line x1="1279.6" y1="73.2" x2="1279.6" y2="113.9"/>
<line x1="1272.4" y1="113.9" x2="1287.5" y2="113.9"/>
<line x1="1272.4" y1="113.9" x2="1272.4" y2="154.4"/>
<line x1="1287.5" y1="113.9" x2="1287.5" y2="134"/>
<line x1="1282.1" y1="134" x2="1292" y2="134"/>
<line x1="1282.1" y1="134" x2="1282.1" y2="154.4"/>
<line x1="1292" y1="134" x2="1292" y2="154.4"/>
<line x1="1396.1" y1="73.2" x2="1396.1" y2="93.3"/>
<line x1="1311" y1="93.3" x2="1481.1" y2="93.3"/>
<line x1="1311" y1="93.3" x2="1311" y2="154.4"/>
<line x1="1301.4" y1="154.4" x2="1341.2" y2="154.4"/>
<line x1="1481.1" y1="93.3" x2="1481.1" y2="113.9"/>
<line x1="1403.3" y1="113.9" x2="1558.4" y2="113.9"/>
<line x1="1558.4" y1="113.9" x2="1558.4" y2="154.4"/>
<line x1="1403.3" y1="113.9" x2="1403.3" y2="134"/>
<line x1="1372.1" y1="134" x2="1435.5" y2="134"/>
<line x1="1372.1" y1="134" x2="1372.1" y2="154.4"/>
<line x1="1435.5" y1="134" x2="1435.5" y2="154.4"/>
<line x1="1350.9" y1="154.4" x2="1381.4" y2="154.4"/>
<line x1="1390.3" y1="154.4" x2="1549.1" y2="154.4"/>
<line x1="1684.5" y1="53.6" x2="1684.5" y2="93.9"/>
<line x1="1615.4" y1="93.9" x2="1753.5" y2="93.9"/>
<line x1="1615.4" y1="93.9" x2="1615.4" y2="113.9"/>
<line x1="1586.7" y1="113.9" x2="1645" y2="113.9"/>
<line x1="1586.7" y1="113.9" x2="1586.7" y2="154.4"/>
<line x1="1645" y1="113.9" x2="1645" y2="134.5"/>
<line x1="1617.3" y1="134.5" x2="1672.1" y2="134.5"/>
<line x1="1617.3" y1="134.5" x2="1617.3" y2="154.4"/>
<line x1="1672.1" y1="134.5" x2="1672.1" y2="154.4"/>
<line x1="1753.5" y1="93.9" x2="1753.5" y2="134.5"/>
<line x1="1696" y1="134.5" x2="1809.8" y2="134.5"/>
<line x1="1696" y1="134.5" x2="1696" y2="154.4"/>
<line x1="1809.8" y1="134.5" x2="1809.8" y2="154.4"/>
<line x1="1565.2" y1="154.4" x2="1597.9" y2="154.4"/>
<line x1="1605" y1="154.4" x2="1656.9" y2="154.4"/>
<line x1="1663" y1="154.4" x2="1677.7" y2="154.4"/>
<line x1="1683.7" y1="154.4" x2="1765.8" y2="154.4"/>
<line x1="1775.8" y1="154.4" x2="1854.8" y2="154.4"/>
</g>
<g shape-rendering="crispEdges">
<rect x="1886" y="179.30" width="24" height="9.15" fill="#3333ff"/>
<rect x="1886" y="188.05" width="24" height="9.15" fill="#3633ff"/>
<rect x="1886" y="196.79" width="24" height="9.15" fill="#4033ff"/>
<rect x="1886" y="205.54" width="24" height="9.15" fill="#4b33ff"/>
<rect x="1886" y="214.28" width="24" height="9.15" fill="#5533ff"/>
<rect x="1886" y="223.03" width="24" height="9.15" fill="#5d33ff"/>
<rect x="1886" y="231.77" width="24" height="9.15" fill="#6433ff"/>
<rect x="1886" y="240.52" width="24" height="9.15" fill="#6b33ff"/>
<rect x="1886" y="249.26" width="24" height="9.15" fill="#7333ff"/>
<rect x="1886" y="258.00" width="24" height="9.15" fill="#7a33ff"/>
<rect x="1886" y="266.75" width="24" height="9.15" fill="#8133ff"/>
<rect x="1886" y="275.50" width="24" height="9.15" fill="#8833ff"/>
<rect x="1886" y="284.24" width="24" height="9.15" fill="#9033ff"/>
<rect x="1886" y="292.99" width="24" height="9.15" fill="#9733ff"/>
<rect x="1886" y="301.73" width="24" height="9.15" fill="#a838ff"/>
<rect x="1886" y="310.48" width="24" height="9.15" fill="#bd3fff"/>
<rect x="1886" y="319.22" width="24" height="9.15" fill="#d441ff"/>
<rect x="1886" y="327.97" width="24" height="9.15" fill="#f138ff"/>
<rect x="1886" y="336.71" width="24" height="9.15" fill="#ff33fa"/>
<rect x="1886" y="345.46" width="24" height="9.15" fill="#ff33ef"/>
<rect x="1886" y="354.20" width="24" height="9.15" fill="#ff33e4"/>
<rect x="1886" y="362.95" width="24" height="9.15" fill="#ff33d9"/>
<rect x="1886" y="371.69" width="24" height="9.15" fill="#ff33ce"/>
<rect x="1886" y="380.44" width="24" height="9.15" fill="#ff33c3"/>
<rect x="1886" y="389.18" width="24" height="9.15" fill="#ff33b8"/>
<rect x="1886" y="397.93" width="24" height="9.15" fill="#ff33ad"/>
<rect x="1886" y="406.67" width="24" height="9.15" fill="#ff33a2"/>
<rect x="1886" y="415.42" width="24" height="9.15" fill="#ff3397"/>
<rect x="1886" y="424.16" width="24" height="9.15" fill="#ff338d"/>
<rect x="1886" y="432.91" width="24" height="9.15" fill="#ff3382"/>
<rect x="1886" y="441.65" width="24" height="9.15" fill="#ff3378"/>
<rect x="1886" y="450.40" width="24" height="9.15" fill="#ff336d"/>
<rect x="1886" y="459.14" width="24" height="9.15" fill="#ff3363"/>
<rect x="1886" y="467.89" width="24" height="9.15" fill="#ff335b"/>
<rect x="1886" y="476.63" width="24" height="9.15" fill="#ff3353"/>
<rect x="1886" y="485.38" width="24" height="9.15" fill="#ff334b"/>
<rect x="1886" y="494.12" width="24" height="9.15" fill="#ff3343"/>
<rect x="1886" y="502.87" width="24" height="9.15" fill="#ff333a"/>
<rect x="1886" y="511.61" width="24" height="9.15" fill="#ff3433"/>
<rect x="1886" y="520.36" width="24" height="9.15" fill="#ff3f33"/>
<rect x="1886" y="529.10" width="24" height="9.15" fill="#ff4b33"/>
<rect x="1886" y="537.85" width="24" height="9.15" fill="#ff5633"/>
<rect x="1886" y="546.59" width="24" height="9.15" fill="#ff5f33"/>
<rect x="1886" y="555.34" width="24" height="9.15" fill="#ff6733"/>
<rect x="1886" y="564.08" width="24" height="9.15" fill="#ff7033"/>
<rect x="1886" y="572.83" width="24" height="9.15" fill="#ff7933"/>
<rect x="1886" y="581.57" width="24" height="9.15" fill="#ff8133"/>
<rect x="1886" y="590.32" width="24" height="9.15" fill="#ff8a33"/>
<rect x="1886" y="599.06" width="24" height="9.15" fill="#ff9233"/>
<rect x="1886" y="607.81" width="24" height="9.15" fill="#ff9a33"/>
<rect x="1886" y="616.55" width="24" height="9.15" fill="#ffa333"/>
<rect x="1886" y="625.30" width="24" height="9.15" fill="#ffab33"/>
<rect x="1886" y="634.04" width="24" height="9.15" fill="#ffb433"/>
<rect x="1886" y="642.79" width="24" height="9.15" fill="#ffbe33"/>
<rect x="1886" y="651.53" width="24" height="9.15" fill="#ffc733"/>
<rect x="1886" y="660.28" width="24" height="9.15" fill="#ffd133"/>
<rect x="1886" y="669.02" width="24" height="9.15" fill="#ffdb33"/>
<rect x="1886" y="677.77" width="24" height="9.15" fill="#ffe533"/>
<rect x="1886" y="686.51" width="24" height="9.15" fill="#fff033"/>
<rect x="1886" y="695.26" width="24" height="9.15" fill="#fffa33"/>
</g>
<rect x="1886" y="168" width="24" height="11.3" fill="#555"/>
<rect x="1886.1" y="168.9" width="23.7" height="135.1" fill="none"/>
<rect x="1886.1" y="168.9" width="23.6" height="535.3" fill="none" stroke="#000" stroke-width="1.8"/>
<g stroke="#000" stroke-width="1.8">
<line x1="1910" y1="229.6" x2="1915" y2="229.6"/>
<line x1="1910" y1="347.5" x2="1915" y2="347.5"/>
<line x1="1910" y1="466.2" x2="1915" y2="466.2"/>
<line x1="1910" y1="584.2" x2="1915" y2="584.2"/>
<line x1="1910" y1="702.3" x2="1915" y2="702.3"/>
</g>
<g font-family="'Liberation Sans', Arial, sans-serif" font-size="23.5" fill="#000">
<text x="1920.5" y="238.0">5.0</text>
<text x="1920.5" y="355.9">3.9</text>
<text x="1920.5" y="474.59999999999997">2.7</text>
<text x="1920.5" y="592.6">1.6</text>
<text x="1920.5" y="710.6999999999999">0.4</text>
</g>
<text transform="translate(1985,435) rotate(-90)" text-anchor="middle" font-family="'Liberation Sans', Arial, sans-serif" font-size="28" fill="#000">Coancestry</text>
<line x1="1262" y1="913.5" x2="1279" y2="913.5" stroke="#cccccc" stroke-width="1"/>
<g stroke="#000" fill="none">
<line x1="1305.1" y1="1069.4" x2="1928" y2="1069.4" stroke-width="2.6"/>
<line x1="1473.6" y1="853.4" x2="1473.6" y2="1321" stroke-width="2.6"/>
</g>
<g fill="#8dd3c7" fill-opacity="0.8" stroke="#7ccabd" stroke-opacity="0.6" stroke-width="0.8">
<circle cx="1395.2" cy="950.7" r="4.8"/>
<circle cx="1392.4" cy="957.1" r="4.8"/>
<circle cx="1367.8" cy="957.1" r="4.8"/>
<circle cx="1358.7" cy="961.6" r="4.8"/>
<circle cx="1354.2" cy="964.8" r="4.8"/>
<circle cx="1369.1" cy="968.3" r="4.8"/>
<circle cx="1380.0" cy="966.0" r="4.8"/>
<circle cx="1379.0" cy="970.7" r="4.8"/>
<circle cx="1386.5" cy="975.5" r="4.8"/>
<circle cx="1381.5" cy="976.7" r="4.8"/>
<circle cx="1355.9" cy="974.2" r="4.8"/>
<circle cx="1353.8" cy="979.2" r="4.8"/>
<circle cx="1344.3" cy="985.1" r="4.8"/>
<circle cx="1345.8" cy="992.1" r="4.8"/>
<circle cx="1349.8" cy="996.0" r="4.8"/>
<circle cx="1348.8" cy="1001.0" r="4.8"/>
<circle cx="1357.7" cy="983.6" r="4.8"/>
<circle cx="1364.7" cy="986.6" r="4.8"/>
<circle cx="1368.6" cy="981.6" r="4.8"/>
<circle cx="1372.6" cy="986.6" r="4.8"/>
<circle cx="1375.6" cy="991.6" r="4.8"/>
<circle cx="1361.7" cy="991.6" r="4.8"/>
<circle cx="1367.6" cy="995.5" r="4.8"/>
<circle cx="1359.7" cy="1000.5" r="4.8"/>
<circle cx="1370.6" cy="1002.5" r="4.8"/>
<circle cx="1382.5" cy="999.0" r="4.8"/>
<circle cx="1394.9" cy="993.5" r="4.8"/>
<circle cx="1399.9" cy="1002.0" r="4.8"/>
<circle cx="1401.3" cy="995.5" r="4.8"/>
<circle cx="1339.9" cy="1008.9" r="4.8"/>
<circle cx="1337.9" cy="1010.4" r="4.8"/>
<circle cx="1348.8" cy="1013.4" r="4.8"/>
<circle cx="1346.8" cy="1018.8" r="4.8"/>
<circle cx="1354.7" cy="1012.4" r="4.8"/>
<circle cx="1363.2" cy="1012.4" r="4.8"/>
<circle cx="1369.6" cy="1017.3" r="4.8"/>
<circle cx="1374.6" cy="1022.3" r="4.8"/>
<circle cx="1359.2" cy="1023.3" r="4.8"/>
<circle cx="1358.2" cy="1027.2" r="4.8"/>
<circle cx="1379.3" cy="1010.9" r="4.8"/>
<circle cx="1389.4" cy="1022.8" r="4.8"/>
<circle cx="1387.5" cy="1025.8" r="4.8"/>
<circle cx="1366.1" cy="1036.7" r="4.8"/>
<circle cx="1391.9" cy="1037.7" r="4.8"/>
<circle cx="1392.4" cy="1042.1" r="4.8"/>
<circle cx="1372.4" cy="1047.6" r="4.8"/>
<circle cx="1381.5" cy="1052.0" r="4.8"/>
<circle cx="1395.4" cy="1048.6" r="4.8"/>
<circle cx="1401.3" cy="1049.1" r="4.8"/>
<circle cx="1406.3" cy="1043.6" r="4.8"/>
<circle cx="1411.8" cy="1049.1" r="4.8"/>
<circle cx="1445.0" cy="1032.2" r="4.8"/>
<circle cx="1439.0" cy="1052.0" r="4.8"/>
<circle cx="1444.0" cy="1053.0" r="4.8"/>
<circle cx="1451.9" cy="1062.4" r="4.8"/>
<circle cx="1441.0" cy="1066.9" r="4.8"/>
<circle cx="1446.0" cy="1071.9" r="4.8"/>
<circle cx="1399.4" cy="1062.0" r="4.8"/>
<circle cx="1388.5" cy="1056.0" r="4.8"/>
<circle cx="1414.2" cy="1058.0" r="4.8"/>
<circle cx="1414.2" cy="1064.9" r="4.8"/>
<circle cx="1362.7" cy="1062.0" r="4.8"/>
<circle cx="1371.6" cy="1061.0" r="4.8"/>
<circle cx="1380.5" cy="1063.0" r="4.8"/>
<circle cx="1350.3" cy="1089.6" r="4.8"/>
<circle cx="1351.9" cy="1096.8" r="4.8"/>
<circle cx="1354.1" cy="1106.1" r="4.8"/>
<circle cx="1359.6" cy="1099.5" r="4.8"/>
<circle cx="1358.0" cy="1080.9" r="4.8"/>
<circle cx="1365.6" cy="1091.8" r="4.8"/>
<circle cx="1374.4" cy="1110.5" r="4.8"/>
<circle cx="1386.5" cy="1110.5" r="4.8"/>
<circle cx="1376.6" cy="1103.9" r="4.8"/>
<circle cx="1384.3" cy="1100.6" r="4.8"/>
<circle cx="1396.4" cy="1097.3" r="4.8"/>
<circle cx="1401.9" cy="1092.9" r="4.8"/>
<circle cx="1408.5" cy="1086.4" r="4.8"/>
<circle cx="1424.9" cy="1087.5" r="4.8"/>
<circle cx="1434.3" cy="1090.7" r="4.8"/>
<circle cx="1431.5" cy="1078.7" r="4.8"/>
<circle cx="1426.0" cy="1073.2" r="4.8"/>
<circle cx="1417.2" cy="1078.7" r="4.8"/>
<circle cx="1440.8" cy="1067.1" r="4.8"/>
<circle cx="1445.8" cy="1071.5" r="4.8"/>
<circle cx="1451.3" cy="1062.7" r="4.8"/>
<circle cx="1399.7" cy="1062.7" r="4.8"/>
<circle cx="1413.9" cy="1063.3" r="4.8"/>
<circle cx="1388.7" cy="1077.6" r="4.8"/>
<circle cx="1374.4" cy="1076.5" r="4.8"/>
<circle cx="1363.4" cy="1074.3" r="4.8"/>
<circle cx="1356.8" cy="1069.3" r="4.8"/>
<circle cx="1372.2" cy="1085.3" r="4.8"/>
<circle cx="1390.9" cy="1086.4" r="4.8"/>
<circle cx="1382.1" cy="1092.9" r="4.8"/>
<circle cx="1399.1" cy="1123.7" r="4.8"/>
<circle cx="1372.4" cy="1129.4" r="4.8"/>
<circle cx="1401.9" cy="1134.7" r="4.8"/>
<circle cx="1404.1" cy="1135.8" r="4.8"/>
<circle cx="1394.2" cy="1150.0" r="4.8"/>
<circle cx="1401.9" cy="1151.1" r="4.8"/>
<circle cx="1414.5" cy="1148.9" r="4.8"/>
<circle cx="1418.9" cy="1147.8" r="4.8"/>
<circle cx="1416.7" cy="1158.8" r="4.8"/>
<circle cx="1446.9" cy="1155.5" r="4.8"/>
<circle cx="1389.8" cy="1155.5" r="4.8"/>
<circle cx="1399.7" cy="1156.6" r="4.8"/>
<circle cx="1366.7" cy="1166.5" r="4.8"/>
<circle cx="1374.4" cy="1168.2" r="4.8"/>
<circle cx="1382.1" cy="1165.4" r="4.8"/>
<circle cx="1390.9" cy="1165.4" r="4.8"/>
<circle cx="1395.3" cy="1169.8" r="4.8"/>
<circle cx="1371.7" cy="1174.2" r="4.8"/>
<circle cx="1386.0" cy="1178.6" r="4.8"/>
<circle cx="1392.0" cy="1176.4" r="4.8"/>
<circle cx="1399.7" cy="1178.0" r="4.8"/>
<circle cx="1406.3" cy="1176.9" r="4.8"/>
<circle cx="1410.1" cy="1170.4" r="4.8"/>
<circle cx="1418.3" cy="1176.4" r="4.8"/>
<circle cx="1419.4" cy="1174.2" r="4.8"/>
<circle cx="1390.3" cy="1187.4" r="4.8"/>
<circle cx="1368.9" cy="1192.9" r="4.8"/>
<circle cx="1372.8" cy="1200.0" r="4.8"/>
<circle cx="1371.1" cy="1206.6" r="4.8"/>
<circle cx="1372.8" cy="1082.7" r="4.8"/>
<circle cx="1382.7" cy="1084.9" r="4.8"/>
<circle cx="1401.9" cy="1064.5" r="4.8"/>
<circle cx="1356.0" cy="1093.8" r="4.8"/>
<circle cx="1374.5" cy="1070.9" r="4.8"/>
<circle cx="1429.7" cy="1079.9" r="4.8"/>
<circle cx="1417.7" cy="1080.1" r="4.8"/>
<circle cx="1402.9" cy="1067.7" r="4.8"/>
<circle cx="1402.6" cy="1095.0" r="4.8"/>
<circle cx="1394.2" cy="1090.2" r="4.8"/>
<circle cx="1405.4" cy="1064.4" r="4.8"/>
<circle cx="1411.9" cy="1084.5" r="4.8"/>
<circle cx="1377.6" cy="1063.2" r="4.8"/>
<circle cx="1419.9" cy="1080.0" r="4.8"/>
<circle cx="1408.9" cy="1095.4" r="4.8"/>
<circle cx="1408.6" cy="1097.0" r="4.8"/>
<circle cx="1384.6" cy="1092.4" r="4.8"/>
<circle cx="1388.3" cy="1097.6" r="4.8"/>
<circle cx="1420.9" cy="1065.7" r="4.8"/>
<circle cx="1365.2" cy="1070.2" r="4.8"/>
<circle cx="1427.4" cy="1078.6" r="4.8"/>
<circle cx="1402.0" cy="1073.4" r="4.8"/>
<circle cx="1393.0" cy="1076.7" r="4.8"/>
<circle cx="1381.3" cy="1084.2" r="4.8"/>
<circle cx="1398.8" cy="1096.4" r="4.8"/>
<circle cx="1406.1" cy="1097.3" r="4.8"/>
<circle cx="1419.2" cy="1099.7" r="4.8"/>
<circle cx="1405.3" cy="1068.2" r="4.8"/>
<circle cx="1419.5" cy="1098.7" r="4.8"/>
<circle cx="1422.9" cy="1083.6" r="4.8"/>
<circle cx="1408.5" cy="1070.0" r="4.8"/>
<circle cx="1417.4" cy="1083.8" r="4.8"/>
<circle cx="1376.4" cy="1064.4" r="4.8"/>
<circle cx="1419.0" cy="1099.6" r="4.8"/>
<circle cx="1361.6" cy="1092.4" r="4.8"/>
<circle cx="1385.8" cy="1067.7" r="4.8"/>
<circle cx="1377.0" cy="1091.2" r="4.8"/>
<circle cx="1420.5" cy="1063.7" r="4.8"/>
<circle cx="1401.1" cy="1063.7" r="4.8"/>
<circle cx="1408.9" cy="1074.6" r="4.8"/>
<circle cx="1421.1" cy="1099.3" r="4.8"/>
<circle cx="1392.9" cy="1099.9" r="4.8"/>
<circle cx="1378.2" cy="1064.9" r="4.8"/>
<circle cx="1400.0" cy="1063.2" r="4.8"/>
<circle cx="1369.8" cy="1077.5" r="4.8"/>
<circle cx="1400.8" cy="1067.9" r="4.8"/>
<circle cx="1358.2" cy="1095.0" r="4.8"/>
<circle cx="1378.5" cy="1098.4" r="4.8"/>
<circle cx="1422.2" cy="1076.4" r="4.8"/>
<circle cx="1389.5" cy="1081.8" r="4.8"/>
<circle cx="1403.3" cy="1084.6" r="4.8"/>
<circle cx="1396.9" cy="1085.6" r="4.8"/>
<circle cx="1425.5" cy="1081.3" r="4.8"/>
<circle cx="1387.3" cy="1089.4" r="4.8"/>
<circle cx="1372.8" cy="1073.4" r="4.8"/>
<circle cx="1428.3" cy="1081.8" r="4.8"/>
<circle cx="1396.1" cy="1062.4" r="4.8"/>
<circle cx="1386.1" cy="1084.0" r="4.8"/>
<circle cx="1356.5" cy="1085.4" r="4.8"/>
<circle cx="1402.4" cy="1064.3" r="4.8"/>
<circle cx="1402.1" cy="1079.7" r="4.8"/>
<circle cx="1405.9" cy="1075.4" r="4.8"/>
<circle cx="1408.0" cy="1090.0" r="4.8"/>
<circle cx="1356.7" cy="1064.3" r="4.8"/>
<circle cx="1405.7" cy="1098.6" r="4.8"/>
<circle cx="1373.8" cy="1079.3" r="4.8"/>
<circle cx="1399.5" cy="1074.2" r="4.8"/>
<circle cx="1382.3" cy="1073.9" r="4.8"/>
<circle cx="1382.7" cy="1084.6" r="4.8"/>
<circle cx="1377.5" cy="1076.3" r="4.8"/>
<circle cx="1376.6" cy="978.7" r="4.8"/>
<circle cx="1369.1" cy="997.8" r="4.8"/>
<circle cx="1359.5" cy="984.0" r="4.8"/>
<circle cx="1377.7" cy="984.4" r="4.8"/>
<circle cx="1354.9" cy="989.8" r="4.8"/>
<circle cx="1373.8" cy="980.7" r="4.8"/>
<circle cx="1359.9" cy="987.0" r="4.8"/>
<circle cx="1378.8" cy="989.8" r="4.8"/>
<circle cx="1379.7" cy="982.6" r="4.8"/>
<circle cx="1360.5" cy="995.6" r="4.8"/>
<circle cx="1380.7" cy="990.2" r="4.8"/>
<circle cx="1356.3" cy="981.3" r="4.8"/>
<circle cx="1367.6" cy="983.2" r="4.8"/>
<circle cx="1377.9" cy="1000.6" r="4.8"/>
<circle cx="1354.8" cy="985.5" r="4.8"/>
<circle cx="1377.9" cy="995.3" r="4.8"/>
<circle cx="1377.8" cy="987.3" r="4.8"/>
<circle cx="1352.8" cy="985.9" r="4.8"/>
<circle cx="1377.4" cy="985.3" r="4.8"/>
<circle cx="1360.8" cy="989.3" r="4.8"/>
<circle cx="1363.5" cy="989.1" r="4.8"/>
<circle cx="1382.1" cy="982.2" r="4.8"/>
<circle cx="1348.2" cy="1003.5" r="4.8"/>
<circle cx="1380.6" cy="1004.6" r="4.8"/>
<circle cx="1364.1" cy="1003.7" r="4.8"/>
<circle cx="1382.3" cy="984.0" r="4.8"/>
<circle cx="1375.6" cy="1000.6" r="4.8"/>
<circle cx="1372.5" cy="992.0" r="4.8"/>
<circle cx="1358.7" cy="987.2" r="4.8"/>
<circle cx="1356.4" cy="979.8" r="4.8"/>
</g>
<g fill="#4a1ad8" stroke="#3a0fb0" stroke-width="1">
<circle cx="1531.8" cy="1018" r="4.9"/>
<circle cx="1558.6" cy="1020.5" r="4.9"/>
<circle cx="1566.2" cy="1043.7" r="4.9"/>
<circle cx="1626.7" cy="1047.3" r="4.9"/>
<circle cx="1662.6" cy="1027.7" r="4.9"/>
<circle cx="1679.5" cy="1030.4" r="4.9"/>
<circle cx="1706.7" cy="1025.4" r="4.9"/>
<circle cx="1501.1" cy="1080.4" r="4.9"/>
<circle cx="1516.7" cy="1080.5" r="4.9"/>
<circle cx="1532.4" cy="1102.2" r="4.9"/>
<circle cx="1565.8" cy="1100.3" r="4.9"/>
<circle cx="1676.2" cy="1097" r="4.9"/>
<circle cx="1740.8" cy="1083.3" r="4.9"/>
<circle cx="1714.2" cy="1122" r="4.9"/>
<circle cx="1495.7" cy="1152.2" r="4.9"/>
</g>
<g fill="#e23cfb" stroke="#bf12d6" stroke-width="1">
<circle cx="1847.8" cy="987.5" r="4.7"/>
<circle cx="1865.3" cy="999.4" r="4.7"/>
<circle cx="1863.7" cy="1003.2" r="4.7"/>
<circle cx="1872.7" cy="1003.7" r="4.7"/>
<circle cx="1847.2" cy="1017.5" r="4.7"/>
<circle cx="1793.9" cy="1022.8" r="4.7"/>
<circle cx="1799.6" cy="1038.7" r="4.7"/>
<circle cx="1793.1" cy="1084.1" r="4.7"/>
<circle cx="1821.2" cy="1075.1" r="4.7"/>
<circle cx="1834.5" cy="1080.2" r="4.7"/>
<circle cx="1836.6" cy="1079.1" r="4.7"/>
<circle cx="1843" cy="1080.2" r="4.7"/>
<circle cx="1828.9" cy="1092.4" r="4.7"/>
<circle cx="1828.9" cy="1107.3" r="4.7"/>
<circle cx="1848.8" cy="1090.1" r="4.7"/>
<circle cx="1854.1" cy="1073.8" r="4.7"/>
<circle cx="1858.9" cy="1070.1" r="4.7"/>
<circle cx="1865.8" cy="1063" r="4.7"/>
<circle cx="1860" cy="1086" r="4.7"/>
<circle cx="1863.2" cy="1078.1" r="4.7"/>
<circle cx="1866.9" cy="1092.7" r="4.7"/>
<circle cx="1869" cy="1082.3" r="4.7"/>
<circle cx="1871.7" cy="1073.8" r="4.7"/>
<circle cx="1875.4" cy="1075.4" r="4.7"/>
<circle cx="1873.8" cy="1085" r="4.7"/>
<circle cx="1875.4" cy="1095.1" r="4.7"/>
<circle cx="1877.2" cy="1101.4" r="4.7"/>
<circle cx="1879.6" cy="1061.1" r="4.7"/>
<circle cx="1878.6" cy="1067.4" r="4.7"/>
<circle cx="1882.3" cy="1084.1" r="4.7"/>
<circle cx="1888.1" cy="1069.6" r="4.7"/>
<circle cx="1888.7" cy="1055.7" r="4.7"/>
<circle cx="1891.9" cy="1052.3" r="4.7"/>
<circle cx="1892.9" cy="1061.1" r="4.7"/>
<circle cx="1900.4" cy="1059.5" r="4.7"/>
<circle cx="1901.4" cy="1065.3" r="4.7"/>
<circle cx="1903" cy="1074.9" r="4.7"/>
<circle cx="1908.3" cy="1051.7" r="4.7"/>
<circle cx="1912" cy="1052.3" r="4.7"/>
<circle cx="1913.6" cy="1053.1" r="4.7"/>
</g>
<rect x="1305.1" y="853.4" width="623.7" height="468.6" fill="none" stroke="#000" stroke-width="2.6"/>
<g stroke="#000" stroke-width="2">
<line x1="1297.7" y1="906.2" x2="1305" y2="906.2"/>
<line x1="1297.7" y1="989.8" x2="1305" y2="989.8"/>
<line x1="1297.7" y1="1069.4" x2="1305" y2="1069.4"/>
<line x1="1297.7" y1="1157.2" x2="1305" y2="1157.2"/>
<line x1="1297.7" y1="1241.2" x2="1305" y2="1241.2"/>
<line x1="1390.6" y1="1322" x2="1390.6" y2="1328.7"/>
<line x1="1473.8" y1="1322" x2="1473.8" y2="1328.7"/>
<line x1="1566.4" y1="1322" x2="1566.4" y2="1328.7"/>
<line x1="1654.3" y1="1322" x2="1654.3" y2="1328.7"/>
<line x1="1742.1" y1="1322" x2="1742.1" y2="1328.7"/>
<line x1="1829.8" y1="1322" x2="1829.8" y2="1328.7"/>
<line x1="1917.4" y1="1322" x2="1917.4" y2="1328.7"/>
</g>
<g font-family="'Liberation Sans', Arial, sans-serif" font-size="19.5" fill="#000">
<text x="1293" y="913.4000000000001" text-anchor="end">4</text>
<text x="1293" y="997.0" text-anchor="end">2</text>
<text x="1293" y="1076.6000000000001" text-anchor="end">0</text>
<text x="1293" y="1164.4" text-anchor="end">-2</text>
<text x="1293" y="1248.4" text-anchor="end">-4</text>
<text x="1388.8" y="1348.3" text-anchor="middle">-2</text>
<text x="1472.9" y="1348.3" text-anchor="middle">0</text>
<text x="1566.4" y="1348.3" text-anchor="middle">2</text>
<text x="1654.3" y="1348.3" text-anchor="middle">4</text>
<text x="1742.1" y="1348.3" text-anchor="middle">6</text>
<text x="1829.8" y="1348.3" text-anchor="middle">8</text>
<text x="1920.3" y="1348.3" text-anchor="middle">10</text>
</g>
<text x="1607" y="1391.8" text-anchor="middle" font-family="'Liberation Sans', Arial, sans-serif" font-size="28" fill="#000">PC1 36.4%</text>
<text transform="translate(1257.5,1077.5) rotate(-90)" text-anchor="middle" font-family="'Liberation Sans', Arial, sans-serif" font-size="28" fill="#000">PC2 3.4%</text>
</svg>
</body></html>
